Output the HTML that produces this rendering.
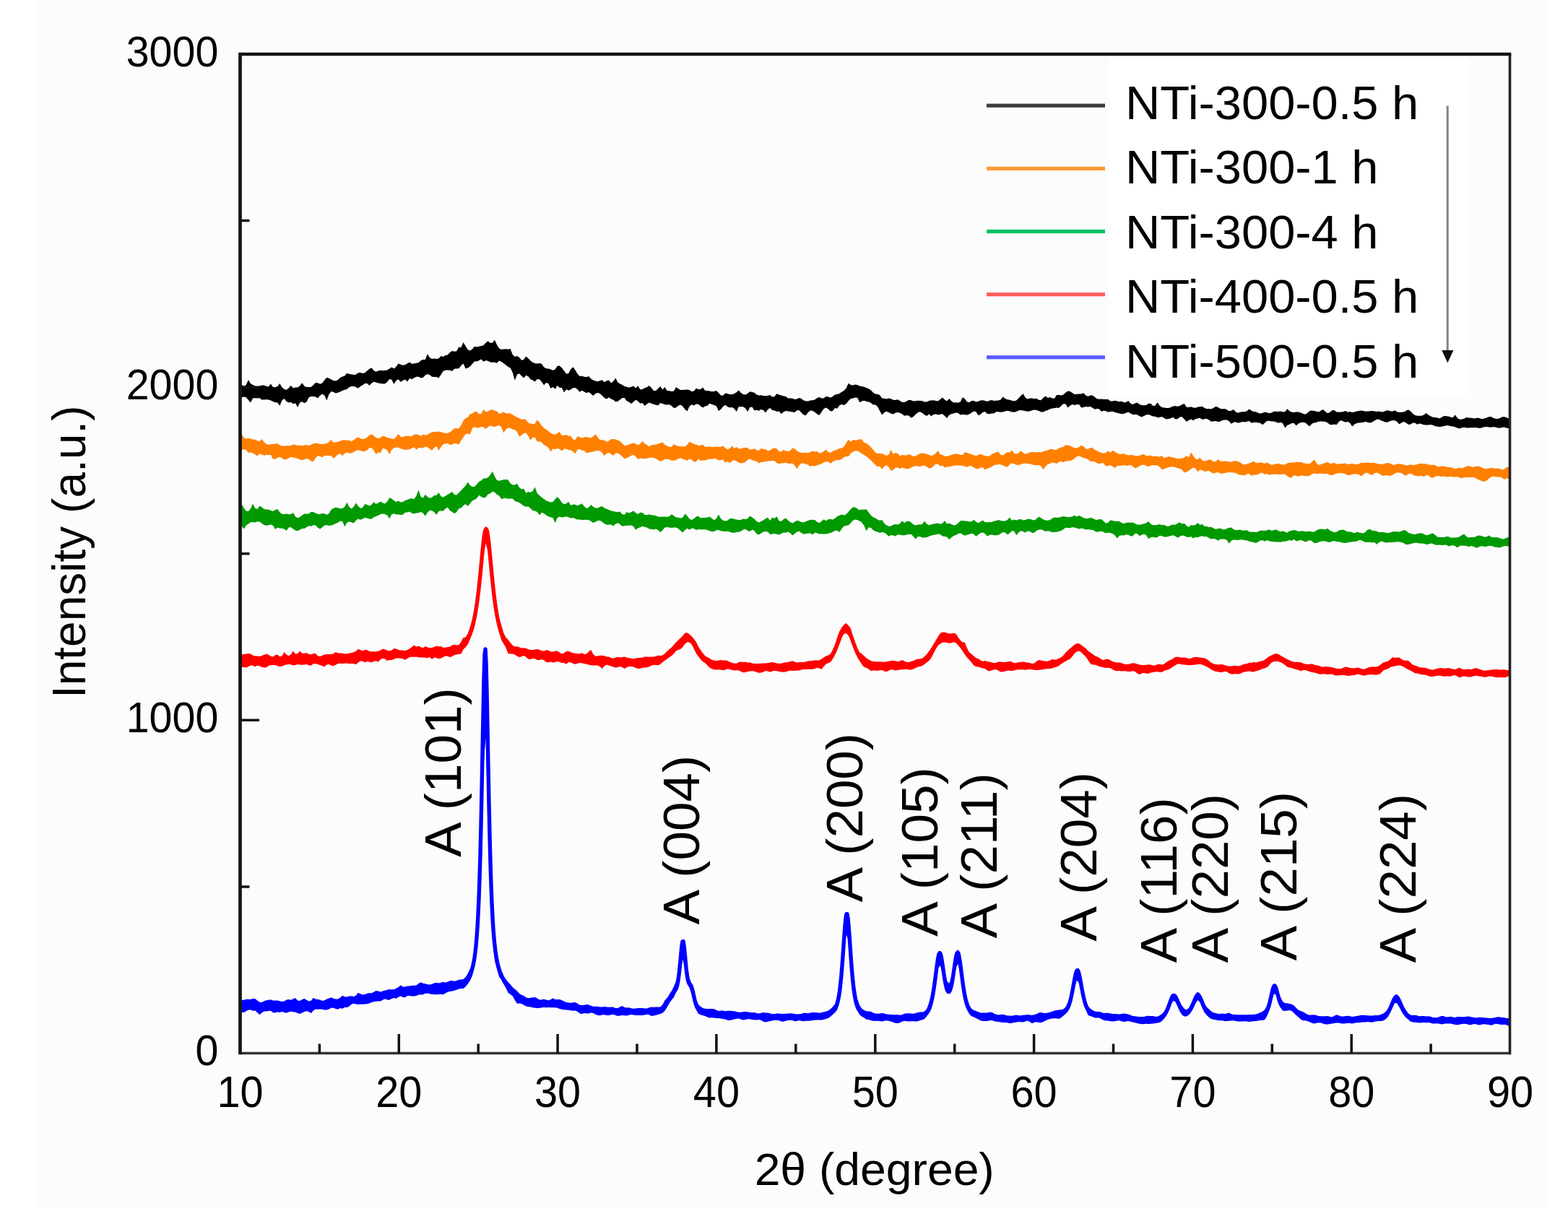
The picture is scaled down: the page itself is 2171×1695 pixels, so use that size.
<!DOCTYPE html>
<html><head><meta charset="utf-8"><style>
html,body{margin:0;padding:0;background:#fff;}
svg{display:block;}
</style></head><body>
<svg width="2171" height="1695" viewBox="0 0 2171 1695">
<rect width="2171" height="1695" fill="#fff"/>
<rect x="48" y="0" width="2094" height="1671" fill="#fcfcfc"/>
<rect x="1536" y="80" width="497" height="468" fill="#fff"/>
<polygon fill="#000000" points="333.0,532.1 337.7,535.0 340.8,533.1 343.9,526.0 347.0,531.3 350.1,533.0 353.2,534.8 356.3,535.5 359.4,534.5 362.5,533.5 365.6,533.5 368.7,534.8 371.8,535.4 374.9,531.5 378.0,535.9 381.1,536.2 384.2,534.9 387.3,531.0 390.4,536.3 393.5,539.1 396.6,539.8 399.7,537.4 402.8,533.8 405.9,537.4 409.0,536.6 412.1,536.5 415.2,534.3 418.3,530.2 421.4,534.7 424.5,536.1 427.6,536.0 430.7,535.9 433.8,533.3 436.9,530.1 440.0,530.2 443.1,531.7 446.2,530.5 449.3,526.3 452.4,522.8 455.5,523.7 458.6,525.6 461.7,527.0 464.8,527.5 467.9,526.1 471.0,523.0 474.1,521.6 477.2,520.5 480.3,516.7 483.4,517.9 486.5,518.2 489.6,519.0 492.7,518.8 495.8,516.3 498.9,516.1 502.0,517.1 505.1,516.2 508.2,513.4 511.3,510.9 514.4,509.2 517.5,513.3 520.6,514.8 523.7,513.6 526.8,512.8 529.9,513.2 533.0,513.1 536.1,512.4 539.2,510.4 542.3,508.4 545.4,510.4 548.5,507.7 551.6,503.4 554.7,504.7 557.8,505.7 560.9,505.3 564.0,503.2 567.1,501.8 570.2,503.7 573.3,503.6 576.4,502.7 579.5,502.3 582.6,499.2 585.7,498.1 588.8,498.0 591.9,490.2 595.0,495.3 598.1,497.0 601.2,496.6 604.3,497.1 607.4,496.4 610.5,493.0 613.6,494.1 616.7,492.0 619.8,491.4 622.9,488.0 626.0,486.1 629.1,486.7 632.2,486.3 635.3,480.6 638.4,481.3 641.5,473.9 644.6,479.2 647.7,484.2 650.8,485.6 653.9,483.5 657.0,479.7 660.1,480.4 663.2,479.7 666.3,478.9 669.4,478.3 672.5,474.8 675.6,472.3 678.7,474.7 681.8,474.8 684.9,470.7 688.0,477.6 691.1,482.4 694.2,483.9 697.3,483.4 700.4,483.3 703.5,483.7 706.6,482.9 709.7,491.1 712.8,493.9 715.9,492.9 719.0,494.9 722.1,498.8 725.2,497.9 728.3,493.5 731.4,496.2 734.5,499.6 737.6,501.7 740.7,503.2 743.8,503.6 746.9,502.9 750.0,503.7 753.1,508.4 756.2,510.3 759.3,510.6 762.4,511.5 765.5,512.8 768.6,511.5 771.7,506.8 774.8,506.4 777.9,509.4 781.0,513.5 784.1,517.7 787.2,517.0 790.3,511.2 793.4,508.3 796.5,512.5 799.6,517.8 802.7,521.1 805.8,520.8 808.9,521.7 812.0,522.3 815.1,521.1 818.2,524.4 821.3,526.5 824.4,527.6 827.5,528.3 830.6,527.3 833.7,526.3 836.8,529.3 839.9,527.2 843.0,526.4 846.1,530.4 849.2,528.1 852.3,523.6 855.4,529.4 858.5,531.4 861.6,532.9 864.7,535.0 867.8,535.7 870.9,536.8 874.0,535.7 877.1,534.5 880.2,537.5 883.3,534.2 886.4,539.4 889.5,538.9 892.6,537.2 895.7,536.3 898.8,534.1 901.9,537.0 905.0,541.2 908.1,541.1 911.2,538.1 914.3,535.0 917.4,539.5 920.5,536.1 923.6,541.2 926.7,541.3 929.8,542.1 932.9,541.8 936.0,535.9 939.1,538.3 942.2,540.1 945.3,539.9 948.4,539.7 951.5,539.4 954.6,540.1 957.7,542.2 960.8,541.4 963.9,537.8 967.0,539.1 970.1,539.0 973.2,536.6 976.3,541.0 979.4,541.1 982.5,541.4 985.6,542.3 988.7,542.1 991.8,541.0 994.9,544.1 998.0,547.6 1001.1,547.7 1004.2,544.4 1007.3,544.9 1010.4,546.3 1013.5,546.1 1016.6,545.2 1019.7,543.3 1022.8,540.4 1025.9,544.0 1029.0,546.0 1032.1,546.6 1035.2,545.0 1038.3,542.2 1041.4,543.0 1044.5,543.8 1047.6,546.6 1050.7,547.5 1053.8,547.3 1056.9,547.9 1060.0,548.2 1063.1,548.1 1066.2,547.0 1069.3,549.7 1072.4,549.1 1075.5,545.2 1078.6,546.5 1081.7,547.5 1084.8,548.5 1087.9,548.9 1091.0,551.4 1094.1,551.6 1097.2,551.8 1100.3,553.0 1103.4,552.4 1106.5,550.9 1109.6,552.1 1112.7,554.4 1115.8,555.5 1118.9,555.5 1122.0,554.5 1125.1,554.3 1128.2,553.5 1131.3,550.9 1134.4,550.1 1137.5,551.4 1140.6,551.6 1143.7,549.0 1146.8,549.6 1149.9,550.7 1153.0,549.1 1156.1,546.6 1159.2,546.0 1162.3,545.1 1165.4,542.8 1168.5,541.0 1171.6,537.5 1174.7,530.7 1177.8,533.0 1180.9,533.4 1184.0,532.5 1187.1,533.0 1190.2,534.6 1193.3,535.0 1196.4,535.7 1199.5,537.1 1202.6,538.2 1205.7,540.3 1208.8,543.4 1211.9,545.4 1215.0,546.1 1218.1,547.1 1221.2,551.4 1224.3,551.7 1227.4,552.6 1230.5,551.4 1233.6,552.2 1236.7,553.7 1239.8,554.1 1242.9,553.3 1246.0,555.0 1249.1,557.1 1252.2,557.0 1255.3,555.4 1258.4,553.8 1261.5,554.3 1264.6,555.5 1267.7,555.2 1270.8,554.8 1273.9,555.0 1277.0,555.3 1280.1,556.5 1283.2,556.6 1286.3,554.9 1289.4,554.4 1292.5,554.3 1295.6,555.1 1298.7,555.5 1301.8,553.0 1304.9,550.5 1308.0,553.6 1311.1,555.4 1314.2,551.9 1317.3,555.5 1320.4,557.5 1323.5,557.3 1326.6,557.8 1329.7,556.5 1332.8,550.3 1335.9,552.3 1339.0,556.5 1342.1,557.3 1345.2,555.0 1348.3,555.1 1351.4,556.5 1354.5,555.8 1357.6,554.6 1360.7,554.3 1363.8,555.1 1366.9,556.0 1370.0,554.7 1373.1,554.1 1376.2,554.9 1379.3,554.8 1382.4,554.6 1385.5,553.6 1388.6,549.6 1391.7,552.0 1394.8,553.3 1397.9,553.7 1401.0,554.7 1404.1,555.6 1407.2,554.4 1410.3,551.5 1413.4,548.0 1416.5,545.2 1419.6,550.5 1422.7,552.7 1425.8,551.4 1428.9,551.5 1432.0,552.3 1435.1,551.7 1438.2,553.8 1441.3,554.2 1444.4,551.0 1447.5,548.4 1450.6,551.0 1453.7,550.1 1456.8,551.6 1459.9,551.8 1463.0,547.1 1466.1,547.1 1469.2,547.4 1472.3,546.4 1475.4,543.7 1478.5,541.6 1481.6,542.0 1484.7,543.9 1487.8,545.9 1490.9,545.7 1494.0,545.5 1497.1,545.5 1500.2,544.2 1503.3,547.6 1506.4,548.9 1509.5,547.6 1512.6,547.4 1515.7,549.8 1518.8,552.3 1521.9,552.8 1525.0,552.4 1528.1,552.9 1531.2,553.0 1534.3,552.9 1537.4,555.4 1540.5,555.4 1543.6,554.7 1546.7,555.4 1549.8,556.3 1552.9,555.7 1556.0,557.2 1559.1,557.0 1562.2,555.0 1565.3,558.7 1568.4,559.9 1571.5,558.4 1574.6,557.4 1577.7,560.1 1580.8,560.9 1583.9,561.2 1587.0,560.9 1590.1,558.8 1593.2,558.8 1596.3,562.0 1599.4,561.8 1602.5,557.2 1605.6,561.7 1608.7,564.1 1611.8,564.6 1614.9,564.9 1618.0,564.9 1621.1,564.1 1624.2,562.5 1627.3,562.2 1630.4,562.7 1633.5,562.1 1636.6,560.2 1639.7,559.1 1642.8,563.8 1645.9,564.1 1649.0,563.3 1652.1,564.6 1655.2,564.8 1658.3,563.8 1661.4,563.1 1664.5,563.0 1667.6,564.7 1670.7,566.3 1673.8,566.1 1676.9,566.4 1680.0,564.9 1683.1,563.1 1686.2,563.7 1689.3,565.8 1692.4,566.6 1695.5,566.1 1698.6,567.3 1701.7,569.2 1704.8,568.8 1707.9,567.1 1711.0,570.5 1714.1,571.8 1717.2,570.8 1720.3,570.3 1723.4,570.2 1726.5,569.3 1729.6,566.5 1732.7,568.8 1735.8,570.0 1738.9,570.2 1742.0,571.7 1745.1,572.8 1748.2,571.7 1751.3,570.7 1754.4,571.2 1757.5,572.2 1760.6,571.4 1763.7,569.8 1766.8,569.7 1769.9,570.1 1773.0,569.4 1776.1,570.6 1779.2,570.2 1782.3,566.2 1785.4,569.2 1788.5,570.7 1791.6,571.0 1794.7,570.5 1797.8,570.4 1800.9,571.5 1804.0,572.8 1807.1,573.7 1810.2,572.0 1813.3,569.0 1816.4,568.5 1819.5,569.1 1822.6,569.8 1825.7,570.4 1828.8,568.7 1831.9,567.0 1835.0,569.9 1838.1,572.2 1841.2,571.1 1844.3,568.3 1847.4,568.1 1850.5,570.4 1853.6,570.8 1856.7,570.5 1859.8,570.2 1862.9,568.9 1866.0,570.7 1869.1,569.9 1872.2,571.0 1875.3,570.6 1878.4,569.5 1881.5,569.0 1884.6,568.5 1887.7,569.0 1890.8,569.8 1893.9,569.6 1897.0,569.3 1900.1,569.1 1903.2,569.6 1906.3,570.0 1909.4,569.4 1912.5,570.6 1915.6,570.3 1918.7,568.8 1921.8,568.3 1924.9,569.3 1928.0,569.8 1931.1,568.3 1934.2,570.3 1937.3,571.0 1940.4,570.8 1943.5,570.4 1946.6,568.9 1949.7,567.2 1952.8,569.3 1955.9,572.6 1959.0,575.1 1962.1,575.8 1965.2,575.7 1968.3,575.7 1971.4,574.4 1974.5,571.9 1977.6,574.6 1980.7,576.3 1983.8,577.8 1986.9,578.1 1990.0,578.4 1993.1,579.5 1996.2,577.7 1999.3,576.1 2002.4,576.3 2005.5,576.5 2008.6,577.8 2011.7,578.3 2014.8,574.5 2017.9,579.1 2021.0,580.7 2024.1,580.5 2027.2,579.7 2030.3,577.9 2033.4,578.5 2036.5,578.7 2039.6,579.2 2042.7,579.4 2045.8,578.6 2048.9,579.2 2052.0,580.2 2055.1,579.6 2058.2,578.4 2061.3,577.2 2064.4,577.0 2067.5,578.7 2070.6,579.7 2073.7,580.0 2076.8,578.9 2079.9,577.2 2083.0,577.3 2086.1,578.2 2090.5,580.5 2090.5,593.2 2086.1,592.8 2083.0,591.7 2079.9,591.7 2076.8,592.7 2073.7,592.4 2070.6,591.5 2067.5,591.2 2064.4,591.7 2061.3,591.6 2058.2,591.0 2055.1,591.2 2052.0,592.2 2048.9,592.9 2045.8,592.4 2042.7,592.0 2039.6,592.2 2036.5,592.2 2033.4,592.5 2030.3,592.5 2027.2,591.7 2024.1,592.2 2021.0,593.4 2017.9,592.8 2014.8,591.3 2011.7,590.5 2008.6,590.2 2005.5,589.2 2002.4,589.3 1999.3,590.0 1996.2,590.8 1993.1,591.1 1990.0,590.7 1986.9,590.0 1983.8,588.7 1980.7,588.0 1977.6,588.5 1974.5,588.6 1971.4,588.3 1968.3,587.2 1965.2,586.5 1962.1,587.8 1959.0,585.6 1955.9,585.8 1952.8,587.7 1949.7,587.7 1946.6,585.4 1943.5,584.0 1940.4,585.6 1937.3,587.6 1934.2,584.0 1931.1,582.2 1928.0,582.2 1924.9,582.9 1921.8,584.5 1918.7,584.7 1915.6,583.4 1912.5,582.5 1909.4,580.7 1906.3,580.7 1903.2,582.4 1900.1,584.4 1897.0,585.5 1893.9,584.9 1890.8,584.1 1887.7,584.7 1884.6,585.3 1881.5,585.4 1878.4,586.0 1875.3,587.8 1872.2,590.5 1869.1,585.7 1866.0,584.1 1862.9,584.7 1859.8,583.4 1856.7,582.0 1853.6,584.3 1850.5,588.2 1847.4,587.4 1844.3,588.3 1841.2,588.0 1838.1,585.4 1835.0,584.1 1831.9,583.8 1828.8,583.5 1825.7,583.7 1822.6,585.1 1819.5,585.6 1816.4,586.7 1813.3,590.6 1810.2,588.1 1807.1,585.2 1804.0,584.8 1800.9,585.3 1797.8,586.6 1794.7,589.5 1791.6,586.0 1788.5,585.9 1785.4,587.7 1782.3,588.8 1779.2,592.4 1776.1,586.2 1773.0,584.8 1769.9,585.8 1766.8,584.5 1763.7,583.6 1760.6,583.5 1757.5,582.9 1754.4,582.7 1751.3,585.4 1748.2,588.3 1745.1,586.0 1742.0,585.3 1738.9,585.1 1735.8,585.1 1732.7,585.8 1729.6,583.0 1726.5,583.8 1723.4,584.5 1720.3,583.9 1717.2,585.0 1714.1,585.7 1711.0,584.5 1707.9,584.8 1704.8,587.0 1701.7,583.3 1698.6,581.5 1695.5,581.5 1692.4,581.9 1689.3,583.8 1686.2,584.1 1683.1,582.9 1680.0,583.5 1676.9,583.7 1673.8,581.5 1670.7,579.7 1667.6,580.2 1664.5,581.0 1661.4,578.8 1658.3,579.5 1655.2,580.2 1652.1,582.3 1649.0,580.6 1645.9,582.0 1642.8,584.1 1639.7,580.4 1636.6,577.2 1633.5,577.5 1630.4,580.3 1627.3,580.6 1624.2,577.7 1621.1,579.3 1618.0,580.0 1614.9,580.6 1611.8,578.9 1608.7,577.1 1605.6,578.1 1602.5,578.2 1599.4,576.8 1596.3,576.4 1593.2,575.3 1590.1,574.0 1587.0,574.5 1583.9,576.1 1580.8,577.4 1577.7,576.3 1574.6,574.3 1571.5,574.0 1568.4,574.2 1565.3,572.5 1562.2,570.8 1559.1,571.7 1556.0,573.1 1552.9,573.3 1549.8,572.6 1546.7,571.7 1543.6,571.1 1540.5,569.8 1537.4,570.1 1534.3,570.7 1531.2,569.3 1528.1,568.7 1525.0,569.9 1521.9,566.4 1518.8,565.9 1515.7,566.8 1512.6,564.8 1509.5,562.9 1506.4,563.6 1503.3,563.1 1500.2,563.9 1497.1,564.6 1494.0,560.1 1490.9,560.2 1487.8,560.9 1484.7,560.1 1481.6,561.7 1478.5,564.4 1475.4,559.6 1472.3,559.2 1469.2,562.0 1466.1,564.9 1463.0,564.6 1459.9,565.3 1456.8,565.4 1453.7,566.6 1450.6,568.1 1447.5,569.0 1444.4,570.6 1441.3,570.5 1438.2,569.1 1435.1,568.0 1432.0,567.6 1428.9,568.2 1425.8,569.5 1422.7,569.8 1419.6,569.2 1416.5,568.6 1413.4,568.1 1410.3,568.4 1407.2,570.0 1404.1,570.8 1401.0,570.4 1397.9,569.4 1394.8,568.7 1391.7,569.5 1388.6,570.5 1385.5,570.7 1382.4,570.2 1379.3,570.2 1376.2,572.4 1373.1,572.4 1370.0,573.2 1366.9,572.9 1363.8,569.9 1360.7,570.9 1357.6,573.7 1354.5,575.2 1351.4,570.2 1348.3,569.6 1345.2,571.6 1342.1,573.5 1339.0,574.7 1335.9,574.2 1332.8,574.0 1329.7,574.6 1326.6,572.1 1323.5,571.5 1320.4,572.6 1317.3,573.2 1314.2,574.7 1311.1,579.1 1308.0,575.9 1304.9,573.2 1301.8,573.8 1298.7,574.6 1295.6,573.4 1292.5,574.0 1289.4,576.6 1286.3,573.5 1283.2,576.1 1280.1,574.5 1277.0,572.0 1273.9,570.3 1270.8,571.2 1267.7,573.9 1264.6,577.0 1261.5,578.8 1258.4,575.5 1255.3,575.3 1252.2,575.7 1249.1,573.5 1246.0,571.7 1242.9,570.9 1239.8,571.8 1236.7,573.4 1233.6,572.7 1230.5,570.9 1227.4,569.8 1224.3,571.3 1221.2,574.6 1218.1,568.9 1215.0,562.9 1211.9,560.5 1208.8,560.4 1205.7,557.7 1202.6,556.5 1199.5,556.0 1196.4,554.8 1193.3,555.6 1190.2,557.3 1187.1,550.7 1184.0,550.4 1180.9,551.6 1177.8,552.2 1174.7,555.3 1171.6,559.2 1168.5,561.1 1165.4,560.1 1162.3,561.3 1159.2,565.8 1156.1,565.1 1153.0,569.1 1149.9,569.5 1146.8,566.6 1143.7,564.5 1140.6,566.1 1137.5,570.6 1134.4,575.0 1131.3,573.4 1128.2,570.7 1125.1,569.1 1122.0,568.4 1118.9,571.1 1115.8,575.3 1112.7,574.4 1109.6,571.4 1106.5,568.2 1103.4,568.2 1100.3,571.0 1097.2,570.5 1094.1,570.0 1091.0,569.6 1087.9,569.0 1084.8,570.5 1081.7,573.3 1078.6,569.5 1075.5,570.0 1072.4,568.6 1069.3,567.9 1066.2,565.1 1063.1,566.9 1060.0,571.5 1056.9,568.1 1053.8,567.0 1050.7,568.7 1047.6,567.8 1044.5,568.5 1041.4,563.4 1038.3,563.9 1035.2,570.0 1032.1,565.6 1029.0,563.3 1025.9,563.3 1022.8,563.3 1019.7,570.2 1016.6,565.8 1013.5,563.9 1010.4,564.4 1007.3,563.3 1004.2,560.7 1001.1,563.0 998.0,566.9 994.9,568.9 991.8,562.3 988.7,561.1 985.6,560.0 982.5,558.7 979.4,561.8 976.3,562.4 973.2,564.5 970.1,562.4 967.0,559.8 963.9,559.6 960.8,561.6 957.7,560.3 954.6,562.8 951.5,569.4 948.4,567.0 945.3,562.7 942.2,560.6 939.1,561.7 936.0,564.5 932.9,564.9 929.8,562.0 926.7,560.2 923.6,560.5 920.5,560.3 917.4,558.9 914.3,558.1 911.2,561.6 908.1,560.8 905.0,559.7 901.9,558.7 898.8,557.6 895.7,559.5 892.6,561.9 889.5,557.9 886.4,558.7 883.3,555.6 880.2,553.8 877.1,556.4 874.0,559.0 870.9,556.8 867.8,555.3 864.7,551.1 861.6,551.0 858.5,553.4 855.4,555.7 852.3,556.6 849.2,553.8 846.1,552.6 843.0,550.3 839.9,552.6 836.8,551.0 833.7,547.8 830.6,545.1 827.5,543.9 824.4,545.1 821.3,548.0 818.2,545.2 815.1,542.9 812.0,544.2 808.9,542.6 805.8,540.7 802.7,542.8 799.6,539.2 796.5,537.0 793.4,537.3 790.3,539.2 787.2,540.8 784.1,539.2 781.0,543.4 777.9,536.9 774.8,536.9 771.7,533.8 768.6,538.7 765.5,536.1 762.4,538.1 759.3,531.1 756.2,530.0 753.1,533.2 750.0,528.7 746.9,525.2 743.8,525.0 740.7,528.4 737.6,526.4 734.5,525.3 731.4,521.2 728.3,519.7 725.2,523.5 722.1,520.6 719.0,517.2 715.9,518.8 712.8,526.8 709.7,515.7 706.6,509.5 703.5,508.0 700.4,505.6 697.3,502.9 694.2,500.9 691.1,499.4 688.0,502.8 684.9,501.7 681.8,501.7 678.7,501.4 675.6,499.8 672.5,499.3 669.4,500.7 666.3,497.5 663.2,499.2 660.1,500.5 657.0,500.6 653.9,503.9 650.8,507.5 647.7,509.5 644.6,510.5 641.5,503.4 638.4,506.3 635.3,510.3 632.2,510.6 629.1,510.8 626.0,514.0 622.9,512.7 619.8,512.5 616.7,512.8 613.6,514.0 610.5,518.9 607.4,523.6 604.3,521.9 601.2,522.1 598.1,521.7 595.0,519.3 591.9,518.0 588.8,519.6 585.7,523.0 582.6,523.3 579.5,521.7 576.4,521.7 573.3,523.3 570.2,525.2 567.1,524.0 564.0,528.4 560.9,525.5 557.8,526.8 554.7,529.1 551.6,525.2 548.5,527.0 545.4,532.0 542.3,525.8 539.2,524.9 536.1,529.0 533.0,531.4 529.9,531.6 526.8,530.9 523.7,530.5 520.6,529.4 517.5,528.8 514.4,530.7 511.3,533.8 508.2,531.0 505.1,531.1 502.0,533.4 498.9,534.9 495.8,537.7 492.7,535.9 489.6,534.9 486.5,535.0 483.4,536.3 480.3,538.9 477.2,539.8 474.1,541.1 471.0,542.4 467.9,543.7 464.8,544.4 461.7,542.9 458.6,541.9 455.5,545.9 452.4,554.4 449.3,547.5 446.2,545.4 443.1,547.7 440.0,551.6 436.9,549.6 433.8,548.9 430.7,548.9 427.6,550.2 424.5,556.6 421.4,558.2 418.3,556.3 415.2,557.4 412.1,564.0 409.0,558.6 405.9,559.2 402.8,557.1 399.7,557.4 396.6,556.1 393.5,552.1 390.4,554.4 387.3,562.1 384.2,557.4 381.1,557.3 378.0,556.1 374.9,554.4 371.8,553.6 368.7,553.2 365.6,553.5 362.5,553.4 359.4,551.3 356.3,551.6 353.2,551.2 350.1,551.6 347.0,557.6 343.9,554.0 340.8,550.3 337.7,549.4 333.0,550.7"/>
<polyline fill="none" stroke="#000000" stroke-width="5.4" stroke-linejoin="round" points="333,542.5 334,542.6 335,542.7 336,542.8 337,542.9 338,543.0 339,543.1 340,543.2 341,543.3 342,543.4 343,543.4 344,543.5 345,543.6 346,543.7 347,543.8 348,543.9 349,544.0 350,544.0 351,544.1 352,544.2 353,544.3 354,544.4 355,544.4 356,544.5 357,544.6 358,544.7 359,544.7 360,544.8 361,544.9 362,545.0 363,545.0 364,545.1 365,545.2 366,545.2 367,545.3 368,545.4 369,545.4 370,545.5 371,545.5 372,545.6 373,545.6 374,545.7 375,545.8 376,545.8 377,545.9 378,545.9 379,546.0 380,546.0 381,546.0 382,546.1 383,546.1 384,546.2 385,546.2 386,546.3 387,546.3 388,546.4 389,546.4 390,546.5 391,546.5 392,546.6 393,546.6 394,546.6 395,546.7 396,546.7 397,546.8 398,546.8 399,546.8 400,546.9 401,546.9 402,546.9 403,546.9 404,547.0 405,547.0 406,547.0 407,547.0 408,547.0 409,547.0 410,547.0 411,547.0 412,546.9 413,546.9 414,546.8 415,546.7 416,546.6 417,546.5 418,546.3 419,546.2 420,546.0 421,545.8 422,545.6 423,545.4 424,545.2 425,545.0 426,544.8 427,544.5 428,544.3 429,544.0 430,543.8 431,543.5 432,543.2 433,543.0 434,542.7 435,542.4 436,542.1 437,541.8 438,541.5 439,541.2 440,540.8 441,540.5 442,540.2 443,539.9 444,539.6 445,539.3 446,539.0 447,538.7 448,538.4 449,538.0 450,537.7 451,537.4 452,537.1 453,536.9 454,536.6 455,536.3 456,536.0 457,535.8 458,535.5 459,535.2 460,535.0 461,534.8 462,534.5 463,534.3 464,534.0 465,533.8 466,533.5 467,533.3 468,533.0 469,532.8 470,532.5 471,532.3 472,532.0 473,531.8 474,531.5 475,531.2 476,531.0 477,530.7 478,530.5 479,530.2 480,529.9 481,529.7 482,529.4 483,529.1 484,528.9 485,528.6 486,528.4 487,528.1 488,527.9 489,527.6 490,527.3 491,527.1 492,526.8 493,526.6 494,526.3 495,526.1 496,525.8 497,525.6 498,525.4 499,525.1 500,524.9 501,524.6 502,524.4 503,524.2 504,524.0 505,523.7 506,523.5 507,523.3 508,523.1 509,522.9 510,522.7 511,522.5 512,522.3 513,522.1 514,521.9 515,521.7 516,521.5 517,521.3 518,521.1 519,521.0 520,520.8 521,520.6 522,520.5 523,520.3 524,520.2 525,520.0 526,519.8 527,519.7 528,519.5 529,519.4 530,519.3 531,519.1 532,519.0 533,518.8 534,518.7 535,518.5 536,518.4 537,518.3 538,518.1 539,518.0 540,517.9 541,517.7 542,517.6 543,517.5 544,517.3 545,517.2 546,517.0 547,516.9 548,516.8 549,516.6 550,516.5 551,516.4 552,516.2 553,516.1 554,515.9 555,515.8 556,515.6 557,515.5 558,515.3 559,515.2 560,515.0 561,514.8 562,514.7 563,514.5 564,514.4 565,514.2 566,514.0 567,513.9 568,513.7 569,513.6 570,513.4 571,513.2 572,513.1 573,512.9 574,512.7 575,512.6 576,512.4 577,512.2 578,512.1 579,511.9 580,511.7 581,511.6 582,511.4 583,511.2 584,511.0 585,510.9 586,510.7 587,510.5 588,510.3 589,510.1 590,510.0 591,509.8 592,509.6 593,509.4 594,509.2 595,509.0 596,508.8 597,508.6 598,508.4 599,508.2 600,508.0 601,507.8 602,507.6 603,507.4 604,507.1 605,506.9 606,506.7 607,506.5 608,506.2 609,506.0 610,505.8 611,505.5 612,505.3 613,505.0 614,504.8 615,504.5 616,504.3 617,504.0 618,503.8 619,503.5 620,503.3 621,503.0 622,502.7 623,502.5 624,502.2 625,501.9 626,501.7 627,501.4 628,501.1 629,500.9 630,500.6 631,500.4 632,500.1 633,499.8 634,499.6 635,499.3 636,499.0 637,498.8 638,498.5 639,498.3 640,498.0 641,497.7 642,497.5 643,497.2 644,496.9 645,496.6 646,496.2 647,495.9 648,495.6 649,495.2 650,494.9 651,494.5 652,494.2 653,493.8 654,493.5 655,493.1 656,492.8 657,492.5 658,492.1 659,491.8 660,491.5 661,491.1 662,490.8 663,490.5 664,490.2 665,490.0 666,489.7 667,489.4 668,489.2 669,489.0 670,488.8 671,488.6 672,488.5 673,488.3 674,488.2 675,488.1 676,488.1 677,488.0 678,488.0 679,488.0 680,488.1 681,488.2 682,488.3 683,488.5 684,488.7 685,489.0 686,489.2 687,489.5 688,489.9 689,490.2 690,490.6 691,491.0 692,491.4 693,491.9 694,492.3 695,492.8 696,493.2 697,493.7 698,494.2 699,494.7 700,495.2 701,495.7 702,496.2 703,496.7 704,497.2 705,497.7 706,498.2 707,498.7 708,499.1 709,499.6 710,500.0 711,500.4 712,500.9 713,501.3 714,501.8 715,502.3 716,502.8 717,503.3 718,503.8 719,504.3 720,504.9 721,505.4 722,505.9 723,506.5 724,507.0 725,507.6 726,508.1 727,508.7 728,509.2 729,509.8 730,510.3 731,510.8 732,511.3 733,511.9 734,512.4 735,512.9 736,513.3 737,513.8 738,514.3 739,514.7 740,515.1 741,515.6 742,515.9 743,516.3 744,516.7 745,517.0 746,517.3 747,517.6 748,517.9 749,518.2 750,518.5 751,518.8 752,519.1 753,519.4 754,519.6 755,519.9 756,520.2 757,520.4 758,520.7 759,520.9 760,521.2 761,521.4 762,521.7 763,521.9 764,522.1 765,522.4 766,522.6 767,522.8 768,523.0 769,523.3 770,523.5 771,523.7 772,523.9 773,524.1 774,524.3 775,524.5 776,524.7 777,524.9 778,525.1 779,525.3 780,525.5 781,525.7 782,525.9 783,526.1 784,526.3 785,526.5 786,526.7 787,526.9 788,527.1 789,527.3 790,527.5 791,527.7 792,527.9 793,528.1 794,528.3 795,528.5 796,528.7 797,528.9 798,529.1 799,529.4 800,529.6 801,529.8 802,530.0 803,530.2 804,530.4 805,530.7 806,530.9 807,531.1 808,531.3 809,531.6 810,531.8 811,532.0 812,532.2 813,532.5 814,532.7 815,532.9 816,533.1 817,533.4 818,533.6 819,533.8 820,534.1 821,534.3 822,534.5 823,534.7 824,535.0 825,535.2 826,535.4 827,535.7 828,535.9 829,536.1 830,536.3 831,536.6 832,536.8 833,537.0 834,537.2 835,537.4 836,537.7 837,537.9 838,538.1 839,538.3 840,538.5 841,538.7 842,538.9 843,539.2 844,539.4 845,539.6 846,539.8 847,540.0 848,540.2 849,540.4 850,540.6 851,540.7 852,540.9 853,541.1 854,541.3 855,541.5 856,541.7 857,541.8 858,542.0 859,542.2 860,542.4 861,542.5 862,542.7 863,542.8 864,543.0 865,543.2 866,543.3 867,543.5 868,543.6 869,543.8 870,543.9 871,544.1 872,544.2 873,544.4 874,544.5 875,544.7 876,544.8 877,545.0 878,545.1 879,545.3 880,545.4 881,545.6 882,545.7 883,545.9 884,546.0 885,546.2 886,546.3 887,546.4 888,546.6 889,546.7 890,546.9 891,547.0 892,547.1 893,547.3 894,547.4 895,547.5 896,547.7 897,547.8 898,547.9 899,548.0 900,548.2 901,548.3 902,548.4 903,548.5 904,548.6 905,548.7 906,548.8 907,549.0 908,549.1 909,549.2 910,549.3 911,549.4 912,549.5 913,549.6 914,549.6 915,549.7 916,549.8 917,549.9 918,550.0 919,550.1 920,550.1 921,550.2 922,550.3 923,550.3 924,550.4 925,550.4 926,550.5 927,550.6 928,550.6 929,550.7 930,550.7 931,550.7 932,550.8 933,550.8 934,550.9 935,550.9 936,551.0 937,551.0 938,551.0 939,551.1 940,551.1 941,551.1 942,551.2 943,551.2 944,551.2 945,551.3 946,551.3 947,551.3 948,551.4 949,551.4 950,551.4 951,551.4 952,551.5 953,551.5 954,551.5 955,551.5 956,551.6 957,551.6 958,551.6 959,551.7 960,551.7 961,551.7 962,551.7 963,551.8 964,551.8 965,551.8 966,551.8 967,551.9 968,551.9 969,551.9 970,551.9 971,552.0 972,552.0 973,552.0 974,552.1 975,552.1 976,552.1 977,552.1 978,552.2 979,552.2 980,552.2 981,552.3 982,552.3 983,552.4 984,552.4 985,552.4 986,552.5 987,552.5 988,552.6 989,552.6 990,552.6 991,552.7 992,552.7 993,552.8 994,552.8 995,552.9 996,552.9 997,553.0 998,553.1 999,553.1 1000,553.2 1001,553.2 1002,553.3 1003,553.4 1004,553.4 1005,553.5 1006,553.5 1007,553.6 1008,553.7 1009,553.7 1010,553.8 1011,553.9 1012,553.9 1013,554.0 1014,554.1 1015,554.1 1016,554.2 1017,554.3 1018,554.4 1019,554.4 1020,554.5 1021,554.6 1022,554.7 1023,554.7 1024,554.8 1025,554.9 1026,555.0 1027,555.0 1028,555.1 1029,555.2 1030,555.3 1031,555.3 1032,555.4 1033,555.5 1034,555.6 1035,555.6 1036,555.7 1037,555.8 1038,555.9 1039,555.9 1040,556.0 1041,556.1 1042,556.2 1043,556.2 1044,556.3 1045,556.4 1046,556.4 1047,556.5 1048,556.6 1049,556.7 1050,556.7 1051,556.8 1052,556.9 1053,556.9 1054,557.0 1055,557.1 1056,557.2 1057,557.2 1058,557.3 1059,557.4 1060,557.5 1061,557.5 1062,557.6 1063,557.7 1064,557.8 1065,557.9 1066,558.0 1067,558.0 1068,558.1 1069,558.2 1070,558.3 1071,558.4 1072,558.4 1073,558.5 1074,558.6 1075,558.7 1076,558.8 1077,558.9 1078,558.9 1079,559.0 1080,559.1 1081,559.2 1082,559.3 1083,559.3 1084,559.4 1085,559.5 1086,559.6 1087,559.6 1088,559.7 1089,559.8 1090,559.9 1091,559.9 1092,560.0 1093,560.1 1094,560.1 1095,560.2 1096,560.3 1097,560.3 1098,560.4 1099,560.4 1100,560.5 1101,560.5 1102,560.6 1103,560.7 1104,560.7 1105,560.7 1106,560.8 1107,560.8 1108,560.9 1109,560.9 1110,560.9 1111,561.0 1112,561.0 1113,561.0 1114,561.0 1115,561.0 1116,561.0 1117,561.1 1118,561.1 1119,561.1 1120,561.1 1121,561.1 1122,561.1 1123,561.1 1124,561.0 1125,561.0 1126,561.0 1127,561.0 1128,561.0 1129,560.9 1130,560.9 1131,560.8 1132,560.8 1133,560.7 1134,560.6 1135,560.6 1136,560.5 1137,560.4 1138,560.3 1139,560.2 1140,560.1 1141,559.9 1142,559.8 1143,559.6 1144,559.4 1145,559.2 1146,559.0 1147,558.8 1148,558.5 1149,558.3 1150,558.0 1151,557.7 1152,557.4 1153,557.0 1154,556.7 1155,556.3 1156,555.9 1157,555.5 1158,555.1 1159,554.6 1160,554.1 1161,553.6 1162,553.1 1163,552.6 1164,552.0 1165,551.5 1166,550.9 1167,550.3 1168,549.7 1169,549.1 1170,548.5 1171,547.9 1172,547.3 1173,546.7 1174,546.1 1175,545.5 1176,545.0 1177,544.4 1178,543.9 1179,543.4 1180,543.0 1181,542.6 1182,542.2 1183,541.9 1184,541.6 1185,541.4 1186,541.2 1187,541.1 1188,541.1 1189,541.1 1190,541.2 1191,541.4 1192,541.6 1193,541.9 1194,542.2 1195,542.6 1196,543.0 1197,543.5 1198,544.0 1199,544.6 1200,545.2 1201,545.8 1202,546.5 1203,547.1 1204,547.8 1205,548.5 1206,549.2 1207,549.9 1208,550.6 1209,551.3 1210,551.9 1211,552.6 1212,553.3 1213,553.9 1214,554.5 1215,555.1 1216,555.7 1217,556.3 1218,556.9 1219,557.4 1220,557.9 1221,558.4 1222,558.9 1223,559.3 1224,559.7 1225,560.1 1226,560.5 1227,560.9 1228,561.2 1229,561.5 1230,561.8 1231,562.1 1232,562.3 1233,562.6 1234,562.8 1235,563.0 1236,563.2 1237,563.3 1238,563.5 1239,563.6 1240,563.8 1241,563.9 1242,564.0 1243,564.1 1244,564.2 1245,564.3 1246,564.4 1247,564.4 1248,564.5 1249,564.5 1250,564.6 1251,564.6 1252,564.7 1253,564.7 1254,564.8 1255,564.8 1256,564.8 1257,564.9 1258,564.9 1259,564.9 1260,564.9 1261,564.9 1262,565.0 1263,565.0 1264,565.0 1265,565.0 1266,565.0 1267,565.0 1268,565.0 1269,565.0 1270,565.0 1271,565.0 1272,565.1 1273,565.1 1274,565.1 1275,565.1 1276,565.1 1277,565.1 1278,565.1 1279,565.1 1280,565.1 1281,565.1 1282,565.1 1283,565.1 1284,565.1 1285,565.1 1286,565.1 1287,565.1 1288,565.1 1289,565.1 1290,565.1 1291,565.1 1292,565.1 1293,565.1 1294,565.1 1295,565.0 1296,565.0 1297,565.0 1298,565.0 1299,565.0 1300,565.0 1301,565.0 1302,565.0 1303,565.0 1304,565.0 1305,565.0 1306,565.0 1307,565.0 1308,565.0 1309,565.0 1310,565.0 1311,565.0 1312,564.9 1313,564.9 1314,564.9 1315,564.9 1316,564.9 1317,564.9 1318,564.9 1319,564.9 1320,564.9 1321,564.9 1322,564.8 1323,564.8 1324,564.8 1325,564.8 1326,564.8 1327,564.8 1328,564.8 1329,564.8 1330,564.7 1331,564.7 1332,564.7 1333,564.7 1334,564.7 1335,564.7 1336,564.7 1337,564.6 1338,564.6 1339,564.6 1340,564.6 1341,564.6 1342,564.6 1343,564.5 1344,564.5 1345,564.5 1346,564.5 1347,564.5 1348,564.4 1349,564.4 1350,564.4 1351,564.4 1352,564.4 1353,564.3 1354,564.3 1355,564.3 1356,564.3 1357,564.3 1358,564.2 1359,564.2 1360,564.2 1361,564.2 1362,564.1 1363,564.1 1364,564.1 1365,564.1 1366,564.0 1367,564.0 1368,564.0 1369,563.9 1370,563.9 1371,563.9 1372,563.8 1373,563.8 1374,563.7 1375,563.7 1376,563.6 1377,563.6 1378,563.5 1379,563.5 1380,563.4 1381,563.3 1382,563.3 1383,563.2 1384,563.1 1385,563.1 1386,563.0 1387,562.9 1388,562.9 1389,562.8 1390,562.7 1391,562.6 1392,562.6 1393,562.5 1394,562.4 1395,562.3 1396,562.2 1397,562.2 1398,562.1 1399,562.0 1400,561.9 1401,561.8 1402,561.8 1403,561.7 1404,561.6 1405,561.5 1406,561.5 1407,561.4 1408,561.3 1409,561.2 1410,561.2 1411,561.1 1412,561.0 1413,560.9 1414,560.9 1415,560.8 1416,560.7 1417,560.7 1418,560.6 1419,560.5 1420,560.5 1421,560.4 1422,560.4 1423,560.3 1424,560.2 1425,560.2 1426,560.1 1427,560.1 1428,560.0 1429,560.0 1430,560.0 1431,559.9 1432,559.9 1433,559.8 1434,559.7 1435,559.7 1436,559.6 1437,559.6 1438,559.5 1439,559.4 1440,559.4 1441,559.3 1442,559.2 1443,559.1 1444,559.0 1445,559.0 1446,558.9 1447,558.8 1448,558.7 1449,558.5 1450,558.4 1451,558.3 1452,558.2 1453,558.1 1454,557.9 1455,557.8 1456,557.6 1457,557.5 1458,557.3 1459,557.2 1460,557.0 1461,556.8 1462,556.7 1463,556.5 1464,556.3 1465,556.1 1466,555.9 1467,555.7 1468,555.5 1469,555.3 1470,555.1 1471,554.9 1472,554.7 1473,554.5 1474,554.4 1475,554.2 1476,554.0 1477,553.8 1478,553.6 1479,553.5 1480,553.3 1481,553.2 1482,553.1 1483,552.9 1484,552.8 1485,552.8 1486,552.7 1487,552.6 1488,552.6 1489,552.6 1490,552.6 1491,552.7 1492,552.7 1493,552.8 1494,552.9 1495,553.0 1496,553.1 1497,553.3 1498,553.5 1499,553.7 1500,553.9 1501,554.1 1502,554.3 1503,554.5 1504,554.8 1505,555.0 1506,555.3 1507,555.6 1508,555.8 1509,556.1 1510,556.4 1511,556.6 1512,556.9 1513,557.2 1514,557.5 1515,557.7 1516,558.0 1517,558.3 1518,558.5 1519,558.8 1520,559.0 1521,559.2 1522,559.5 1523,559.7 1524,559.9 1525,560.2 1526,560.4 1527,560.6 1528,560.9 1529,561.1 1530,561.3 1531,561.5 1532,561.7 1533,561.9 1534,562.1 1535,562.3 1536,562.5 1537,562.7 1538,562.8 1539,563.0 1540,563.2 1541,563.4 1542,563.5 1543,563.7 1544,563.8 1545,564.0 1546,564.1 1547,564.3 1548,564.4 1549,564.5 1550,564.7 1551,564.8 1552,564.9 1553,565.0 1554,565.1 1555,565.2 1556,565.3 1557,565.4 1558,565.5 1559,565.6 1560,565.8 1561,565.9 1562,566.0 1563,566.1 1564,566.2 1565,566.3 1566,566.4 1567,566.5 1568,566.6 1569,566.7 1570,566.8 1571,566.9 1572,567.0 1573,567.1 1574,567.2 1575,567.3 1576,567.4 1577,567.5 1578,567.6 1579,567.7 1580,567.8 1581,567.9 1582,568.0 1583,568.1 1584,568.2 1585,568.3 1586,568.4 1587,568.5 1588,568.6 1589,568.7 1590,568.8 1591,568.9 1592,569.0 1593,569.0 1594,569.1 1595,569.2 1596,569.3 1597,569.3 1598,569.4 1599,569.5 1600,569.5 1601,569.6 1602,569.7 1603,569.7 1604,569.8 1605,569.8 1606,569.9 1607,569.9 1608,570.0 1609,570.0 1610,570.1 1611,570.1 1612,570.1 1613,570.2 1614,570.2 1615,570.2 1616,570.2 1617,570.2 1618,570.2 1619,570.3 1620,570.3 1621,570.3 1622,570.3 1623,570.3 1624,570.3 1625,570.3 1626,570.3 1627,570.3 1628,570.4 1629,570.4 1630,570.4 1631,570.4 1632,570.4 1633,570.4 1634,570.4 1635,570.4 1636,570.4 1637,570.5 1638,570.5 1639,570.5 1640,570.5 1641,570.5 1642,570.5 1643,570.6 1644,570.6 1645,570.7 1646,570.7 1647,570.7 1648,570.8 1649,570.9 1650,570.9 1651,571.0 1652,571.1 1653,571.1 1654,571.2 1655,571.3 1656,571.4 1657,571.5 1658,571.5 1659,571.6 1660,571.7 1661,571.8 1662,571.9 1663,572.0 1664,572.1 1665,572.2 1666,572.3 1667,572.4 1668,572.5 1669,572.6 1670,572.8 1671,572.9 1672,573.0 1673,573.1 1674,573.2 1675,573.3 1676,573.4 1677,573.5 1678,573.6 1679,573.7 1680,573.8 1681,574.0 1682,574.1 1683,574.2 1684,574.3 1685,574.4 1686,574.5 1687,574.6 1688,574.7 1689,574.8 1690,574.9 1691,575.0 1692,575.0 1693,575.1 1694,575.2 1695,575.3 1696,575.4 1697,575.4 1698,575.5 1699,575.6 1700,575.6 1701,575.7 1702,575.8 1703,575.8 1704,575.8 1705,575.9 1706,575.9 1707,576.0 1708,576.0 1709,576.1 1710,576.1 1711,576.2 1712,576.2 1713,576.3 1714,576.3 1715,576.4 1716,576.4 1717,576.5 1718,576.5 1719,576.6 1720,576.6 1721,576.7 1722,576.7 1723,576.7 1724,576.8 1725,576.8 1726,576.9 1727,576.9 1728,577.0 1729,577.0 1730,577.0 1731,577.1 1732,577.1 1733,577.2 1734,577.2 1735,577.2 1736,577.3 1737,577.3 1738,577.4 1739,577.4 1740,577.4 1741,577.5 1742,577.5 1743,577.5 1744,577.5 1745,577.6 1746,577.6 1747,577.6 1748,577.7 1749,577.7 1750,577.7 1751,577.7 1752,577.7 1753,577.8 1754,577.8 1755,577.8 1756,577.8 1757,577.8 1758,577.8 1759,577.9 1760,577.9 1761,577.9 1762,577.9 1763,577.9 1764,577.9 1765,577.9 1766,577.9 1767,577.9 1768,577.9 1769,577.9 1770,577.9 1771,577.9 1772,577.9 1773,577.9 1774,577.9 1775,577.9 1776,577.9 1777,577.9 1778,577.9 1779,577.9 1780,577.9 1781,577.9 1782,577.9 1783,577.9 1784,577.9 1785,577.9 1786,577.9 1787,577.9 1788,577.9 1789,577.9 1790,577.9 1791,577.9 1792,577.9 1793,577.9 1794,577.9 1795,577.9 1796,577.9 1797,577.9 1798,577.9 1799,577.9 1800,577.9 1801,577.9 1802,577.9 1803,577.9 1804,577.9 1805,577.9 1806,577.9 1807,577.9 1808,577.9 1809,577.9 1810,577.9 1811,577.9 1812,577.9 1813,577.9 1814,577.9 1815,577.9 1816,577.9 1817,577.9 1818,577.9 1819,577.9 1820,577.9 1821,577.9 1822,577.9 1823,577.9 1824,577.9 1825,577.9 1826,577.9 1827,577.9 1828,577.9 1829,577.9 1830,577.9 1831,577.9 1832,577.9 1833,577.9 1834,577.9 1835,577.9 1836,577.9 1837,577.9 1838,577.9 1839,577.9 1840,577.9 1841,577.9 1842,577.9 1843,577.9 1844,577.9 1845,577.9 1846,577.9 1847,577.9 1848,577.9 1849,577.9 1850,577.9 1851,577.9 1852,577.9 1853,577.9 1854,577.9 1855,577.9 1856,577.9 1857,577.9 1858,577.9 1859,577.9 1860,578.0 1861,578.0 1862,578.0 1863,578.0 1864,578.0 1865,578.0 1866,578.0 1867,578.0 1868,578.0 1869,578.0 1870,578.0 1871,578.0 1872,578.0 1873,578.0 1874,578.0 1875,578.0 1876,578.0 1877,578.0 1878,578.0 1879,578.0 1880,578.0 1881,578.0 1882,578.0 1883,578.0 1884,578.0 1885,578.0 1886,578.0 1887,578.0 1888,577.9 1889,577.9 1890,577.9 1891,577.9 1892,577.9 1893,577.9 1894,577.8 1895,577.8 1896,577.8 1897,577.8 1898,577.7 1899,577.7 1900,577.6 1901,577.6 1902,577.6 1903,577.5 1904,577.4 1905,577.4 1906,577.3 1907,577.3 1908,577.2 1909,577.1 1910,577.0 1911,577.0 1912,576.9 1913,576.8 1914,576.7 1915,576.6 1916,576.5 1917,576.4 1918,576.3 1919,576.2 1920,576.1 1921,576.0 1922,576.0 1923,575.9 1924,575.8 1925,575.7 1926,575.7 1927,575.6 1928,575.6 1929,575.6 1930,575.6 1931,575.6 1932,575.6 1933,575.7 1934,575.7 1935,575.8 1936,575.9 1937,576.0 1938,576.1 1939,576.3 1940,576.4 1941,576.6 1942,576.7 1943,576.9 1944,577.1 1945,577.3 1946,577.5 1947,577.7 1948,577.9 1949,578.0 1950,578.2 1951,578.4 1952,578.6 1953,578.8 1954,579.0 1955,579.2 1956,579.3 1957,579.5 1958,579.7 1959,579.8 1960,580.0 1961,580.2 1962,580.3 1963,580.5 1964,580.6 1965,580.8 1966,580.9 1967,581.1 1968,581.2 1969,581.3 1970,581.5 1971,581.6 1972,581.8 1973,581.9 1974,582.0 1975,582.2 1976,582.3 1977,582.4 1978,582.6 1979,582.7 1980,582.8 1981,582.9 1982,583.0 1983,583.1 1984,583.2 1985,583.3 1986,583.4 1987,583.5 1988,583.6 1989,583.7 1990,583.8 1991,583.8 1992,583.9 1993,584.0 1994,584.0 1995,584.1 1996,584.1 1997,584.1 1998,584.2 1999,584.2 2000,584.2 2001,584.3 2002,584.3 2003,584.3 2004,584.3 2005,584.4 2006,584.4 2007,584.4 2008,584.5 2009,584.5 2010,584.5 2011,584.5 2012,584.5 2013,584.6 2014,584.6 2015,584.6 2016,584.6 2017,584.6 2018,584.7 2019,584.7 2020,584.7 2021,584.7 2022,584.7 2023,584.8 2024,584.8 2025,584.8 2026,584.8 2027,584.8 2028,584.8 2029,584.8 2030,584.9 2031,584.9 2032,584.9 2033,584.9 2034,584.9 2035,584.9 2036,584.9 2037,585.0 2038,585.0 2039,585.0 2040,585.0 2041,585.0 2042,585.0 2043,585.0 2044,585.1 2045,585.1 2046,585.1 2047,585.1 2048,585.1 2049,585.1 2050,585.1 2051,585.1 2052,585.2 2053,585.2 2054,585.2 2055,585.2 2056,585.2 2057,585.2 2058,585.2 2059,585.2 2060,585.2 2061,585.3 2062,585.3 2063,585.3 2064,585.3 2065,585.3 2066,585.3 2067,585.3 2068,585.3 2069,585.3 2070,585.4 2071,585.4 2072,585.4 2073,585.4 2074,585.4 2075,585.4 2076,585.4 2077,585.4 2078,585.4 2079,585.4 2080,585.4 2081,585.4 2082,585.4 2083,585.5 2084,585.5 2085,585.5 2086,585.5 2087,585.5 2088,585.5 2089,585.5 2090,585.5"/>
<polygon fill="#ff8000" points="333.0,599.1 337.7,606.1 340.8,607.8 343.9,606.8 347.0,607.5 350.1,608.6 353.2,608.7 356.3,610.3 359.4,611.0 362.5,608.1 365.6,612.0 368.7,614.9 371.8,615.7 374.9,615.3 378.0,614.8 381.1,614.7 384.2,614.0 387.3,616.6 390.4,617.6 393.5,617.6 396.6,617.2 399.7,617.2 402.8,616.9 405.9,615.6 409.0,616.0 412.1,617.0 415.2,616.6 418.3,617.3 421.4,616.4 424.5,616.2 427.6,617.0 430.7,615.9 433.8,614.2 436.9,613.7 440.0,614.2 443.1,614.7 446.2,615.0 449.3,614.6 452.4,613.9 455.5,612.2 458.6,609.1 461.7,613.3 464.8,611.9 467.9,611.9 471.0,610.7 474.1,609.4 477.2,609.4 480.3,609.8 483.4,609.7 486.5,611.0 489.6,609.8 492.7,607.1 495.8,605.3 498.9,607.2 502.0,608.1 505.1,607.5 508.2,605.7 511.3,602.9 514.4,601.3 517.5,603.6 520.6,605.9 523.7,607.3 526.8,606.1 529.9,603.7 533.0,604.2 536.1,605.9 539.2,606.5 542.3,607.5 545.4,607.9 548.5,604.9 551.6,601.0 554.7,604.7 557.8,605.3 560.9,604.0 564.0,603.5 567.1,604.1 570.2,604.4 573.3,601.7 576.4,601.6 579.5,601.9 582.6,603.9 585.7,601.8 588.8,602.6 591.9,601.9 595.0,599.9 598.1,598.4 601.2,598.1 604.3,598.2 607.4,597.6 610.5,597.9 613.6,599.2 616.7,600.1 619.8,599.8 622.9,598.5 626.0,595.9 629.1,593.1 632.2,593.3 635.3,593.3 638.4,589.0 641.5,582.4 644.6,578.9 647.7,578.1 650.8,573.6 653.9,572.8 657.0,570.2 660.1,570.1 663.2,573.6 666.3,572.9 669.4,567.1 672.5,570.2 675.6,570.0 678.7,567.6 681.8,567.4 684.9,568.5 688.0,569.5 691.1,572.9 694.2,572.2 697.3,570.4 700.4,572.6 703.5,572.3 706.6,572.4 709.7,574.3 712.8,576.2 715.9,578.0 719.0,579.1 722.1,580.9 725.2,580.6 728.3,580.9 731.4,585.6 734.5,586.4 737.6,587.5 740.7,586.7 743.8,581.3 746.9,585.1 750.0,589.5 753.1,592.4 756.2,594.6 759.3,597.1 762.4,599.5 765.5,601.0 768.6,601.7 771.7,600.1 774.8,597.9 777.9,603.1 781.0,603.1 784.1,602.0 787.2,603.9 790.3,603.4 793.4,608.5 796.5,609.0 799.6,604.3 802.7,605.6 805.8,606.6 808.9,605.6 812.0,605.0 815.1,605.8 818.2,606.2 821.3,604.4 824.4,601.2 827.5,605.5 830.6,609.2 833.7,609.0 836.8,609.8 839.9,611.8 843.0,610.6 846.1,608.3 849.2,607.9 852.3,608.4 855.4,609.4 858.5,610.9 861.6,614.1 864.7,617.2 867.8,616.8 870.9,615.3 874.0,614.6 877.1,613.6 880.2,614.4 883.3,616.2 886.4,614.5 889.5,610.9 892.6,614.2 895.7,616.1 898.8,618.5 901.9,616.3 905.0,615.9 908.1,615.5 911.2,614.6 914.3,613.6 917.4,612.5 920.5,615.8 923.6,617.6 926.7,618.8 929.8,618.9 932.9,615.0 936.0,616.9 939.1,617.8 942.2,617.9 945.3,618.3 948.4,618.6 951.5,615.9 954.6,611.7 957.7,613.2 960.8,614.7 963.9,615.5 967.0,616.9 970.1,616.8 973.2,615.7 976.3,618.9 979.4,618.6 982.5,618.6 985.6,619.0 988.7,619.1 991.8,618.6 994.9,618.7 998.0,618.7 1001.1,617.4 1004.2,620.4 1007.3,622.3 1010.4,621.1 1013.5,617.5 1016.6,621.0 1019.7,619.0 1022.8,621.2 1025.9,621.4 1029.0,620.2 1032.1,619.7 1035.2,620.2 1038.3,622.4 1041.4,622.2 1044.5,621.2 1047.6,623.2 1050.7,623.7 1053.8,621.0 1056.9,622.0 1060.0,622.3 1063.1,624.3 1066.2,623.6 1069.3,621.5 1072.4,620.4 1075.5,621.2 1078.6,625.0 1081.7,625.6 1084.8,623.0 1087.9,624.5 1091.0,624.9 1094.1,624.0 1097.2,620.5 1100.3,621.5 1103.4,624.2 1106.5,626.0 1109.6,627.0 1112.7,627.1 1115.8,626.8 1118.9,627.6 1122.0,625.7 1125.1,624.8 1128.2,625.5 1131.3,625.1 1134.4,627.4 1137.5,627.1 1140.6,624.8 1143.7,622.8 1146.8,626.1 1149.9,626.9 1153.0,624.7 1156.1,623.7 1159.2,622.6 1162.3,620.9 1165.4,620.5 1168.5,618.6 1171.6,613.4 1174.7,608.8 1177.8,612.0 1180.9,609.2 1184.0,609.4 1187.1,609.2 1190.2,608.2 1193.3,608.4 1196.4,613.1 1199.5,613.7 1202.6,616.3 1205.7,618.9 1208.8,622.4 1211.9,626.5 1215.0,628.0 1218.1,627.7 1221.2,628.3 1224.3,629.6 1227.4,631.0 1230.5,629.4 1233.6,622.7 1236.7,628.7 1239.8,627.1 1242.9,628.1 1246.0,631.4 1249.1,630.0 1252.2,630.6 1255.3,630.4 1258.4,629.1 1261.5,630.3 1264.6,632.1 1267.7,631.4 1270.8,629.7 1273.9,628.0 1277.0,627.5 1280.1,628.1 1283.2,628.7 1286.3,630.1 1289.4,630.9 1292.5,630.1 1295.6,627.7 1298.7,624.0 1301.8,629.3 1304.9,629.7 1308.0,631.7 1311.1,632.1 1314.2,631.0 1317.3,629.9 1320.4,629.1 1323.5,628.6 1326.6,628.8 1329.7,630.1 1332.8,630.1 1335.9,626.2 1339.0,627.1 1342.1,628.3 1345.2,629.1 1348.3,630.2 1351.4,631.2 1354.5,630.0 1357.6,628.7 1360.7,630.3 1363.8,630.9 1366.9,631.7 1370.0,631.6 1373.1,628.9 1376.2,627.4 1379.3,626.2 1382.4,625.4 1385.5,629.7 1388.6,630.5 1391.7,628.1 1394.8,626.3 1397.9,626.6 1401.0,623.5 1404.1,627.7 1407.2,628.8 1410.3,627.3 1413.4,624.3 1416.5,627.0 1419.6,628.7 1422.7,627.7 1425.8,626.6 1428.9,625.9 1432.0,626.1 1435.1,626.4 1438.2,625.9 1441.3,626.5 1444.4,625.2 1447.5,624.1 1450.6,623.6 1453.7,622.0 1456.8,622.0 1459.9,623.1 1463.0,622.7 1466.1,620.7 1469.2,619.5 1472.3,618.8 1475.4,616.3 1478.5,616.5 1481.6,617.3 1484.7,618.9 1487.8,620.2 1490.9,620.6 1494.0,619.0 1497.1,616.7 1500.2,618.2 1503.3,621.5 1506.4,622.1 1509.5,620.2 1512.6,619.9 1515.7,623.1 1518.8,624.0 1521.9,625.9 1525.0,627.0 1528.1,627.6 1531.2,627.0 1534.3,624.2 1537.4,627.1 1540.5,624.1 1543.6,625.3 1546.7,627.6 1549.8,629.1 1552.9,628.7 1556.0,628.3 1559.1,629.6 1562.2,630.4 1565.3,629.9 1568.4,630.2 1571.5,631.2 1574.6,631.6 1577.7,630.9 1580.8,629.6 1583.9,629.0 1587.0,631.6 1590.1,631.0 1593.2,630.7 1596.3,632.0 1599.4,631.8 1602.5,631.9 1605.6,632.6 1608.7,631.1 1611.8,634.3 1614.9,633.3 1618.0,632.1 1621.1,633.0 1624.2,633.4 1627.3,634.3 1630.4,635.3 1633.5,635.0 1636.6,634.7 1639.7,633.4 1642.8,631.3 1645.9,633.6 1649.0,626.6 1652.1,631.3 1655.2,635.5 1658.3,636.3 1661.4,633.7 1664.5,637.6 1667.6,638.6 1670.7,637.7 1673.8,636.4 1676.9,636.8 1680.0,639.6 1683.1,639.2 1686.2,636.3 1689.3,638.3 1692.4,638.9 1695.5,638.6 1698.6,638.8 1701.7,639.4 1704.8,639.4 1707.9,638.6 1711.0,638.2 1714.1,638.9 1717.2,640.6 1720.3,642.7 1723.4,643.4 1726.5,642.4 1729.6,641.4 1732.7,640.2 1735.8,638.8 1738.9,641.1 1742.0,641.3 1745.1,640.2 1748.2,641.0 1751.3,642.0 1754.4,640.6 1757.5,642.2 1760.6,643.8 1763.7,643.3 1766.8,642.2 1769.9,642.1 1773.0,642.8 1776.1,643.5 1779.2,643.2 1782.3,641.4 1785.4,640.4 1788.5,640.7 1791.6,640.2 1794.7,639.9 1797.8,640.0 1800.9,639.7 1804.0,640.9 1807.1,641.7 1810.2,642.3 1813.3,642.2 1816.4,639.6 1819.5,636.4 1822.6,641.0 1825.7,644.0 1828.8,643.0 1831.9,641.8 1835.0,641.2 1838.1,639.7 1841.2,642.0 1844.3,641.9 1847.4,640.5 1850.5,643.0 1853.6,642.2 1856.7,642.2 1859.8,641.9 1862.9,641.5 1866.0,642.9 1869.1,642.5 1872.2,642.0 1875.3,642.7 1878.4,643.2 1881.5,642.2 1884.6,640.8 1887.7,640.9 1890.8,640.7 1893.9,640.2 1897.0,641.1 1900.1,641.0 1903.2,641.0 1906.3,641.9 1909.4,642.5 1912.5,642.9 1915.6,642.4 1918.7,641.5 1921.8,641.1 1924.9,641.9 1928.0,643.5 1931.1,643.7 1934.2,642.7 1937.3,642.2 1940.4,642.5 1943.5,643.4 1946.6,644.4 1949.7,644.3 1952.8,643.3 1955.9,644.1 1959.0,644.1 1962.1,643.1 1965.2,642.1 1968.3,642.0 1971.4,642.3 1974.5,642.3 1977.6,643.3 1980.7,644.1 1983.8,643.7 1986.9,644.1 1990.0,646.0 1993.1,646.4 1996.2,645.5 1999.3,645.7 2002.4,646.6 2005.5,647.0 2008.6,647.0 2011.7,647.9 2014.8,649.3 2017.9,648.6 2021.0,647.4 2024.1,648.4 2027.2,647.3 2030.3,645.8 2033.4,645.2 2036.5,646.3 2039.6,647.0 2042.7,645.9 2045.8,645.6 2048.9,646.1 2052.0,647.6 2055.1,648.9 2058.2,648.9 2061.3,648.5 2064.4,647.9 2067.5,648.3 2070.6,649.1 2073.7,648.6 2076.8,649.0 2079.9,650.7 2083.0,649.6 2086.1,647.1 2090.5,646.3 2090.5,663.8 2086.1,662.3 2083.0,664.1 2079.9,661.7 2076.8,660.4 2073.7,660.5 2070.6,660.2 2067.5,659.6 2064.4,660.5 2061.3,663.0 2058.2,665.4 2055.1,666.8 2052.0,666.4 2048.9,664.8 2045.8,663.9 2042.7,661.8 2039.6,661.1 2036.5,661.1 2033.4,661.3 2030.3,660.9 2027.2,661.1 2024.1,662.3 2021.0,661.6 2017.9,660.3 2014.8,660.6 2011.7,660.4 2008.6,659.8 2005.5,660.4 2002.4,660.2 1999.3,659.6 1996.2,660.1 1993.1,659.4 1990.0,658.9 1986.9,660.0 1983.8,661.8 1980.7,661.1 1977.6,658.1 1974.5,658.3 1971.4,660.0 1968.3,659.1 1965.2,659.2 1962.1,659.2 1959.0,658.7 1955.9,657.3 1952.8,655.8 1949.7,656.5 1946.6,658.9 1943.5,657.3 1940.4,655.0 1937.3,654.5 1934.2,654.6 1931.1,655.8 1928.0,657.9 1924.9,658.9 1921.8,658.3 1918.7,657.9 1915.6,658.9 1912.5,658.1 1909.4,655.7 1906.3,654.5 1903.2,655.3 1900.1,657.7 1897.0,657.3 1893.9,654.9 1890.8,654.7 1887.7,657.2 1884.6,659.4 1881.5,657.0 1878.4,656.5 1875.3,656.4 1872.2,656.8 1869.1,658.1 1866.0,658.0 1862.9,656.3 1859.8,655.5 1856.7,655.3 1853.6,655.1 1850.5,655.7 1847.4,657.1 1844.3,658.0 1841.2,657.8 1838.1,656.2 1835.0,656.0 1831.9,656.3 1828.8,655.4 1825.7,655.8 1822.6,656.2 1819.5,655.5 1816.4,656.4 1813.3,658.8 1810.2,659.5 1807.1,659.1 1804.0,658.7 1800.9,658.6 1797.8,659.7 1794.7,658.9 1791.6,658.3 1788.5,661.3 1785.4,661.6 1782.3,659.2 1779.2,656.7 1776.1,656.4 1773.0,657.2 1769.9,657.0 1766.8,656.7 1763.7,656.7 1760.6,656.9 1757.5,657.8 1754.4,656.3 1751.3,657.0 1748.2,655.0 1745.1,654.7 1742.0,657.0 1738.9,657.7 1735.8,657.6 1732.7,658.9 1729.6,656.0 1726.5,656.6 1723.4,658.6 1720.3,658.1 1717.2,657.7 1714.1,656.7 1711.0,654.9 1707.9,654.4 1704.8,654.2 1701.7,654.1 1698.6,654.6 1695.5,655.0 1692.4,655.9 1689.3,655.4 1686.2,653.9 1683.1,654.5 1680.0,655.7 1676.9,654.0 1673.8,651.9 1670.7,652.4 1667.6,653.0 1664.5,651.2 1661.4,650.4 1658.3,653.3 1655.2,648.5 1652.1,647.5 1649.0,649.4 1645.9,651.9 1642.8,653.5 1639.7,654.5 1636.6,650.6 1633.5,649.0 1630.4,648.2 1627.3,646.9 1624.2,646.5 1621.1,646.6 1618.0,646.9 1614.9,647.9 1611.8,649.5 1608.7,650.1 1605.6,646.6 1602.5,644.4 1599.4,644.5 1596.3,643.9 1593.2,644.7 1590.1,646.2 1587.0,645.0 1583.9,643.4 1580.8,644.1 1577.7,645.5 1574.6,647.2 1571.5,648.4 1568.4,645.8 1565.3,643.9 1562.2,644.5 1559.1,645.1 1556.0,644.0 1552.9,645.1 1549.8,644.9 1546.7,645.2 1543.6,648.3 1540.5,645.9 1537.4,644.3 1534.3,645.0 1531.2,645.7 1528.1,641.4 1525.0,641.3 1521.9,642.4 1518.8,641.3 1515.7,639.6 1512.6,638.9 1509.5,638.7 1506.4,636.3 1503.3,634.7 1500.2,634.3 1497.1,632.8 1494.0,631.6 1490.9,632.3 1487.8,634.7 1484.7,637.0 1481.6,638.2 1478.5,638.3 1475.4,638.7 1472.3,640.3 1469.2,638.7 1466.1,639.8 1463.0,641.9 1459.9,641.0 1456.8,640.5 1453.7,642.0 1450.6,643.0 1447.5,646.3 1444.4,650.2 1441.3,645.6 1438.2,643.9 1435.1,644.2 1432.0,644.1 1428.9,643.3 1425.8,642.4 1422.7,641.9 1419.6,641.8 1416.5,642.1 1413.4,643.1 1410.3,643.9 1407.2,643.7 1404.1,642.3 1401.0,641.2 1397.9,643.5 1394.8,646.4 1391.7,646.0 1388.6,644.4 1385.5,643.2 1382.4,643.2 1379.3,643.5 1376.2,644.3 1373.1,646.4 1370.0,647.8 1366.9,649.0 1363.8,650.5 1360.7,647.2 1357.6,647.4 1354.5,649.4 1351.4,648.9 1348.3,647.3 1345.2,645.6 1342.1,644.9 1339.0,646.7 1335.9,646.0 1332.8,644.7 1329.7,644.8 1326.6,644.6 1323.5,644.6 1320.4,644.9 1317.3,645.6 1314.2,646.5 1311.1,646.5 1308.0,647.4 1304.9,644.8 1301.8,645.7 1298.7,642.5 1295.6,642.6 1292.5,645.4 1289.4,648.2 1286.3,648.6 1283.2,646.4 1280.1,644.5 1277.0,644.9 1273.9,645.9 1270.8,645.7 1267.7,645.2 1264.6,645.9 1261.5,647.5 1258.4,648.9 1255.3,649.5 1252.2,648.4 1249.1,647.6 1246.0,649.0 1242.9,647.4 1239.8,647.6 1236.7,650.7 1233.6,651.9 1230.5,646.8 1227.4,644.2 1224.3,646.0 1221.2,650.1 1218.1,645.5 1215.0,646.4 1211.9,643.7 1208.8,640.5 1205.7,637.3 1202.6,634.4 1199.5,632.0 1196.4,629.9 1193.3,628.2 1190.2,626.3 1187.1,624.3 1184.0,624.6 1180.9,625.8 1177.8,627.8 1174.7,632.2 1171.6,632.0 1168.5,633.3 1165.4,635.9 1162.3,636.9 1159.2,637.0 1156.1,637.7 1153.0,639.5 1149.9,641.9 1146.8,639.6 1143.7,639.2 1140.6,640.6 1137.5,642.3 1134.4,643.3 1131.3,644.2 1128.2,645.6 1125.1,645.0 1122.0,646.0 1118.9,643.7 1115.8,642.6 1112.7,641.8 1109.6,641.6 1106.5,644.2 1103.4,649.4 1100.3,644.5 1097.2,641.7 1094.1,641.9 1091.0,642.1 1087.9,640.6 1084.8,641.5 1081.7,641.6 1078.6,642.6 1075.5,641.0 1072.4,638.3 1069.3,637.9 1066.2,638.4 1063.1,638.4 1060.0,639.3 1056.9,639.7 1053.8,640.1 1050.7,641.6 1047.6,639.1 1044.5,638.1 1041.4,637.2 1038.3,635.5 1035.2,636.7 1032.1,640.0 1029.0,640.9 1025.9,641.6 1022.8,640.8 1019.7,638.4 1016.6,637.2 1013.5,638.6 1010.4,641.3 1007.3,638.8 1004.2,640.8 1001.1,636.8 998.0,637.1 994.9,637.5 991.8,635.4 988.7,634.9 985.6,636.0 982.5,635.5 979.4,636.5 976.3,637.5 973.2,637.6 970.1,638.1 967.0,635.6 963.9,639.3 960.8,639.7 957.7,636.7 954.6,635.5 951.5,637.9 948.4,636.4 945.3,635.9 942.2,634.0 939.1,635.3 936.0,637.3 932.9,637.7 929.8,637.7 926.7,636.2 923.6,635.9 920.5,635.8 917.4,637.8 914.3,639.0 911.2,637.0 908.1,635.2 905.0,634.0 901.9,633.6 898.8,634.1 895.7,634.8 892.6,635.4 889.5,634.7 886.4,634.7 883.3,636.1 880.2,632.3 877.1,629.8 874.0,631.0 870.9,632.7 867.8,634.2 864.7,635.5 861.6,632.3 858.5,629.5 855.4,627.6 852.3,627.6 849.2,631.1 846.1,628.8 843.0,627.0 839.9,628.0 836.8,631.3 833.7,626.9 830.6,624.6 827.5,624.2 824.4,624.4 821.3,625.5 818.2,626.1 815.1,626.8 812.0,627.6 808.9,624.3 805.8,623.7 802.7,622.1 799.6,622.5 796.5,628.2 793.4,625.6 790.3,623.3 787.2,623.3 784.1,621.6 781.0,621.5 777.9,624.7 774.8,621.7 771.7,621.1 768.6,621.9 765.5,621.5 762.4,625.6 759.3,620.2 756.2,617.6 753.1,616.2 750.0,612.6 746.9,611.3 743.8,611.6 740.7,605.4 737.6,605.7 734.5,609.7 731.4,603.7 728.3,599.3 725.2,600.1 722.1,602.8 719.0,604.8 715.9,598.0 712.8,595.3 709.7,594.6 706.6,593.1 703.5,592.5 700.4,594.7 697.3,599.5 694.2,591.8 691.1,588.9 688.0,589.9 684.9,591.0 681.8,590.6 678.7,589.6 675.6,591.2 672.5,594.0 669.4,591.6 666.3,590.9 663.2,592.4 660.1,592.6 657.0,591.2 653.9,593.1 650.8,601.8 647.7,600.4 644.6,601.3 641.5,605.6 638.4,609.9 635.3,615.5 632.2,614.3 629.1,613.8 626.0,615.8 622.9,615.7 619.8,614.2 616.7,614.5 613.6,615.2 610.5,619.1 607.4,624.1 604.3,618.2 601.2,619.8 598.1,624.1 595.0,621.8 591.9,619.3 588.8,618.4 585.7,620.3 582.6,620.6 579.5,620.0 576.4,622.9 573.3,619.3 570.2,620.5 567.1,622.2 564.0,622.6 560.9,623.2 557.8,621.9 554.7,621.2 551.6,619.7 548.5,619.6 545.4,620.5 542.3,623.1 539.2,629.2 536.1,623.3 533.0,621.7 529.9,620.8 526.8,627.6 523.7,626.2 520.6,629.0 517.5,623.8 514.4,620.0 511.3,620.3 508.2,623.4 505.1,625.1 502.0,624.9 498.9,623.9 495.8,623.3 492.7,624.3 489.6,625.9 486.5,627.6 483.4,627.8 480.3,626.5 477.2,628.0 474.1,631.0 471.0,628.2 467.9,629.2 464.8,632.2 461.7,634.8 458.6,631.3 455.5,631.1 452.4,631.1 449.3,630.8 446.2,633.4 443.1,631.7 440.0,631.2 436.9,634.1 433.8,639.4 430.7,638.5 427.6,635.9 424.5,635.1 421.4,636.3 418.3,637.3 415.2,636.5 412.1,635.0 409.0,634.2 405.9,633.5 402.8,633.1 399.7,634.2 396.6,636.2 393.5,636.5 390.4,634.2 387.3,632.7 384.2,633.8 381.1,635.5 378.0,635.9 374.9,630.1 371.8,630.0 368.7,630.0 365.6,630.7 362.5,629.5 359.4,628.6 356.3,631.6 353.2,629.2 350.1,627.4 347.0,626.6 343.9,626.9 340.8,623.3 337.7,622.1 333.0,624.2"/>
<polyline fill="none" stroke="#ff8000" stroke-width="5.4" stroke-linejoin="round" points="333,612.7 334,613.0 335,613.3 336,613.6 337,614.0 338,614.3 339,614.6 340,614.9 341,615.2 342,615.5 343,615.8 344,616.1 345,616.4 346,616.7 347,616.9 348,617.2 349,617.5 350,617.7 351,618.0 352,618.3 353,618.5 354,618.7 355,619.0 356,619.2 357,619.4 358,619.6 359,619.8 360,620.0 361,620.2 362,620.4 363,620.6 364,620.7 365,620.9 366,621.1 367,621.3 368,621.5 369,621.7 370,621.9 371,622.1 372,622.2 373,622.4 374,622.6 375,622.8 376,623.0 377,623.1 378,623.3 379,623.5 380,623.7 381,623.8 382,624.0 383,624.2 384,624.3 385,624.5 386,624.6 387,624.8 388,624.9 389,625.1 390,625.2 391,625.4 392,625.5 393,625.6 394,625.8 395,625.9 396,626.0 397,626.1 398,626.2 399,626.3 400,626.4 401,626.5 402,626.6 403,626.6 404,626.7 405,626.8 406,626.8 407,626.9 408,626.9 409,626.9 410,627.0 411,627.0 412,627.0 413,627.0 414,627.0 415,627.0 416,627.0 417,626.9 418,626.9 419,626.9 420,626.8 421,626.8 422,626.7 423,626.6 424,626.5 425,626.5 426,626.4 427,626.3 428,626.2 429,626.1 430,626.0 431,625.9 432,625.8 433,625.6 434,625.5 435,625.4 436,625.3 437,625.1 438,625.0 439,624.9 440,624.7 441,624.6 442,624.5 443,624.3 444,624.2 445,624.0 446,623.9 447,623.8 448,623.6 449,623.5 450,623.3 451,623.2 452,623.1 453,622.9 454,622.8 455,622.6 456,622.5 457,622.4 458,622.2 459,622.1 460,622.0 461,621.9 462,621.7 463,621.6 464,621.5 465,621.3 466,621.2 467,621.0 468,620.9 469,620.7 470,620.5 471,620.4 472,620.2 473,620.0 474,619.8 475,619.7 476,619.5 477,619.3 478,619.1 479,618.9 480,618.7 481,618.5 482,618.4 483,618.2 484,618.0 485,617.8 486,617.6 487,617.4 488,617.2 489,617.1 490,616.9 491,616.7 492,616.5 493,616.4 494,616.2 495,616.0 496,615.9 497,615.7 498,615.6 499,615.4 500,615.3 501,615.2 502,615.0 503,614.9 504,614.8 505,614.7 506,614.6 507,614.5 508,614.4 509,614.3 510,614.3 511,614.2 512,614.1 513,614.1 514,614.0 515,614.0 516,614.0 517,614.0 518,614.0 519,614.0 520,614.0 521,613.9 522,613.9 523,613.9 524,613.9 525,613.9 526,613.9 527,613.9 528,613.9 529,613.9 530,613.9 531,613.9 532,613.9 533,613.9 534,613.9 535,613.8 536,613.8 537,613.8 538,613.8 539,613.8 540,613.8 541,613.8 542,613.8 543,613.8 544,613.7 545,613.7 546,613.7 547,613.7 548,613.7 549,613.7 550,613.6 551,613.6 552,613.6 553,613.6 554,613.6 555,613.5 556,613.5 557,613.5 558,613.5 559,613.4 560,613.4 561,613.4 562,613.3 563,613.3 564,613.3 565,613.2 566,613.2 567,613.2 568,613.1 569,613.1 570,613.0 571,612.9 572,612.8 573,612.8 574,612.7 575,612.6 576,612.5 577,612.4 578,612.3 579,612.2 580,612.1 581,611.9 582,611.8 583,611.7 584,611.6 585,611.5 586,611.3 587,611.2 588,611.1 589,611.0 590,610.8 591,610.7 592,610.6 593,610.5 594,610.4 595,610.2 596,610.1 597,610.0 598,609.8 599,609.7 600,609.6 601,609.4 602,609.3 603,609.1 604,609.0 605,608.8 606,608.7 607,608.5 608,608.4 609,608.2 610,608.0 611,607.8 612,607.7 613,607.5 614,607.3 615,607.1 616,606.9 617,606.7 618,606.5 619,606.3 620,606.1 621,605.9 622,605.7 623,605.5 624,605.2 625,605.0 626,604.8 627,604.5 628,604.2 629,604.0 630,603.7 631,603.4 632,603.0 633,602.7 634,602.3 635,601.9 636,601.5 637,601.0 638,600.4 639,599.6 640,598.5 641,597.4 642,596.1 643,594.7 644,593.4 645,592.0 646,590.7 647,589.5 648,588.5 649,587.6 650,587.0 651,586.5 652,586.0 653,585.5 654,585.1 655,584.6 656,584.2 657,583.7 658,583.3 659,583.0 660,582.6 661,582.3 662,582.0 663,581.8 664,581.5 665,581.3 666,581.2 667,581.1 668,581.0 669,581.0 670,581.0 671,581.0 672,581.0 673,581.0 674,581.0 675,581.0 676,581.0 677,581.0 678,581.0 679,581.0 680,581.0 681,581.0 682,581.0 683,581.0 684,581.0 685,581.0 686,581.1 687,581.1 688,581.1 689,581.2 690,581.2 691,581.3 692,581.4 693,581.4 694,581.5 695,581.6 696,581.7 697,581.8 698,581.9 699,582.0 700,582.1 701,582.2 702,582.3 703,582.6 704,582.8 705,583.1 706,583.5 707,583.9 708,584.3 709,584.8 710,585.3 711,585.8 712,586.3 713,586.8 714,587.3 715,587.8 716,588.3 717,588.8 718,589.2 719,589.6 720,590.0 721,590.3 722,590.7 723,591.0 724,591.3 725,591.5 726,591.8 727,592.1 728,592.4 729,592.6 730,592.9 731,593.2 732,593.4 733,593.7 734,594.0 735,594.3 736,594.6 737,594.9 738,595.3 739,595.6 740,596.0 741,596.4 742,596.9 743,597.4 744,597.9 745,598.5 746,599.1 747,599.7 748,600.4 749,601.0 750,601.7 751,602.3 752,602.9 753,603.6 754,604.2 755,604.7 756,605.3 757,605.8 758,606.3 759,606.7 760,607.1 761,607.5 762,607.9 763,608.3 764,608.7 765,609.1 766,609.4 767,609.8 768,610.2 769,610.5 770,610.9 771,611.2 772,611.6 773,611.9 774,612.2 775,612.5 776,612.8 777,613.0 778,613.3 779,613.5 780,613.7 781,613.9 782,614.1 783,614.3 784,614.4 785,614.5 786,614.6 787,614.7 788,614.8 789,614.9 790,614.9 791,615.0 792,615.1 793,615.1 794,615.2 795,615.2 796,615.3 797,615.3 798,615.4 799,615.4 800,615.5 801,615.5 802,615.6 803,615.6 804,615.6 805,615.7 806,615.7 807,615.8 808,615.8 809,615.9 810,615.9 811,616.0 812,616.0 813,616.1 814,616.2 815,616.2 816,616.3 817,616.4 818,616.5 819,616.6 820,616.7 821,616.8 822,616.9 823,617.1 824,617.2 825,617.4 826,617.5 827,617.7 828,617.8 829,618.0 830,618.2 831,618.4 832,618.6 833,618.8 834,618.9 835,619.1 836,619.3 837,619.5 838,619.7 839,619.9 840,620.1 841,620.3 842,620.5 843,620.8 844,621.0 845,621.1 846,621.3 847,621.5 848,621.7 849,621.9 850,622.1 851,622.3 852,622.5 853,622.6 854,622.8 855,622.9 856,623.1 857,623.2 858,623.4 859,623.5 860,623.6 861,623.7 862,623.8 863,623.9 864,624.0 865,624.1 866,624.2 867,624.2 868,624.3 869,624.4 870,624.4 871,624.5 872,624.6 873,624.6 874,624.7 875,624.8 876,624.8 877,624.9 878,625.0 879,625.0 880,625.1 881,625.1 882,625.2 883,625.3 884,625.3 885,625.4 886,625.4 887,625.5 888,625.5 889,625.6 890,625.6 891,625.7 892,625.7 893,625.8 894,625.8 895,625.9 896,625.9 897,626.0 898,626.0 899,626.0 900,626.1 901,626.1 902,626.2 903,626.2 904,626.3 905,626.3 906,626.3 907,626.4 908,626.4 909,626.4 910,626.5 911,626.5 912,626.6 913,626.6 914,626.6 915,626.7 916,626.7 917,626.7 918,626.8 919,626.8 920,626.8 921,626.8 922,626.9 923,626.9 924,626.9 925,627.0 926,627.0 927,627.0 928,627.1 929,627.1 930,627.1 931,627.1 932,627.2 933,627.2 934,627.2 935,627.2 936,627.3 937,627.3 938,627.3 939,627.3 940,627.3 941,627.4 942,627.4 943,627.4 944,627.4 945,627.4 946,627.5 947,627.5 948,627.5 949,627.5 950,627.5 951,627.5 952,627.6 953,627.6 954,627.6 955,627.6 956,627.6 957,627.6 958,627.7 959,627.7 960,627.7 961,627.7 962,627.7 963,627.7 964,627.8 965,627.8 966,627.8 967,627.8 968,627.8 969,627.8 970,627.9 971,627.9 972,627.9 973,627.9 974,627.9 975,628.0 976,628.0 977,628.0 978,628.0 979,628.0 980,628.1 981,628.1 982,628.1 983,628.1 984,628.2 985,628.2 986,628.2 987,628.2 988,628.3 989,628.3 990,628.3 991,628.4 992,628.4 993,628.4 994,628.5 995,628.5 996,628.5 997,628.6 998,628.6 999,628.7 1000,628.7 1001,628.7 1002,628.8 1003,628.8 1004,628.9 1005,628.9 1006,629.0 1007,629.0 1008,629.1 1009,629.1 1010,629.2 1011,629.2 1012,629.3 1013,629.3 1014,629.4 1015,629.4 1016,629.5 1017,629.5 1018,629.6 1019,629.6 1020,629.7 1021,629.7 1022,629.8 1023,629.8 1024,629.9 1025,630.0 1026,630.0 1027,630.1 1028,630.1 1029,630.2 1030,630.2 1031,630.3 1032,630.4 1033,630.4 1034,630.5 1035,630.5 1036,630.6 1037,630.6 1038,630.7 1039,630.8 1040,630.8 1041,630.9 1042,630.9 1043,631.0 1044,631.0 1045,631.1 1046,631.1 1047,631.2 1048,631.2 1049,631.3 1050,631.3 1051,631.4 1052,631.5 1053,631.5 1054,631.6 1055,631.6 1056,631.7 1057,631.7 1058,631.8 1059,631.8 1060,631.9 1061,631.9 1062,632.0 1063,632.1 1064,632.1 1065,632.2 1066,632.2 1067,632.3 1068,632.3 1069,632.4 1070,632.5 1071,632.5 1072,632.6 1073,632.6 1074,632.7 1075,632.8 1076,632.8 1077,632.9 1078,632.9 1079,633.0 1080,633.0 1081,633.1 1082,633.2 1083,633.2 1084,633.3 1085,633.3 1086,633.4 1087,633.4 1088,633.5 1089,633.5 1090,633.6 1091,633.6 1092,633.7 1093,633.7 1094,633.8 1095,633.8 1096,633.9 1097,633.9 1098,634.0 1099,634.0 1100,634.1 1101,634.1 1102,634.1 1103,634.2 1104,634.2 1105,634.3 1106,634.3 1107,634.3 1108,634.4 1109,634.4 1110,634.4 1111,634.4 1112,634.5 1113,634.5 1114,634.5 1115,634.5 1116,634.6 1117,634.6 1118,634.6 1119,634.6 1120,634.6 1121,634.6 1122,634.6 1123,634.6 1124,634.7 1125,634.7 1126,634.7 1127,634.7 1128,634.6 1129,634.6 1130,634.6 1131,634.6 1132,634.6 1133,634.6 1134,634.6 1135,634.5 1136,634.5 1137,634.5 1138,634.4 1139,634.4 1140,634.3 1141,634.2 1142,634.1 1143,634.0 1144,633.9 1145,633.8 1146,633.7 1147,633.5 1148,633.4 1149,633.2 1150,633.0 1151,632.8 1152,632.5 1153,632.3 1154,632.0 1155,631.7 1156,631.4 1157,631.0 1158,630.7 1159,630.3 1160,629.8 1161,629.4 1162,628.9 1163,628.4 1164,627.9 1165,627.4 1166,626.8 1167,626.2 1168,625.7 1169,625.1 1170,624.5 1171,623.9 1172,623.3 1173,622.7 1174,622.1 1175,621.6 1176,621.0 1177,620.5 1178,620.1 1179,619.6 1180,619.3 1181,618.9 1182,618.7 1183,618.5 1184,618.4 1185,618.3 1186,618.4 1187,618.5 1188,618.7 1189,618.9 1190,619.3 1191,619.7 1192,620.1 1193,620.7 1194,621.2 1195,621.8 1196,622.5 1197,623.1 1198,623.8 1199,624.5 1200,625.2 1201,626.0 1202,626.7 1203,627.4 1204,628.1 1205,628.8 1206,629.4 1207,630.1 1208,630.7 1209,631.3 1210,631.9 1211,632.4 1212,632.9 1213,633.4 1214,633.9 1215,634.3 1216,634.7 1217,635.1 1218,635.4 1219,635.7 1220,636.0 1221,636.3 1222,636.6 1223,636.8 1224,637.0 1225,637.2 1226,637.4 1227,637.5 1228,637.7 1229,637.8 1230,637.9 1231,638.0 1232,638.1 1233,638.2 1234,638.2 1235,638.3 1236,638.4 1237,638.4 1238,638.5 1239,638.5 1240,638.5 1241,638.6 1242,638.6 1243,638.6 1244,638.6 1245,638.7 1246,638.7 1247,638.7 1248,638.7 1249,638.7 1250,638.7 1251,638.7 1252,638.7 1253,638.7 1254,638.7 1255,638.6 1256,638.6 1257,638.6 1258,638.6 1259,638.6 1260,638.6 1261,638.5 1262,638.5 1263,638.5 1264,638.5 1265,638.4 1266,638.4 1267,638.4 1268,638.4 1269,638.3 1270,638.3 1271,638.3 1272,638.2 1273,638.2 1274,638.2 1275,638.2 1276,638.1 1277,638.1 1278,638.1 1279,638.0 1280,638.0 1281,638.0 1282,638.0 1283,637.9 1284,637.9 1285,637.9 1286,637.8 1287,637.8 1288,637.8 1289,637.8 1290,637.8 1291,637.7 1292,637.7 1293,637.7 1294,637.7 1295,637.7 1296,637.7 1297,637.6 1298,637.6 1299,637.6 1300,637.6 1301,637.6 1302,637.6 1303,637.6 1304,637.6 1305,637.6 1306,637.6 1307,637.6 1308,637.6 1309,637.6 1310,637.6 1311,637.6 1312,637.6 1313,637.6 1314,637.6 1315,637.6 1316,637.6 1317,637.6 1318,637.6 1319,637.6 1320,637.6 1321,637.6 1322,637.6 1323,637.6 1324,637.6 1325,637.6 1326,637.6 1327,637.6 1328,637.6 1329,637.6 1330,637.6 1331,637.6 1332,637.6 1333,637.6 1334,637.6 1335,637.6 1336,637.6 1337,637.6 1338,637.6 1339,637.6 1340,637.6 1341,637.6 1342,637.6 1343,637.6 1344,637.6 1345,637.6 1346,637.6 1347,637.6 1348,637.6 1349,637.6 1350,637.6 1351,637.6 1352,637.6 1353,637.6 1354,637.6 1355,637.6 1356,637.6 1357,637.6 1358,637.6 1359,637.6 1360,637.6 1361,637.6 1362,637.6 1363,637.6 1364,637.6 1365,637.6 1366,637.6 1367,637.6 1368,637.6 1369,637.6 1370,637.6 1371,637.6 1372,637.5 1373,637.5 1374,637.5 1375,637.5 1376,637.4 1377,637.4 1378,637.3 1379,637.3 1380,637.3 1381,637.2 1382,637.2 1383,637.1 1384,637.1 1385,637.0 1386,636.9 1387,636.9 1388,636.8 1389,636.8 1390,636.7 1391,636.6 1392,636.6 1393,636.5 1394,636.4 1395,636.4 1396,636.3 1397,636.2 1398,636.1 1399,636.1 1400,636.0 1401,635.9 1402,635.9 1403,635.8 1404,635.7 1405,635.7 1406,635.6 1407,635.5 1408,635.5 1409,635.4 1410,635.3 1411,635.3 1412,635.2 1413,635.2 1414,635.1 1415,635.0 1416,635.0 1417,634.9 1418,634.9 1419,634.8 1420,634.8 1421,634.8 1422,634.7 1423,634.7 1424,634.6 1425,634.6 1426,634.6 1427,634.5 1428,634.5 1429,634.5 1430,634.5 1431,634.5 1432,634.4 1433,634.4 1434,634.4 1435,634.3 1436,634.3 1437,634.3 1438,634.2 1439,634.2 1440,634.2 1441,634.1 1442,634.0 1443,634.0 1444,633.9 1445,633.9 1446,633.8 1447,633.7 1448,633.6 1449,633.5 1450,633.4 1451,633.3 1452,633.2 1453,633.1 1454,633.0 1455,632.8 1456,632.7 1457,632.5 1458,632.4 1459,632.2 1460,632.0 1461,631.8 1462,631.6 1463,631.4 1464,631.2 1465,631.0 1466,630.8 1467,630.6 1468,630.3 1469,630.1 1470,629.9 1471,629.6 1472,629.4 1473,629.1 1474,628.9 1475,628.7 1476,628.4 1477,628.2 1478,628.0 1479,627.8 1480,627.6 1481,627.4 1482,627.2 1483,627.0 1484,626.9 1485,626.8 1486,626.7 1487,626.6 1488,626.5 1489,626.4 1490,626.4 1491,626.4 1492,626.4 1493,626.5 1494,626.5 1495,626.6 1496,626.7 1497,626.8 1498,627.0 1499,627.1 1500,627.3 1501,627.5 1502,627.7 1503,627.9 1504,628.1 1505,628.4 1506,628.6 1507,628.8 1508,629.1 1509,629.3 1510,629.6 1511,629.8 1512,630.1 1513,630.3 1514,630.6 1515,630.8 1516,631.1 1517,631.3 1518,631.6 1519,631.8 1520,632.0 1521,632.2 1522,632.4 1523,632.6 1524,632.8 1525,633.0 1526,633.2 1527,633.4 1528,633.6 1529,633.8 1530,633.9 1531,634.1 1532,634.3 1533,634.4 1534,634.6 1535,634.7 1536,634.9 1537,635.0 1538,635.1 1539,635.3 1540,635.4 1541,635.5 1542,635.6 1543,635.7 1544,635.8 1545,635.9 1546,636.0 1547,636.1 1548,636.2 1549,636.3 1550,636.4 1551,636.4 1552,636.5 1553,636.6 1554,636.7 1555,636.7 1556,636.8 1557,636.9 1558,637.0 1559,637.0 1560,637.1 1561,637.2 1562,637.2 1563,637.3 1564,637.4 1565,637.4 1566,637.5 1567,637.6 1568,637.6 1569,637.7 1570,637.8 1571,637.9 1572,637.9 1573,638.0 1574,638.1 1575,638.1 1576,638.2 1577,638.3 1578,638.3 1579,638.4 1580,638.5 1581,638.6 1582,638.6 1583,638.7 1584,638.8 1585,638.8 1586,638.9 1587,639.0 1588,639.0 1589,639.1 1590,639.2 1591,639.2 1592,639.3 1593,639.4 1594,639.4 1595,639.5 1596,639.6 1597,639.6 1598,639.7 1599,639.8 1600,639.8 1601,639.9 1602,640.0 1603,640.0 1604,640.1 1605,640.1 1606,640.2 1607,640.3 1608,640.3 1609,640.4 1610,640.4 1611,640.5 1612,640.5 1613,640.6 1614,640.6 1615,640.7 1616,640.7 1617,640.8 1618,640.8 1619,640.9 1620,640.9 1621,641.0 1622,641.0 1623,641.1 1624,641.1 1625,641.1 1626,641.2 1627,641.2 1628,641.2 1629,641.3 1630,641.3 1631,641.4 1632,641.4 1633,641.5 1634,641.5 1635,641.5 1636,641.6 1637,641.6 1638,641.7 1639,641.7 1640,641.8 1641,641.9 1642,641.9 1643,642.0 1644,642.1 1645,642.1 1646,642.2 1647,642.3 1648,642.4 1649,642.5 1650,642.6 1651,642.7 1652,642.8 1653,642.9 1654,643.0 1655,643.1 1656,643.2 1657,643.3 1658,643.5 1659,643.6 1660,643.7 1661,643.8 1662,643.9 1663,644.1 1664,644.2 1665,644.3 1666,644.4 1667,644.6 1668,644.7 1669,644.8 1670,644.9 1671,645.1 1672,645.2 1673,645.3 1674,645.5 1675,645.6 1676,645.7 1677,645.8 1678,645.9 1679,646.1 1680,646.2 1681,646.3 1682,646.4 1683,646.5 1684,646.6 1685,646.7 1686,646.8 1687,646.9 1688,647.0 1689,647.1 1690,647.2 1691,647.3 1692,647.4 1693,647.5 1694,647.5 1695,647.6 1696,647.7 1697,647.7 1698,647.8 1699,647.8 1700,647.9 1701,647.9 1702,648.0 1703,648.0 1704,648.0 1705,648.1 1706,648.1 1707,648.1 1708,648.1 1709,648.2 1710,648.2 1711,648.2 1712,648.2 1713,648.3 1714,648.3 1715,648.3 1716,648.3 1717,648.4 1718,648.4 1719,648.4 1720,648.4 1721,648.4 1722,648.5 1723,648.5 1724,648.5 1725,648.5 1726,648.6 1727,648.6 1728,648.6 1729,648.6 1730,648.6 1731,648.7 1732,648.7 1733,648.7 1734,648.7 1735,648.7 1736,648.7 1737,648.8 1738,648.8 1739,648.8 1740,648.8 1741,648.8 1742,648.8 1743,648.8 1744,648.9 1745,648.9 1746,648.9 1747,648.9 1748,648.9 1749,648.9 1750,648.9 1751,648.9 1752,648.9 1753,648.9 1754,649.0 1755,649.0 1756,649.0 1757,649.0 1758,649.0 1759,649.0 1760,649.0 1761,649.0 1762,649.0 1763,649.0 1764,649.0 1765,649.0 1766,649.0 1767,649.0 1768,649.0 1769,649.0 1770,649.0 1771,649.0 1772,649.0 1773,649.0 1774,649.0 1775,649.0 1776,649.0 1777,649.0 1778,649.0 1779,649.0 1780,649.0 1781,649.0 1782,649.0 1783,649.0 1784,649.0 1785,649.0 1786,649.0 1787,649.0 1788,649.0 1789,649.0 1790,649.0 1791,649.0 1792,649.0 1793,649.0 1794,649.0 1795,649.0 1796,649.0 1797,649.0 1798,649.0 1799,649.0 1800,649.0 1801,649.0 1802,649.0 1803,649.0 1804,649.0 1805,649.0 1806,649.0 1807,649.0 1808,649.0 1809,649.0 1810,649.0 1811,649.0 1812,649.0 1813,649.0 1814,649.0 1815,649.0 1816,649.0 1817,649.0 1818,649.0 1819,649.0 1820,649.0 1821,649.0 1822,649.0 1823,649.0 1824,649.0 1825,649.0 1826,649.0 1827,649.0 1828,649.0 1829,649.0 1830,649.0 1831,649.0 1832,649.0 1833,649.0 1834,649.0 1835,649.0 1836,649.0 1837,649.0 1838,649.0 1839,649.0 1840,649.0 1841,649.0 1842,649.0 1843,649.0 1844,649.0 1845,649.0 1846,649.0 1847,649.0 1848,649.0 1849,649.0 1850,649.0 1851,649.0 1852,649.0 1853,649.0 1854,649.0 1855,649.0 1856,649.0 1857,649.0 1858,649.0 1859,649.0 1860,649.0 1861,649.0 1862,649.0 1863,649.0 1864,649.0 1865,649.0 1866,649.0 1867,649.0 1868,649.0 1869,649.0 1870,649.0 1871,649.0 1872,649.0 1873,649.0 1874,649.0 1875,649.0 1876,649.0 1877,649.0 1878,649.0 1879,649.0 1880,649.0 1881,649.0 1882,649.0 1883,649.0 1884,649.0 1885,649.0 1886,649.0 1887,649.0 1888,649.0 1889,649.0 1890,649.0 1891,649.0 1892,649.0 1893,649.0 1894,649.0 1895,649.0 1896,649.0 1897,649.0 1898,649.0 1899,649.0 1900,649.0 1901,649.0 1902,649.0 1903,649.0 1904,649.0 1905,649.0 1906,649.1 1907,649.1 1908,649.1 1909,649.1 1910,649.1 1911,649.1 1912,649.1 1913,649.1 1914,649.1 1915,649.1 1916,649.1 1917,649.2 1918,649.2 1919,649.2 1920,649.2 1921,649.2 1922,649.2 1923,649.2 1924,649.2 1925,649.3 1926,649.3 1927,649.3 1928,649.3 1929,649.3 1930,649.3 1931,649.4 1932,649.4 1933,649.4 1934,649.4 1935,649.4 1936,649.4 1937,649.5 1938,649.5 1939,649.5 1940,649.5 1941,649.5 1942,649.6 1943,649.6 1944,649.6 1945,649.6 1946,649.7 1947,649.7 1948,649.7 1949,649.7 1950,649.7 1951,649.8 1952,649.8 1953,649.8 1954,649.8 1955,649.9 1956,649.9 1957,649.9 1958,649.9 1959,650.0 1960,650.0 1961,650.0 1962,650.1 1963,650.1 1964,650.2 1965,650.2 1966,650.3 1967,650.4 1968,650.5 1969,650.6 1970,650.7 1971,650.8 1972,650.9 1973,651.0 1974,651.1 1975,651.2 1976,651.3 1977,651.5 1978,651.6 1979,651.7 1980,651.8 1981,652.0 1982,652.1 1983,652.2 1984,652.3 1985,652.4 1986,652.5 1987,652.6 1988,652.7 1989,652.8 1990,652.9 1991,653.0 1992,653.1 1993,653.1 1994,653.2 1995,653.3 1996,653.3 1997,653.3 1998,653.4 1999,653.4 2000,653.5 2001,653.5 2002,653.5 2003,653.6 2004,653.6 2005,653.7 2006,653.7 2007,653.7 2008,653.8 2009,653.8 2010,653.8 2011,653.9 2012,653.9 2013,654.0 2014,654.0 2015,654.0 2016,654.1 2017,654.1 2018,654.1 2019,654.2 2020,654.2 2021,654.2 2022,654.3 2023,654.3 2024,654.3 2025,654.4 2026,654.4 2027,654.4 2028,654.5 2029,654.5 2030,654.5 2031,654.5 2032,654.6 2033,654.6 2034,654.6 2035,654.7 2036,654.7 2037,654.7 2038,654.7 2039,654.8 2040,654.8 2041,654.8 2042,654.8 2043,654.9 2044,654.9 2045,654.9 2046,654.9 2047,655.0 2048,655.0 2049,655.0 2050,655.0 2051,655.1 2052,655.1 2053,655.1 2054,655.1 2055,655.1 2056,655.2 2057,655.2 2058,655.2 2059,655.2 2060,655.2 2061,655.2 2062,655.3 2063,655.3 2064,655.3 2065,655.3 2066,655.3 2067,655.3 2068,655.3 2069,655.4 2070,655.4 2071,655.4 2072,655.4 2073,655.4 2074,655.4 2075,655.4 2076,655.4 2077,655.4 2078,655.4 2079,655.5 2080,655.5 2081,655.5 2082,655.5 2083,655.5 2084,655.5 2085,655.5 2086,655.5 2087,655.5 2088,655.5 2089,655.5 2090,655.5"/>
<polygon fill="#009900" points="333.0,695.7 337.7,703.4 340.8,707.5 343.9,707.9 347.0,704.3 350.1,697.5 353.2,703.9 356.3,705.0 359.4,700.5 362.5,702.2 365.6,705.0 368.7,705.6 371.8,705.7 374.9,706.8 378.0,708.0 381.1,706.0 384.2,705.1 387.3,709.3 390.4,711.7 393.5,712.1 396.6,711.5 399.7,711.9 402.8,712.2 405.9,709.9 409.0,715.6 412.1,717.3 415.2,715.9 418.3,713.6 421.4,711.4 424.5,711.4 427.6,711.6 430.7,708.8 433.8,708.9 436.9,710.6 440.0,712.0 443.1,712.0 446.2,710.9 449.3,711.3 452.4,712.9 455.5,710.9 458.6,705.8 461.7,704.0 464.8,702.6 467.9,703.3 471.0,704.2 474.1,704.1 477.2,702.0 480.3,695.8 483.4,701.7 486.5,704.5 489.6,702.1 492.7,696.6 495.8,700.6 498.9,703.8 502.0,702.9 505.1,698.1 508.2,698.9 511.3,700.6 514.4,699.2 517.5,695.2 520.6,698.0 523.7,696.6 526.8,694.5 529.9,696.5 533.0,697.5 536.1,694.8 539.2,689.2 542.3,690.6 545.4,693.2 548.5,694.9 551.6,693.6 554.7,695.5 557.8,695.1 560.9,692.9 564.0,692.0 567.1,690.7 570.2,690.2 573.3,691.2 576.4,686.4 579.5,678.6 582.6,687.7 585.7,689.8 588.8,684.7 591.9,687.9 595.0,689.8 598.1,688.7 601.2,686.0 604.3,686.0 607.4,681.9 610.5,687.3 613.6,688.7 616.7,686.8 619.8,685.1 622.9,683.0 626.0,681.0 629.1,685.1 632.2,685.4 635.3,682.2 638.4,679.2 641.5,675.8 644.6,672.7 647.7,667.4 650.8,671.9 653.9,674.0 657.0,674.0 660.1,670.8 663.2,666.9 666.3,665.4 669.4,662.5 672.5,662.4 675.6,661.2 678.7,658.0 681.8,652.8 684.9,659.8 688.0,664.9 691.1,665.8 694.2,665.0 697.3,664.3 700.4,663.9 703.5,664.6 706.6,669.3 709.7,671.5 712.8,671.4 715.9,669.7 719.0,674.9 722.1,677.6 725.2,676.8 728.3,682.7 731.4,681.1 734.5,681.9 737.6,680.1 740.7,674.6 743.8,683.3 746.9,686.0 750.0,688.8 753.1,691.1 756.2,693.2 759.3,694.6 762.4,695.6 765.5,695.1 768.6,691.3 771.7,688.0 774.8,691.2 777.9,696.0 781.0,698.2 784.1,697.3 787.2,694.7 790.3,700.0 793.4,698.6 796.5,698.8 799.6,700.2 802.7,698.8 805.8,697.2 808.9,701.3 812.0,703.9 815.1,702.7 818.2,698.9 821.3,701.7 824.4,703.5 827.5,703.5 830.6,702.1 833.7,701.1 836.8,703.5 839.9,704.7 843.0,705.9 846.1,707.5 849.2,708.0 852.3,708.7 855.4,709.1 858.5,708.5 861.6,712.3 864.7,712.7 867.8,709.1 870.9,710.4 874.0,709.1 877.1,707.6 880.2,710.3 883.3,712.0 886.4,709.7 889.5,710.1 892.6,712.9 895.7,713.3 898.8,712.2 901.9,713.2 905.0,713.4 908.1,714.3 911.2,715.4 914.3,715.7 917.4,715.6 920.5,715.4 923.6,715.7 926.7,715.1 929.8,712.2 932.9,714.3 936.0,716.6 939.1,716.8 942.2,717.4 945.3,716.7 948.4,711.5 951.5,714.5 954.6,718.5 957.7,720.0 960.8,718.2 963.9,715.4 967.0,714.8 970.1,717.5 973.2,716.7 976.3,716.9 979.4,716.6 982.5,715.4 985.6,718.1 988.7,720.3 991.8,718.2 994.9,712.6 998.0,717.9 1001.1,720.7 1004.2,721.6 1007.3,720.8 1010.4,718.2 1013.5,717.7 1016.6,718.7 1019.7,719.4 1022.8,720.2 1025.9,719.7 1029.0,718.6 1032.1,719.1 1035.2,717.9 1038.3,714.6 1041.4,716.5 1044.5,718.7 1047.6,721.9 1050.7,723.5 1053.8,721.9 1056.9,720.5 1060.0,718.1 1063.1,716.7 1066.2,721.0 1069.3,716.4 1072.4,717.9 1075.5,715.2 1078.6,721.3 1081.7,722.0 1084.8,719.0 1087.9,717.4 1091.0,720.4 1094.1,723.1 1097.2,724.4 1100.3,722.6 1103.4,720.7 1106.5,721.5 1109.6,723.0 1112.7,723.3 1115.8,722.3 1118.9,720.7 1122.0,720.0 1125.1,719.7 1128.2,720.0 1131.3,722.7 1134.4,724.2 1137.5,721.8 1140.6,719.3 1143.7,721.2 1146.8,718.9 1149.9,719.0 1153.0,719.5 1156.1,717.8 1159.2,715.1 1162.3,713.7 1165.4,712.4 1168.5,713.6 1171.6,712.2 1174.7,708.8 1177.8,705.3 1180.9,702.3 1184.0,702.5 1187.1,704.4 1190.2,706.6 1193.3,705.5 1196.4,705.8 1199.5,705.2 1202.6,709.3 1205.7,713.4 1208.8,716.1 1211.9,717.4 1215.0,719.4 1218.1,720.8 1221.2,720.0 1224.3,724.8 1227.4,727.3 1230.5,728.7 1233.6,728.6 1236.7,726.8 1239.8,725.9 1242.9,726.5 1246.0,724.9 1249.1,721.2 1252.2,724.1 1255.3,722.0 1258.4,721.4 1261.5,723.4 1264.6,726.2 1267.7,727.5 1270.8,726.6 1273.9,726.4 1277.0,725.8 1280.1,721.5 1283.2,725.8 1286.3,727.3 1289.4,726.3 1292.5,725.6 1295.6,725.0 1298.7,724.6 1301.8,725.7 1304.9,724.7 1308.0,720.9 1311.1,725.6 1314.2,724.6 1317.3,726.0 1320.4,727.6 1323.5,727.1 1326.6,724.5 1329.7,721.3 1332.8,720.9 1335.9,721.4 1339.0,721.6 1342.1,722.5 1345.2,722.3 1348.3,719.8 1351.4,722.6 1354.5,724.3 1357.6,722.5 1360.7,720.6 1363.8,723.2 1366.9,723.3 1370.0,723.0 1373.1,723.1 1376.2,721.8 1379.3,721.0 1382.4,720.0 1385.5,721.0 1388.6,721.6 1391.7,721.5 1394.8,720.0 1397.9,716.5 1401.0,720.7 1404.1,719.4 1407.2,720.5 1410.3,719.2 1413.4,719.0 1416.5,720.6 1419.6,720.1 1422.7,718.8 1425.8,718.8 1428.9,719.8 1432.0,720.6 1435.1,718.5 1438.2,715.6 1441.3,717.3 1444.4,719.2 1447.5,720.6 1450.6,720.8 1453.7,720.0 1456.8,718.1 1459.9,716.5 1463.0,716.7 1466.1,716.8 1469.2,715.8 1472.3,715.1 1475.4,715.6 1478.5,715.9 1481.6,716.0 1484.7,715.3 1487.8,713.7 1490.9,715.6 1494.0,713.7 1497.1,715.4 1500.2,716.9 1503.3,718.1 1506.4,717.9 1509.5,717.0 1512.6,717.6 1515.7,719.2 1518.8,720.0 1521.9,719.0 1525.0,718.9 1528.1,721.7 1531.2,724.8 1534.3,723.7 1537.4,720.2 1540.5,721.1 1543.6,721.8 1546.7,721.8 1549.8,722.1 1552.9,723.9 1556.0,725.1 1559.1,723.9 1562.2,723.5 1565.3,723.8 1568.4,723.4 1571.5,724.9 1574.6,726.4 1577.7,726.7 1580.8,726.0 1583.9,725.3 1587.0,724.2 1590.1,722.1 1593.2,725.6 1596.3,727.2 1599.4,727.3 1602.5,726.7 1605.6,726.1 1608.7,727.2 1611.8,726.7 1614.9,728.4 1618.0,729.1 1621.1,727.2 1624.2,726.6 1627.3,726.8 1630.4,724.8 1633.5,723.2 1636.6,725.4 1639.7,724.7 1642.8,728.1 1645.9,730.0 1649.0,727.1 1652.1,727.5 1655.2,727.1 1658.3,723.9 1661.4,727.1 1664.5,725.8 1667.6,728.8 1670.7,728.9 1673.8,729.9 1676.9,729.8 1680.0,731.3 1683.1,733.1 1686.2,732.0 1689.3,731.4 1692.4,733.1 1695.5,733.5 1698.6,732.0 1701.7,730.7 1704.8,730.4 1707.9,732.9 1711.0,734.3 1714.1,734.0 1717.2,733.6 1720.3,734.8 1723.4,734.5 1726.5,734.2 1729.6,736.3 1732.7,736.8 1735.8,736.4 1738.9,737.0 1742.0,736.2 1745.1,734.5 1748.2,734.8 1751.3,735.1 1754.4,734.2 1757.5,733.2 1760.6,735.1 1763.7,734.1 1766.8,733.2 1769.9,735.1 1773.0,736.2 1776.1,735.3 1779.2,736.4 1782.3,737.8 1785.4,735.4 1788.5,734.7 1791.6,734.0 1794.7,734.6 1797.8,736.0 1800.9,735.5 1804.0,735.3 1807.1,736.3 1810.2,736.1 1813.3,735.5 1816.4,736.5 1819.5,736.4 1822.6,734.5 1825.7,733.0 1828.8,732.5 1831.9,732.7 1835.0,733.2 1838.1,731.8 1841.2,734.5 1844.3,736.1 1847.4,737.0 1850.5,736.7 1853.6,734.6 1856.7,733.7 1859.8,733.4 1862.9,734.7 1866.0,736.4 1869.1,736.3 1872.2,737.3 1875.3,738.2 1878.4,736.8 1881.5,737.5 1884.6,738.1 1887.7,738.5 1890.8,736.4 1893.9,733.3 1897.0,733.0 1900.1,734.7 1903.2,735.1 1906.3,735.7 1909.4,737.0 1912.5,737.1 1915.6,737.1 1918.7,737.7 1921.8,738.1 1924.9,737.4 1928.0,736.3 1931.1,736.1 1934.2,736.3 1937.3,736.4 1940.4,735.6 1943.5,734.1 1946.6,734.8 1949.7,737.5 1952.8,738.7 1955.9,739.6 1959.0,740.2 1962.1,739.1 1965.2,738.4 1968.3,738.3 1971.4,739.4 1974.5,741.2 1977.6,740.8 1980.7,739.2 1983.8,738.5 1986.9,740.4 1990.0,743.5 1993.1,744.1 1996.2,744.0 1999.3,744.2 2002.4,742.9 2005.5,743.1 2008.6,744.7 2011.7,744.6 2014.8,744.5 2017.9,744.3 2021.0,742.9 2024.1,741.0 2027.2,739.6 2030.3,743.1 2033.4,744.5 2036.5,743.9 2039.6,744.1 2042.7,743.6 2045.8,741.8 2048.9,741.4 2052.0,742.5 2055.1,743.6 2058.2,743.5 2061.3,741.4 2064.4,743.6 2067.5,744.3 2070.6,744.0 2073.7,744.3 2076.8,745.3 2079.9,746.5 2083.0,746.2 2086.1,744.5 2090.5,743.4 2090.5,757.0 2086.1,756.3 2083.0,756.0 2079.9,757.1 2076.8,758.5 2073.7,758.1 2070.6,757.8 2067.5,756.8 2064.4,755.8 2061.3,755.9 2058.2,756.8 2055.1,757.0 2052.0,756.3 2048.9,756.7 2045.8,758.4 2042.7,758.3 2039.6,756.4 2036.5,756.1 2033.4,757.3 2030.3,756.1 2027.2,755.8 2024.1,755.4 2021.0,755.9 2017.9,758.5 2014.8,756.3 2011.7,755.1 2008.6,755.7 2005.5,756.6 2002.4,754.4 1999.3,754.7 1996.2,754.9 1993.1,754.5 1990.0,754.7 1986.9,754.5 1983.8,752.9 1980.7,752.4 1977.6,753.8 1974.5,753.9 1971.4,752.7 1968.3,752.4 1965.2,752.5 1962.1,751.8 1959.0,751.8 1955.9,752.6 1952.8,753.2 1949.7,754.1 1946.6,754.3 1943.5,751.9 1940.4,751.1 1937.3,750.6 1934.2,750.2 1931.1,750.8 1928.0,750.9 1924.9,750.9 1921.8,751.3 1918.7,751.4 1915.6,750.4 1912.5,749.4 1909.4,750.9 1906.3,754.1 1903.2,751.0 1900.1,751.5 1897.0,751.0 1893.9,750.7 1890.8,751.0 1887.7,749.7 1884.6,747.9 1881.5,748.0 1878.4,749.8 1875.3,750.0 1872.2,750.3 1869.1,750.8 1866.0,751.3 1862.9,752.1 1859.8,751.8 1856.7,750.9 1853.6,750.3 1850.5,750.0 1847.4,749.3 1844.3,749.5 1841.2,751.0 1838.1,750.4 1835.0,749.5 1831.9,749.2 1828.8,749.7 1825.7,750.8 1822.6,752.1 1819.5,752.1 1816.4,749.3 1813.3,748.1 1810.2,749.6 1807.1,750.6 1804.0,749.1 1800.9,747.7 1797.8,748.7 1794.7,749.4 1791.6,746.8 1788.5,749.1 1785.4,748.0 1782.3,749.0 1779.2,749.8 1776.1,750.1 1773.0,750.7 1769.9,750.5 1766.8,750.6 1763.7,750.2 1760.6,749.7 1757.5,749.5 1754.4,748.1 1751.3,749.7 1748.2,748.2 1745.1,748.5 1742.0,750.5 1738.9,751.9 1735.8,750.9 1732.7,750.4 1729.6,749.7 1726.5,748.4 1723.4,747.9 1720.3,747.5 1717.2,747.3 1714.1,747.9 1711.0,747.7 1707.9,747.2 1704.8,748.9 1701.7,752.7 1698.6,747.7 1695.5,746.8 1692.4,746.5 1689.3,746.7 1686.2,748.8 1683.1,746.4 1680.0,746.0 1676.9,746.6 1673.8,744.9 1670.7,743.1 1667.6,743.3 1664.5,742.2 1661.4,742.9 1658.3,744.3 1655.2,743.8 1652.1,745.5 1649.0,742.9 1645.9,744.1 1642.8,743.6 1639.7,742.0 1636.6,741.6 1633.5,743.0 1630.4,744.8 1627.3,742.5 1624.2,741.3 1621.1,742.0 1618.0,742.8 1614.9,743.5 1611.8,743.5 1608.7,742.2 1605.6,741.8 1602.5,744.1 1599.4,744.5 1596.3,743.6 1593.2,744.3 1590.1,746.0 1587.0,741.2 1583.9,739.5 1580.8,740.8 1577.7,742.2 1574.6,739.0 1571.5,738.8 1568.4,742.2 1565.3,742.6 1562.2,740.6 1559.1,740.3 1556.0,741.5 1552.9,741.2 1549.8,741.9 1546.7,745.6 1543.6,741.3 1540.5,739.0 1537.4,738.0 1534.3,737.6 1531.2,738.3 1528.1,736.9 1525.0,735.6 1521.9,736.2 1518.8,736.8 1515.7,735.5 1512.6,733.8 1509.5,733.7 1506.4,733.0 1503.3,733.5 1500.2,732.2 1497.1,731.4 1494.0,732.5 1490.9,731.4 1487.8,730.5 1484.7,730.3 1481.6,731.1 1478.5,731.0 1475.4,730.7 1472.3,732.9 1469.2,735.1 1466.1,735.9 1463.0,736.4 1459.9,737.1 1456.8,737.1 1453.7,735.8 1450.6,735.3 1447.5,736.1 1444.4,734.3 1441.3,733.2 1438.2,733.6 1435.1,734.9 1432.0,737.7 1428.9,738.1 1425.8,735.7 1422.7,735.5 1419.6,737.6 1416.5,735.9 1413.4,735.2 1410.3,737.6 1407.2,741.2 1404.1,735.6 1401.0,735.3 1397.9,738.2 1394.8,740.6 1391.7,737.4 1388.6,737.0 1385.5,739.0 1382.4,740.7 1379.3,741.2 1376.2,741.2 1373.1,740.5 1370.0,740.9 1366.9,742.4 1363.8,739.1 1360.7,737.4 1357.6,738.3 1354.5,740.2 1351.4,743.1 1348.3,739.8 1345.2,738.7 1342.1,739.7 1339.0,740.7 1335.9,741.7 1332.8,740.3 1329.7,738.2 1326.6,739.0 1323.5,740.9 1320.4,742.1 1317.3,744.2 1314.2,747.2 1311.1,743.5 1308.0,743.1 1304.9,742.5 1301.8,740.1 1298.7,739.4 1295.6,740.2 1292.5,741.0 1289.4,741.6 1286.3,742.8 1283.2,744.1 1280.1,744.5 1277.0,744.4 1273.9,743.0 1270.8,742.9 1267.7,746.8 1264.6,742.7 1261.5,740.0 1258.4,739.7 1255.3,740.5 1252.2,741.3 1249.1,741.3 1246.0,740.4 1242.9,740.3 1239.8,742.5 1236.7,741.6 1233.6,740.9 1230.5,742.7 1227.4,739.8 1224.3,737.6 1221.2,736.9 1218.1,738.1 1215.0,736.5 1211.9,735.7 1208.8,734.1 1205.7,730.8 1202.6,730.4 1199.5,735.2 1196.4,727.9 1193.3,723.4 1190.2,721.4 1187.1,720.0 1184.0,719.6 1180.9,720.8 1177.8,724.4 1174.7,727.6 1171.6,727.8 1168.5,728.7 1165.4,732.3 1162.3,737.1 1159.2,734.8 1156.1,734.8 1153.0,736.8 1149.9,738.1 1146.8,738.7 1143.7,739.5 1140.6,739.6 1137.5,739.2 1134.4,739.6 1131.3,738.2 1128.2,737.5 1125.1,740.5 1122.0,738.6 1118.9,738.6 1115.8,739.3 1112.7,739.6 1109.6,738.0 1106.5,735.8 1103.4,736.5 1100.3,739.1 1097.2,741.4 1094.1,738.3 1091.0,736.5 1087.9,737.7 1084.8,737.4 1081.7,738.9 1078.6,740.5 1075.5,739.8 1072.4,739.1 1069.3,739.5 1066.2,740.1 1063.1,736.5 1060.0,735.9 1056.9,736.6 1053.8,738.6 1050.7,740.6 1047.6,739.2 1044.5,735.0 1041.4,733.4 1038.3,736.1 1035.2,734.9 1032.1,732.7 1029.0,733.5 1025.9,735.8 1022.8,736.7 1019.7,736.9 1016.6,737.7 1013.5,737.8 1010.4,736.5 1007.3,735.7 1004.2,735.9 1001.1,735.8 998.0,735.3 994.9,734.1 991.8,734.2 988.7,736.1 985.6,736.2 982.5,735.2 979.4,734.1 976.3,733.2 973.2,733.3 970.1,733.3 967.0,733.1 963.9,734.0 960.8,732.1 957.7,731.4 954.6,733.7 951.5,731.8 948.4,733.9 945.3,737.5 942.2,734.8 939.1,732.1 936.0,730.5 932.9,730.4 929.8,730.9 926.7,730.6 923.6,729.9 920.5,730.6 917.4,733.9 914.3,737.3 911.2,734.0 908.1,732.6 905.0,733.5 901.9,732.8 898.8,732.5 895.7,730.5 892.6,729.8 889.5,728.7 886.4,730.3 883.3,731.2 880.2,733.8 877.1,729.1 874.0,727.6 870.9,727.8 867.8,727.8 864.7,728.2 861.6,728.8 858.5,726.3 855.4,724.3 852.3,725.4 849.2,728.4 846.1,726.6 843.0,726.4 839.9,726.7 836.8,725.3 833.7,722.7 830.6,720.7 827.5,721.1 824.4,722.8 821.3,723.9 818.2,721.8 815.1,720.1 812.0,719.8 808.9,720.0 805.8,720.0 802.7,719.5 799.6,719.4 796.5,718.2 793.4,716.9 790.3,717.4 787.2,716.2 784.1,715.2 781.0,716.1 777.9,716.6 774.8,715.4 771.7,716.9 768.6,724.2 765.5,716.9 762.4,716.2 759.3,715.2 756.2,713.6 753.1,711.0 750.0,709.7 746.9,713.4 743.8,709.0 740.7,707.5 737.6,707.0 734.5,704.0 731.4,701.5 728.3,701.6 725.2,700.7 722.1,698.2 719.0,695.9 715.9,695.1 712.8,693.8 709.7,690.6 706.6,690.4 703.5,690.7 700.4,689.7 697.3,689.9 694.2,691.3 691.1,686.6 688.0,685.1 684.9,681.7 681.8,680.4 678.7,683.6 675.6,684.5 672.5,688.8 669.4,689.2 666.3,688.0 663.2,685.7 660.1,690.0 657.0,691.9 653.9,693.5 650.8,697.3 647.7,701.1 644.6,698.0 641.5,700.3 638.4,703.5 635.3,704.3 632.2,709.3 629.1,711.1 626.0,709.0 622.9,707.0 619.8,702.5 616.7,704.4 613.6,707.7 610.5,707.3 607.4,707.9 604.3,713.1 601.2,709.3 598.1,707.1 595.0,706.8 591.9,709.7 588.8,714.8 585.7,710.5 582.6,709.0 579.5,710.3 576.4,710.6 573.3,711.2 570.2,710.7 567.1,708.4 564.0,709.6 560.9,709.8 557.8,712.7 554.7,713.0 551.6,712.5 548.5,712.6 545.4,711.2 542.3,712.3 539.2,718.2 536.1,713.5 533.0,711.9 529.9,711.6 526.8,712.1 523.7,713.8 520.6,714.9 517.5,716.2 514.4,718.8 511.3,718.6 508.2,717.4 505.1,716.9 502.0,718.5 498.9,719.8 495.8,718.6 492.7,721.1 489.6,724.6 486.5,723.3 483.4,722.2 480.3,724.0 477.2,729.5 474.1,722.1 471.0,721.4 467.9,723.7 464.8,724.9 461.7,726.4 458.6,727.6 455.5,727.9 452.4,727.2 449.3,727.4 446.2,730.2 443.1,732.4 440.0,730.8 436.9,727.6 433.8,727.2 430.7,728.8 427.6,728.2 424.5,730.1 421.4,732.0 418.3,732.1 415.2,733.7 412.1,735.3 409.0,734.5 405.9,732.6 402.8,730.0 399.7,730.5 396.6,735.0 393.5,732.4 390.4,731.7 387.3,731.4 384.2,730.6 381.1,733.1 378.0,727.7 374.9,726.2 371.8,727.2 368.7,727.7 365.6,726.9 362.5,724.8 359.4,722.5 356.3,722.2 353.2,723.5 350.1,723.0 347.0,723.3 343.9,725.5 340.8,727.6 337.7,732.5 333.0,726.4"/>
<polyline fill="none" stroke="#009900" stroke-width="5.4" stroke-linejoin="round" points="333,712.5 334,712.6 335,712.7 336,712.8 337,712.9 338,713.0 339,713.1 340,713.2 341,713.4 342,713.5 343,713.6 344,713.7 345,713.8 346,713.9 347,714.0 348,714.1 349,714.2 350,714.4 351,714.5 352,714.6 353,714.7 354,714.8 355,714.9 356,715.1 357,715.2 358,715.3 359,715.4 360,715.5 361,715.6 362,715.8 363,715.9 364,716.0 365,716.1 366,716.2 367,716.4 368,716.5 369,716.6 370,716.7 371,716.9 372,717.0 373,717.1 374,717.2 375,717.4 376,717.5 377,717.6 378,717.7 379,717.9 380,718.0 381,718.1 382,718.3 383,718.4 384,718.6 385,718.7 386,718.9 387,719.1 388,719.3 389,719.4 390,719.6 391,719.8 392,720.0 393,720.2 394,720.4 395,720.6 396,720.7 397,720.9 398,721.1 399,721.3 400,721.4 401,721.6 402,721.7 403,721.9 404,722.0 405,722.1 406,722.2 407,722.3 408,722.4 409,722.5 410,722.5 411,722.6 412,722.6 413,722.6 414,722.6 415,722.6 416,722.5 417,722.5 418,722.5 419,722.4 420,722.3 421,722.3 422,722.2 423,722.1 424,722.0 425,721.9 426,721.8 427,721.6 428,721.5 429,721.4 430,721.2 431,721.1 432,720.9 433,720.8 434,720.6 435,720.4 436,720.3 437,720.1 438,719.9 439,719.7 440,719.6 441,719.4 442,719.2 443,719.0 444,718.8 445,718.6 446,718.4 447,718.3 448,718.1 449,717.9 450,717.7 451,717.5 452,717.3 453,717.2 454,717.0 455,716.8 456,716.6 457,716.5 458,716.3 459,716.2 460,716.0 461,715.9 462,715.7 463,715.5 464,715.4 465,715.2 466,715.1 467,714.9 468,714.8 469,714.6 470,714.5 471,714.3 472,714.2 473,714.0 474,713.9 475,713.7 476,713.5 477,713.4 478,713.2 479,713.1 480,712.9 481,712.8 482,712.6 483,712.4 484,712.3 485,712.1 486,712.0 487,711.8 488,711.6 489,711.5 490,711.3 491,711.1 492,711.0 493,710.8 494,710.7 495,710.5 496,710.3 497,710.2 498,710.0 499,709.8 500,709.7 501,709.5 502,709.3 503,709.2 504,709.0 505,708.8 506,708.7 507,708.5 508,708.3 509,708.2 510,708.0 511,707.8 512,707.7 513,707.5 514,707.3 515,707.2 516,707.0 517,706.8 518,706.7 519,706.5 520,706.3 521,706.1 522,705.9 523,705.7 524,705.5 525,705.3 526,705.2 527,705.0 528,704.8 529,704.6 530,704.4 531,704.2 532,704.0 533,703.9 534,703.7 535,703.5 536,703.4 537,703.2 538,703.1 539,702.9 540,702.8 541,702.7 542,702.6 543,702.4 544,702.3 545,702.2 546,702.1 547,702.0 548,701.9 549,701.8 550,701.7 551,701.6 552,701.5 553,701.4 554,701.3 555,701.2 556,701.1 557,701.0 558,700.9 559,700.8 560,700.7 561,700.6 562,700.5 563,700.5 564,700.4 565,700.3 566,700.2 567,700.1 568,700.0 569,700.0 570,699.9 571,699.8 572,699.7 573,699.6 574,699.6 575,699.5 576,699.4 577,699.4 578,699.3 579,699.2 580,699.1 581,699.1 582,699.0 583,698.9 584,698.9 585,698.8 586,698.7 587,698.7 588,698.6 589,698.5 590,698.4 591,698.4 592,698.3 593,698.2 594,698.2 595,698.1 596,698.0 597,698.0 598,697.9 599,697.8 600,697.8 601,697.7 602,697.6 603,697.6 604,697.5 605,697.4 606,697.4 607,697.3 608,697.2 609,697.2 610,697.1 611,697.0 612,696.9 613,696.8 614,696.7 615,696.6 616,696.5 617,696.4 618,696.3 619,696.1 620,696.0 621,695.8 622,695.7 623,695.5 624,695.3 625,695.1 626,694.9 627,694.6 628,694.4 629,694.1 630,693.9 631,693.6 632,693.4 633,693.1 634,692.8 635,692.5 636,692.2 637,691.9 638,691.6 639,691.2 640,690.9 641,690.4 642,690.0 643,689.6 644,689.1 645,688.6 646,688.1 647,687.6 648,687.1 649,686.6 650,686.0 651,685.5 652,685.0 653,684.4 654,683.9 655,683.3 656,682.8 657,682.2 658,681.6 659,680.9 660,680.2 661,679.5 662,678.7 663,678.0 664,677.3 665,676.7 666,676.2 667,675.7 668,675.3 669,675.1 670,674.9 671,674.8 672,674.6 673,674.5 674,674.3 675,674.2 676,674.1 677,674.0 678,673.9 679,673.9 680,673.8 681,673.8 682,673.8 683,673.8 684,673.9 685,673.9 686,674.1 687,674.2 688,674.3 689,674.5 690,674.7 691,674.9 692,675.2 693,675.4 694,675.7 695,676.0 696,676.2 697,676.5 698,676.8 699,677.1 700,677.4 701,677.7 702,678.0 703,678.4 704,678.8 705,679.3 706,679.8 707,680.3 708,680.8 709,681.4 710,682.0 711,682.6 712,683.2 713,683.8 714,684.4 715,684.9 716,685.5 717,686.0 718,686.5 719,687.0 720,687.4 721,687.8 722,688.2 723,688.5 724,688.9 725,689.2 726,689.6 727,689.9 728,690.2 729,690.5 730,690.8 731,691.1 732,691.4 733,691.7 734,692.0 735,692.3 736,692.6 737,693.0 738,693.3 739,693.6 740,694.0 741,694.4 742,694.7 743,695.1 744,695.5 745,696.0 746,696.4 747,696.8 748,697.2 749,697.7 750,698.1 751,698.5 752,698.9 753,699.3 754,699.7 755,700.1 756,700.5 757,700.8 758,701.2 759,701.5 760,701.8 761,702.1 762,702.4 763,702.7 764,703.0 765,703.3 766,703.6 767,703.9 768,704.2 769,704.5 770,704.8 771,705.0 772,705.3 773,705.5 774,705.8 775,706.0 776,706.3 777,706.5 778,706.7 779,706.9 780,707.1 781,707.3 782,707.5 783,707.7 784,707.8 785,708.0 786,708.1 787,708.3 788,708.4 789,708.5 790,708.6 791,708.8 792,708.9 793,709.0 794,709.1 795,709.2 796,709.3 797,709.4 798,709.4 799,709.5 800,709.6 801,709.7 802,709.8 803,709.9 804,709.9 805,710.0 806,710.1 807,710.2 808,710.3 809,710.4 810,710.5 811,710.6 812,710.7 813,710.8 814,710.9 815,711.0 816,711.1 817,711.2 818,711.3 819,711.4 820,711.6 821,711.7 822,711.9 823,712.0 824,712.1 825,712.3 826,712.5 827,712.6 828,712.8 829,712.9 830,713.1 831,713.3 832,713.4 833,713.6 834,713.8 835,714.0 836,714.1 837,714.3 838,714.5 839,714.7 840,714.8 841,715.0 842,715.2 843,715.4 844,715.5 845,715.7 846,715.9 847,716.0 848,716.2 849,716.4 850,716.5 851,716.7 852,716.9 853,717.0 854,717.2 855,717.3 856,717.5 857,717.6 858,717.8 859,717.9 860,718.0 861,718.1 862,718.3 863,718.4 864,718.5 865,718.6 866,718.7 867,718.8 868,718.9 869,719.0 870,719.1 871,719.2 872,719.4 873,719.5 874,719.6 875,719.7 876,719.8 877,719.9 878,720.0 879,720.1 880,720.2 881,720.3 882,720.4 883,720.4 884,720.5 885,720.6 886,720.7 887,720.8 888,720.9 889,721.0 890,721.1 891,721.2 892,721.3 893,721.4 894,721.4 895,721.5 896,721.6 897,721.7 898,721.8 899,721.9 900,721.9 901,722.0 902,722.1 903,722.2 904,722.2 905,722.3 906,722.4 907,722.5 908,722.5 909,722.6 910,722.7 911,722.7 912,722.8 913,722.9 914,722.9 915,723.0 916,723.1 917,723.1 918,723.2 919,723.2 920,723.3 921,723.3 922,723.4 923,723.5 924,723.5 925,723.6 926,723.6 927,723.6 928,723.7 929,723.7 930,723.8 931,723.8 932,723.9 933,723.9 934,724.0 935,724.0 936,724.0 937,724.1 938,724.1 939,724.1 940,724.2 941,724.2 942,724.3 943,724.3 944,724.3 945,724.4 946,724.4 947,724.4 948,724.5 949,724.5 950,724.5 951,724.6 952,724.6 953,724.6 954,724.7 955,724.7 956,724.7 957,724.7 958,724.8 959,724.8 960,724.8 961,724.9 962,724.9 963,724.9 964,724.9 965,725.0 966,725.0 967,725.0 968,725.1 969,725.1 970,725.1 971,725.1 972,725.2 973,725.2 974,725.2 975,725.3 976,725.3 977,725.3 978,725.4 979,725.4 980,725.4 981,725.4 982,725.5 983,725.5 984,725.5 985,725.6 986,725.6 987,725.6 988,725.7 989,725.7 990,725.7 991,725.8 992,725.8 993,725.8 994,725.9 995,725.9 996,725.9 997,726.0 998,726.0 999,726.0 1000,726.1 1001,726.1 1002,726.1 1003,726.2 1004,726.2 1005,726.2 1006,726.3 1007,726.3 1008,726.3 1009,726.4 1010,726.4 1011,726.4 1012,726.5 1013,726.5 1014,726.5 1015,726.6 1016,726.6 1017,726.6 1018,726.7 1019,726.7 1020,726.7 1021,726.8 1022,726.8 1023,726.8 1024,726.9 1025,726.9 1026,726.9 1027,727.0 1028,727.0 1029,727.0 1030,727.1 1031,727.1 1032,727.1 1033,727.2 1034,727.2 1035,727.2 1036,727.3 1037,727.3 1038,727.4 1039,727.4 1040,727.4 1041,727.5 1042,727.5 1043,727.5 1044,727.6 1045,727.6 1046,727.6 1047,727.7 1048,727.7 1049,727.7 1050,727.8 1051,727.8 1052,727.8 1053,727.9 1054,727.9 1055,727.9 1056,728.0 1057,728.0 1058,728.1 1059,728.1 1060,728.2 1061,728.2 1062,728.2 1063,728.3 1064,728.3 1065,728.4 1066,728.4 1067,728.5 1068,728.5 1069,728.6 1070,728.6 1071,728.6 1072,728.7 1073,728.7 1074,728.8 1075,728.8 1076,728.9 1077,728.9 1078,729.0 1079,729.0 1080,729.0 1081,729.1 1082,729.1 1083,729.2 1084,729.2 1085,729.3 1086,729.3 1087,729.3 1088,729.4 1089,729.4 1090,729.5 1091,729.5 1092,729.5 1093,729.6 1094,729.6 1095,729.6 1096,729.7 1097,729.7 1098,729.7 1099,729.7 1100,729.8 1101,729.8 1102,729.8 1103,729.8 1104,729.8 1105,729.9 1106,729.9 1107,729.9 1108,729.9 1109,729.9 1110,729.9 1111,729.9 1112,729.9 1113,729.9 1114,729.9 1115,729.9 1116,729.9 1117,729.9 1118,729.9 1119,729.9 1120,729.9 1121,729.8 1122,729.8 1123,729.8 1124,729.8 1125,729.8 1126,729.8 1127,729.8 1128,729.7 1129,729.7 1130,729.7 1131,729.7 1132,729.6 1133,729.6 1134,729.6 1135,729.5 1136,729.5 1137,729.4 1138,729.4 1139,729.3 1140,729.3 1141,729.2 1142,729.1 1143,729.0 1144,728.9 1145,728.8 1146,728.7 1147,728.5 1148,728.4 1149,728.2 1150,728.0 1151,727.8 1152,727.6 1153,727.3 1154,727.1 1155,726.8 1156,726.5 1157,726.2 1158,725.9 1159,725.5 1160,725.1 1161,724.7 1162,724.3 1163,723.8 1164,723.3 1165,722.8 1166,722.3 1167,721.8 1168,721.2 1169,720.7 1170,720.1 1171,719.5 1172,718.9 1173,718.3 1174,717.7 1175,717.1 1176,716.5 1177,716.0 1178,715.4 1179,714.9 1180,714.5 1181,714.1 1182,713.7 1183,713.4 1184,713.1 1185,712.9 1186,712.8 1187,712.8 1188,712.8 1189,712.9 1190,713.1 1191,713.4 1192,713.7 1193,714.1 1194,714.6 1195,715.1 1196,715.7 1197,716.3 1198,716.9 1199,717.6 1200,718.3 1201,719.0 1202,719.7 1203,720.4 1204,721.1 1205,721.8 1206,722.5 1207,723.2 1208,723.9 1209,724.5 1210,725.1 1211,725.7 1212,726.3 1213,726.8 1214,727.3 1215,727.8 1216,728.3 1217,728.7 1218,729.1 1219,729.5 1220,729.8 1221,730.1 1222,730.4 1223,730.7 1224,731.0 1225,731.2 1226,731.4 1227,731.6 1228,731.8 1229,731.9 1230,732.1 1231,732.2 1232,732.3 1233,732.4 1234,732.5 1235,732.6 1236,732.7 1237,732.8 1238,732.8 1239,732.9 1240,732.9 1241,733.0 1242,733.0 1243,733.0 1244,733.1 1245,733.1 1246,733.1 1247,733.1 1248,733.2 1249,733.2 1250,733.2 1251,733.2 1252,733.2 1253,733.2 1254,733.2 1255,733.3 1256,733.3 1257,733.3 1258,733.3 1259,733.3 1260,733.3 1261,733.3 1262,733.3 1263,733.3 1264,733.3 1265,733.3 1266,733.3 1267,733.3 1268,733.3 1269,733.3 1270,733.3 1271,733.3 1272,733.3 1273,733.3 1274,733.3 1275,733.3 1276,733.3 1277,733.3 1278,733.3 1279,733.2 1280,733.2 1281,733.2 1282,733.2 1283,733.2 1284,733.2 1285,733.2 1286,733.2 1287,733.2 1288,733.2 1289,733.2 1290,733.2 1291,733.1 1292,733.1 1293,733.1 1294,733.1 1295,733.1 1296,733.1 1297,733.1 1298,733.1 1299,733.1 1300,733.0 1301,733.0 1302,733.0 1303,733.0 1304,733.0 1305,733.0 1306,733.0 1307,733.0 1308,732.9 1309,732.9 1310,732.9 1311,732.9 1312,732.9 1313,732.8 1314,732.8 1315,732.8 1316,732.8 1317,732.8 1318,732.7 1319,732.7 1320,732.7 1321,732.7 1322,732.6 1323,732.6 1324,732.6 1325,732.5 1326,732.5 1327,732.5 1328,732.4 1329,732.4 1330,732.4 1331,732.3 1332,732.3 1333,732.3 1334,732.2 1335,732.2 1336,732.2 1337,732.1 1338,732.1 1339,732.1 1340,732.0 1341,732.0 1342,732.0 1343,731.9 1344,731.9 1345,731.8 1346,731.8 1347,731.8 1348,731.7 1349,731.7 1350,731.7 1351,731.6 1352,731.6 1353,731.5 1354,731.5 1355,731.5 1356,731.4 1357,731.4 1358,731.3 1359,731.3 1360,731.3 1361,731.2 1362,731.2 1363,731.2 1364,731.1 1365,731.1 1366,731.0 1367,731.0 1368,731.0 1369,730.9 1370,730.9 1371,730.8 1372,730.8 1373,730.7 1374,730.7 1375,730.6 1376,730.6 1377,730.5 1378,730.5 1379,730.4 1380,730.4 1381,730.3 1382,730.3 1383,730.2 1384,730.1 1385,730.1 1386,730.0 1387,730.0 1388,729.9 1389,729.8 1390,729.8 1391,729.7 1392,729.7 1393,729.6 1394,729.5 1395,729.5 1396,729.4 1397,729.4 1398,729.3 1399,729.2 1400,729.2 1401,729.1 1402,729.1 1403,729.0 1404,729.0 1405,728.9 1406,728.9 1407,728.8 1408,728.8 1409,728.7 1410,728.7 1411,728.6 1412,728.6 1413,728.5 1414,728.5 1415,728.4 1416,728.4 1417,728.3 1418,728.3 1419,728.3 1420,728.2 1421,728.2 1422,728.2 1423,728.1 1424,728.1 1425,728.1 1426,728.1 1427,728.0 1428,728.0 1429,728.0 1430,728.0 1431,728.0 1432,728.0 1433,728.0 1434,728.0 1435,728.0 1436,728.0 1437,728.0 1438,728.0 1439,728.0 1440,728.0 1441,728.0 1442,728.0 1443,728.0 1444,728.0 1445,728.0 1446,728.0 1447,727.9 1448,727.9 1449,727.9 1450,727.9 1451,727.8 1452,727.8 1453,727.7 1454,727.6 1455,727.6 1456,727.5 1457,727.4 1458,727.3 1459,727.1 1460,727.0 1461,726.9 1462,726.7 1463,726.6 1464,726.4 1465,726.2 1466,726.1 1467,725.9 1468,725.7 1469,725.5 1470,725.3 1471,725.1 1472,724.9 1473,724.7 1474,724.5 1475,724.4 1476,724.2 1477,724.0 1478,723.8 1479,723.6 1480,723.5 1481,723.3 1482,723.2 1483,723.0 1484,722.9 1485,722.8 1486,722.7 1487,722.7 1488,722.6 1489,722.6 1490,722.6 1491,722.6 1492,722.6 1493,722.7 1494,722.7 1495,722.8 1496,722.9 1497,723.1 1498,723.2 1499,723.4 1500,723.5 1501,723.7 1502,723.9 1503,724.1 1504,724.3 1505,724.5 1506,724.8 1507,725.0 1508,725.2 1509,725.5 1510,725.7 1511,725.9 1512,726.2 1513,726.4 1514,726.7 1515,726.9 1516,727.1 1517,727.3 1518,727.6 1519,727.8 1520,728.0 1521,728.2 1522,728.4 1523,728.6 1524,728.8 1525,729.0 1526,729.2 1527,729.3 1528,729.5 1529,729.7 1530,729.8 1531,730.0 1532,730.1 1533,730.2 1534,730.4 1535,730.5 1536,730.6 1537,730.7 1538,730.8 1539,730.9 1540,731.0 1541,731.1 1542,731.2 1543,731.3 1544,731.4 1545,731.5 1546,731.5 1547,731.6 1548,731.7 1549,731.7 1550,731.8 1551,731.9 1552,731.9 1553,732.0 1554,732.1 1555,732.1 1556,732.2 1557,732.2 1558,732.3 1559,732.4 1560,732.4 1561,732.5 1562,732.5 1563,732.6 1564,732.7 1565,732.7 1566,732.8 1567,732.8 1568,732.9 1569,733.0 1570,733.0 1571,733.1 1572,733.2 1573,733.2 1574,733.3 1575,733.3 1576,733.4 1577,733.5 1578,733.5 1579,733.6 1580,733.7 1581,733.7 1582,733.8 1583,733.8 1584,733.9 1585,734.0 1586,734.0 1587,734.1 1588,734.1 1589,734.2 1590,734.2 1591,734.3 1592,734.3 1593,734.4 1594,734.4 1595,734.5 1596,734.5 1597,734.6 1598,734.6 1599,734.6 1600,734.7 1601,734.7 1602,734.8 1603,734.8 1604,734.8 1605,734.8 1606,734.9 1607,734.9 1608,734.9 1609,734.9 1610,735.0 1611,735.0 1612,735.0 1613,735.0 1614,735.0 1615,735.0 1616,735.0 1617,735.0 1618,735.0 1619,735.0 1620,735.0 1621,735.0 1622,735.0 1623,735.0 1624,735.0 1625,735.0 1626,735.0 1627,735.0 1628,735.0 1629,735.0 1630,735.0 1631,735.0 1632,735.0 1633,735.0 1634,735.0 1635,735.0 1636,735.0 1637,735.0 1638,735.0 1639,735.0 1640,735.0 1641,735.0 1642,735.0 1643,735.0 1644,735.1 1645,735.1 1646,735.1 1647,735.2 1648,735.2 1649,735.2 1650,735.3 1651,735.4 1652,735.4 1653,735.5 1654,735.6 1655,735.6 1656,735.7 1657,735.8 1658,735.9 1659,736.0 1660,736.1 1661,736.2 1662,736.3 1663,736.4 1664,736.5 1665,736.6 1666,736.7 1667,736.8 1668,736.9 1669,737.0 1670,737.1 1671,737.2 1672,737.3 1673,737.5 1674,737.6 1675,737.7 1676,737.8 1677,737.9 1678,738.0 1679,738.1 1680,738.3 1681,738.4 1682,738.5 1683,738.6 1684,738.7 1685,738.8 1686,738.9 1687,739.0 1688,739.1 1689,739.2 1690,739.3 1691,739.4 1692,739.5 1693,739.6 1694,739.7 1695,739.8 1696,739.9 1697,739.9 1698,740.0 1699,740.1 1700,740.1 1701,740.2 1702,740.2 1703,740.3 1704,740.3 1705,740.4 1706,740.4 1707,740.5 1708,740.5 1709,740.6 1710,740.6 1711,740.7 1712,740.7 1713,740.8 1714,740.8 1715,740.9 1716,740.9 1717,741.0 1718,741.0 1719,741.1 1720,741.1 1721,741.2 1722,741.2 1723,741.2 1724,741.3 1725,741.3 1726,741.4 1727,741.4 1728,741.5 1729,741.5 1730,741.5 1731,741.6 1732,741.6 1733,741.7 1734,741.7 1735,741.7 1736,741.8 1737,741.8 1738,741.9 1739,741.9 1740,741.9 1741,742.0 1742,742.0 1743,742.0 1744,742.0 1745,742.1 1746,742.1 1747,742.1 1748,742.2 1749,742.2 1750,742.2 1751,742.2 1752,742.2 1753,742.3 1754,742.3 1755,742.3 1756,742.3 1757,742.3 1758,742.3 1759,742.4 1760,742.4 1761,742.4 1762,742.4 1763,742.4 1764,742.4 1765,742.4 1766,742.4 1767,742.4 1768,742.4 1769,742.4 1770,742.4 1771,742.4 1772,742.4 1773,742.4 1774,742.4 1775,742.4 1776,742.4 1777,742.4 1778,742.4 1779,742.4 1780,742.4 1781,742.4 1782,742.4 1783,742.4 1784,742.4 1785,742.4 1786,742.4 1787,742.4 1788,742.4 1789,742.4 1790,742.4 1791,742.4 1792,742.4 1793,742.4 1794,742.4 1795,742.4 1796,742.4 1797,742.4 1798,742.4 1799,742.4 1800,742.4 1801,742.4 1802,742.4 1803,742.4 1804,742.4 1805,742.4 1806,742.4 1807,742.4 1808,742.4 1809,742.4 1810,742.4 1811,742.4 1812,742.4 1813,742.4 1814,742.4 1815,742.4 1816,742.4 1817,742.4 1818,742.4 1819,742.4 1820,742.4 1821,742.4 1822,742.4 1823,742.4 1824,742.4 1825,742.4 1826,742.4 1827,742.4 1828,742.4 1829,742.4 1830,742.4 1831,742.4 1832,742.4 1833,742.4 1834,742.4 1835,742.4 1836,742.4 1837,742.4 1838,742.4 1839,742.4 1840,742.5 1841,742.5 1842,742.5 1843,742.5 1844,742.5 1845,742.5 1846,742.5 1847,742.5 1848,742.5 1849,742.6 1850,742.6 1851,742.6 1852,742.6 1853,742.6 1854,742.6 1855,742.7 1856,742.7 1857,742.7 1858,742.7 1859,742.7 1860,742.8 1861,742.8 1862,742.8 1863,742.8 1864,742.8 1865,742.9 1866,742.9 1867,742.9 1868,742.9 1869,742.9 1870,743.0 1871,743.0 1872,743.0 1873,743.0 1874,743.0 1875,743.1 1876,743.1 1877,743.1 1878,743.1 1879,743.2 1880,743.2 1881,743.2 1882,743.2 1883,743.2 1884,743.3 1885,743.3 1886,743.3 1887,743.3 1888,743.3 1889,743.4 1890,743.4 1891,743.4 1892,743.4 1893,743.4 1894,743.5 1895,743.5 1896,743.5 1897,743.5 1898,743.5 1899,743.5 1900,743.6 1901,743.6 1902,743.6 1903,743.6 1904,743.6 1905,743.6 1906,743.7 1907,743.7 1908,743.7 1909,743.7 1910,743.7 1911,743.7 1912,743.8 1913,743.8 1914,743.8 1915,743.8 1916,743.8 1917,743.8 1918,743.9 1919,743.9 1920,743.9 1921,743.9 1922,743.9 1923,743.9 1924,744.0 1925,744.0 1926,744.0 1927,744.0 1928,744.0 1929,744.1 1930,744.1 1931,744.1 1932,744.1 1933,744.2 1934,744.2 1935,744.2 1936,744.2 1937,744.2 1938,744.3 1939,744.3 1940,744.3 1941,744.4 1942,744.4 1943,744.4 1944,744.4 1945,744.5 1946,744.5 1947,744.5 1948,744.6 1949,744.6 1950,744.6 1951,744.7 1952,744.7 1953,744.7 1954,744.8 1955,744.8 1956,744.8 1957,744.9 1958,744.9 1959,745.0 1960,745.0 1961,745.1 1962,745.1 1963,745.2 1964,745.3 1965,745.4 1966,745.5 1967,745.7 1968,745.8 1969,745.9 1970,746.1 1971,746.3 1972,746.4 1973,746.6 1974,746.8 1975,747.0 1976,747.2 1977,747.4 1978,747.5 1979,747.7 1980,747.9 1981,748.1 1982,748.3 1983,748.4 1984,748.6 1985,748.8 1986,748.9 1987,749.0 1988,749.2 1989,749.3 1990,749.4 1991,749.5 1992,749.6 1993,749.6 1994,749.7 1995,749.7 1996,749.7 1997,749.7 1998,749.7 1999,749.7 2000,749.7 2001,749.7 2002,749.7 2003,749.7 2004,749.7 2005,749.7 2006,749.7 2007,749.7 2008,749.7 2009,749.7 2010,749.7 2011,749.7 2012,749.7 2013,749.7 2014,749.7 2015,749.7 2016,749.7 2017,749.7 2018,749.7 2019,749.7 2020,749.7 2021,749.7 2022,749.7 2023,749.7 2024,749.7 2025,749.7 2026,749.7 2027,749.7 2028,749.7 2029,749.7 2030,749.7 2031,749.7 2032,749.7 2033,749.7 2034,749.7 2035,749.7 2036,749.7 2037,749.7 2038,749.7 2039,749.7 2040,749.7 2041,749.7 2042,749.7 2043,749.7 2044,749.7 2045,749.7 2046,749.7 2047,749.7 2048,749.7 2049,749.7 2050,749.7 2051,749.7 2052,749.7 2053,749.7 2054,749.7 2055,749.7 2056,749.7 2057,749.7 2058,749.7 2059,749.7 2060,749.7 2061,749.7 2062,749.7 2063,749.7 2064,749.7 2065,749.7 2066,749.7 2067,749.7 2068,749.7 2069,749.7 2070,749.7 2071,749.7 2072,749.7 2073,749.7 2074,749.7 2075,749.7 2076,749.7 2077,749.7 2078,749.7 2079,749.7 2080,749.7 2081,749.7 2082,749.7 2083,749.7 2084,749.7 2085,749.7 2086,749.7 2087,749.7 2088,749.7 2089,749.7 2090,749.7"/>
<polygon fill="#ff0000" points="333.0,906.2 337.7,906.0 340.8,905.5 343.9,905.0 347.0,905.6 350.1,907.6 353.2,908.4 356.3,908.5 359.4,908.9 362.5,908.1 365.6,906.7 368.7,905.7 371.8,906.5 374.9,908.8 378.0,909.4 381.1,907.2 384.2,906.6 387.3,909.3 390.4,908.4 393.5,902.9 396.6,906.4 399.7,908.2 402.8,906.3 405.9,901.5 409.0,905.4 412.1,905.0 415.2,901.5 418.3,904.7 421.4,904.7 424.5,904.1 427.6,905.9 430.7,906.2 433.8,905.0 436.9,905.0 440.0,908.2 443.1,909.1 446.2,907.8 449.3,906.6 452.4,906.1 455.5,906.0 458.6,906.1 461.7,905.3 464.8,903.0 467.9,904.2 471.0,904.5 474.1,904.7 477.2,905.4 480.3,905.3 483.4,904.7 486.5,903.9 489.6,903.2 492.7,901.7 495.8,898.8 498.9,900.1 502.0,901.2 505.1,899.9 508.2,900.0 511.3,901.9 514.4,902.2 517.5,902.2 520.6,902.3 523.7,901.7 526.8,900.5 529.9,898.5 533.0,899.3 536.1,900.7 539.2,901.6 542.3,900.5 545.4,898.1 548.5,898.5 551.6,899.7 554.7,900.4 557.8,900.6 560.9,900.9 564.0,900.1 567.1,898.2 570.2,895.9 573.3,893.4 576.4,895.6 579.5,894.6 582.6,896.1 585.7,897.4 588.8,895.0 591.9,896.3 595.0,897.2 598.1,897.0 601.2,895.7 604.3,894.5 607.4,895.2 610.5,894.9 613.6,896.7 616.7,896.7 619.8,896.0 622.9,895.4 626.0,893.5 629.1,892.7 632.2,893.6 635.3,893.1 638.4,889.0 641.5,883.0 644.6,882.6 647.7,877.5 650.8,868.8 653.9,857.7 657.0,842.2 660.1,822.2 663.2,798.2 666.3,768.9 669.4,738.5 672.5,728.8 675.6,732.6 678.7,761.3 681.8,791.0 684.9,818.1 688.0,840.1 691.1,855.4 694.2,865.7 697.3,876.4 700.4,882.8 703.5,885.7 706.6,889.9 709.7,893.6 712.8,895.4 715.9,895.3 719.0,896.2 722.1,897.4 725.2,897.2 728.3,897.8 731.4,898.9 734.5,899.9 737.6,900.1 740.7,899.4 743.8,899.1 746.9,899.7 750.0,901.3 753.1,901.6 756.2,900.3 759.3,900.6 762.4,902.4 765.5,902.5 768.6,901.4 771.7,901.6 774.8,903.6 777.9,905.4 781.0,904.5 784.1,902.0 787.2,901.7 790.3,903.3 793.4,904.3 796.5,904.7 799.6,905.3 802.7,905.2 805.8,904.3 808.9,905.9 812.0,905.4 815.1,902.6 818.2,899.7 821.3,905.7 824.4,908.8 827.5,908.6 830.6,907.8 833.7,907.8 836.8,907.9 839.9,909.4 843.0,909.6 846.1,910.9 849.2,911.7 852.3,910.5 855.4,909.7 858.5,910.4 861.6,910.1 864.7,909.6 867.8,910.4 870.9,911.2 874.0,911.8 877.1,912.2 880.2,911.6 883.3,911.0 886.4,910.9 889.5,910.5 892.6,909.4 895.7,909.6 898.8,909.8 901.9,909.4 905.0,909.5 908.1,908.7 911.2,907.7 914.3,908.1 917.4,907.4 920.5,905.0 923.6,902.0 926.7,898.9 929.8,896.6 932.9,893.1 936.0,889.4 939.1,886.6 942.2,883.6 945.3,880.5 948.4,876.4 951.5,876.3 954.6,878.3 957.7,881.5 960.8,885.0 963.9,889.1 967.0,895.4 970.1,900.3 973.2,904.5 976.3,908.2 979.4,910.0 982.5,911.8 985.6,913.8 988.7,914.6 991.8,915.0 994.9,914.5 998.0,913.9 1001.1,914.5 1004.2,914.6 1007.3,915.1 1010.4,916.7 1013.5,917.7 1016.6,918.8 1019.7,918.7 1022.8,917.1 1025.9,916.5 1029.0,916.8 1032.1,916.8 1035.2,917.5 1038.3,917.3 1041.4,918.6 1044.5,918.9 1047.6,919.0 1050.7,919.1 1053.8,918.7 1056.9,918.4 1060.0,918.4 1063.1,918.1 1066.2,917.5 1069.3,917.0 1072.4,917.4 1075.5,918.4 1078.6,918.8 1081.7,918.7 1084.8,917.8 1087.9,917.3 1091.0,917.1 1094.1,916.0 1097.2,915.3 1100.3,916.4 1103.4,917.4 1106.5,917.0 1109.6,917.1 1112.7,917.1 1115.8,916.2 1118.9,915.5 1122.0,915.3 1125.1,915.0 1128.2,914.3 1131.3,914.6 1134.4,914.3 1137.5,912.4 1140.6,910.5 1143.7,908.2 1146.8,907.6 1149.9,905.4 1153.0,900.1 1156.1,892.5 1159.2,882.7 1162.3,874.2 1165.4,869.1 1168.5,865.1 1171.6,863.0 1174.7,866.3 1177.8,870.1 1180.9,880.5 1184.0,890.5 1187.1,898.5 1190.2,903.2 1193.3,905.5 1196.4,908.3 1199.5,911.3 1202.6,913.3 1205.7,915.0 1208.8,915.9 1211.9,916.2 1215.0,916.3 1218.1,916.2 1221.2,916.4 1224.3,916.7 1227.4,916.3 1230.5,915.7 1233.6,915.1 1236.7,914.8 1239.8,915.2 1242.9,916.2 1246.0,915.5 1249.1,914.1 1252.2,915.6 1255.3,916.9 1258.4,917.1 1261.5,916.0 1264.6,914.9 1267.7,913.6 1270.8,912.4 1273.9,912.4 1277.0,911.4 1280.1,908.9 1283.2,905.9 1286.3,901.8 1289.4,897.2 1292.5,892.1 1295.6,887.0 1298.7,881.7 1301.8,877.0 1304.9,875.5 1308.0,875.5 1311.1,876.4 1314.2,877.4 1317.3,877.2 1320.4,876.8 1323.5,877.6 1326.6,882.4 1329.7,886.7 1332.8,889.3 1335.9,889.8 1339.0,897.6 1342.1,903.6 1345.2,905.8 1348.3,908.6 1351.4,911.2 1354.5,912.1 1357.6,914.6 1360.7,915.8 1363.8,915.0 1366.9,915.9 1370.0,916.5 1373.1,917.2 1376.2,918.2 1379.3,917.8 1382.4,916.6 1385.5,916.4 1388.6,916.9 1391.7,916.8 1394.8,916.5 1397.9,915.8 1401.0,916.4 1404.1,918.2 1407.2,918.0 1410.3,917.0 1413.4,916.8 1416.5,916.5 1419.6,916.9 1422.7,917.6 1425.8,918.1 1428.9,918.9 1432.0,918.4 1435.1,915.7 1438.2,914.1 1441.3,914.5 1444.4,915.1 1447.5,915.7 1450.6,915.7 1453.7,914.4 1456.8,912.8 1459.9,913.7 1463.0,913.3 1466.1,911.7 1469.2,910.2 1472.3,907.7 1475.4,903.8 1478.5,900.7 1481.6,898.1 1484.7,895.2 1487.8,892.7 1490.9,890.9 1494.0,891.0 1497.1,893.3 1500.2,895.5 1503.3,897.7 1506.4,901.2 1509.5,903.6 1512.6,905.6 1515.7,907.9 1518.8,909.2 1521.9,910.8 1525.0,913.3 1528.1,914.1 1531.2,912.8 1534.3,912.7 1537.4,914.3 1540.5,915.9 1543.6,917.1 1546.7,917.4 1549.8,917.5 1552.9,918.3 1556.0,919.6 1559.1,920.1 1562.2,919.7 1565.3,919.1 1568.4,918.3 1571.5,918.5 1574.6,919.6 1577.7,920.5 1580.8,920.9 1583.9,921.1 1587.0,920.8 1590.1,920.3 1593.2,920.6 1596.3,921.6 1599.4,921.4 1602.5,919.9 1605.6,919.8 1608.7,920.4 1611.8,919.4 1614.9,917.1 1618.0,914.9 1621.1,913.7 1624.2,912.1 1627.3,909.9 1630.4,909.4 1633.5,910.2 1636.6,910.4 1639.7,910.4 1642.8,910.9 1645.9,911.9 1649.0,911.7 1652.1,910.3 1655.2,909.9 1658.3,910.1 1661.4,910.6 1664.5,911.1 1667.6,911.3 1670.7,912.8 1673.8,915.1 1676.9,917.5 1680.0,919.3 1683.1,919.9 1686.2,920.3 1689.3,920.3 1692.4,920.0 1695.5,920.9 1698.6,921.9 1701.7,922.6 1704.8,922.5 1707.9,921.9 1711.0,921.8 1714.1,922.4 1717.2,922.0 1720.3,920.4 1723.4,919.6 1726.5,918.9 1729.6,917.8 1732.7,917.8 1735.8,916.7 1738.9,917.6 1742.0,916.7 1745.1,915.6 1748.2,915.2 1751.3,913.6 1754.4,911.0 1757.5,908.8 1760.6,907.4 1763.7,906.1 1766.8,905.0 1769.9,905.8 1773.0,907.8 1776.1,909.4 1779.2,911.3 1782.3,913.0 1785.4,914.2 1788.5,915.7 1791.6,916.7 1794.7,916.7 1797.8,916.8 1800.9,917.3 1804.0,918.5 1807.1,919.5 1810.2,920.1 1813.3,919.9 1816.4,919.3 1819.5,920.4 1822.6,921.2 1825.7,921.7 1828.8,923.1 1831.9,923.4 1835.0,923.0 1838.1,923.3 1841.2,923.5 1844.3,923.9 1847.4,925.0 1850.5,925.7 1853.6,926.1 1856.7,926.0 1859.8,924.7 1862.9,923.4 1866.0,923.9 1869.1,925.0 1872.2,925.2 1875.3,925.2 1878.4,924.8 1881.5,924.8 1884.6,925.9 1887.7,926.8 1890.8,925.9 1893.9,924.5 1897.0,923.7 1900.1,923.3 1903.2,923.4 1906.3,923.2 1909.4,921.9 1912.5,919.5 1915.6,917.3 1918.7,916.4 1921.8,915.6 1924.9,913.2 1928.0,910.0 1931.1,910.9 1934.2,910.6 1937.3,910.5 1940.4,912.7 1943.5,914.6 1946.6,914.8 1949.7,914.8 1952.8,917.4 1955.9,920.4 1959.0,921.5 1962.1,922.4 1965.2,923.9 1968.3,924.6 1971.4,924.5 1974.5,925.0 1977.6,926.2 1980.7,927.1 1983.8,927.4 1986.9,926.7 1990.0,925.7 1993.1,925.2 1996.2,925.1 1999.3,925.8 2002.4,925.5 2005.5,925.1 2008.6,925.8 2011.7,926.5 2014.8,927.0 2017.9,925.8 2021.0,924.6 2024.1,926.5 2027.2,927.3 2030.3,926.8 2033.4,926.5 2036.5,926.9 2039.6,926.2 2042.7,925.0 2045.8,925.7 2048.9,926.8 2052.0,927.9 2055.1,928.8 2058.2,928.6 2061.3,928.0 2064.4,927.6 2067.5,927.3 2070.6,927.1 2073.7,927.0 2076.8,927.4 2079.9,927.2 2083.0,927.3 2086.1,928.1 2090.5,928.0 2090.5,935.3 2086.1,937.6 2083.0,938.2 2079.9,938.1 2076.8,938.0 2073.7,938.2 2070.6,938.0 2067.5,937.3 2064.4,936.6 2061.3,936.5 2058.2,937.5 2055.1,937.8 2052.0,937.0 2048.9,936.4 2045.8,936.0 2042.7,935.7 2039.6,936.4 2036.5,937.4 2033.4,937.5 2030.3,937.1 2027.2,936.3 2024.1,936.9 2021.0,938.5 2017.9,936.5 2014.8,934.9 2011.7,935.4 2008.6,936.4 2005.5,936.4 2002.4,936.6 1999.3,936.8 1996.2,936.2 1993.1,935.8 1990.0,935.8 1986.9,936.2 1983.8,937.0 1980.7,937.1 1977.6,936.0 1974.5,934.7 1971.4,934.3 1968.3,934.2 1965.2,933.2 1962.1,932.5 1959.0,932.2 1955.9,930.3 1952.8,928.5 1949.7,927.3 1946.6,925.6 1943.5,923.5 1940.4,921.9 1937.3,921.4 1934.2,921.8 1931.1,922.5 1928.0,922.9 1924.9,924.1 1921.8,926.3 1918.7,927.2 1915.6,928.3 1912.5,931.5 1909.4,934.0 1906.3,934.5 1903.2,934.4 1900.1,934.2 1897.0,934.1 1893.9,934.6 1890.8,935.3 1887.7,935.5 1884.6,934.8 1881.5,933.7 1878.4,934.1 1875.3,935.1 1872.2,935.3 1869.1,935.7 1866.0,935.9 1862.9,935.2 1859.8,934.7 1856.7,935.1 1853.6,935.2 1850.5,935.4 1847.4,934.9 1844.3,933.5 1841.2,933.5 1838.1,934.0 1835.0,933.6 1831.9,933.3 1828.8,933.7 1825.7,933.5 1822.6,932.1 1819.5,931.4 1816.4,930.9 1813.3,929.9 1810.2,929.0 1807.1,928.0 1804.0,928.0 1800.9,929.4 1797.8,927.7 1794.7,927.0 1791.6,926.3 1788.5,925.0 1785.4,924.4 1782.3,923.5 1779.2,921.1 1776.1,918.8 1773.0,917.1 1769.9,916.1 1766.8,916.1 1763.7,916.1 1760.6,917.6 1757.5,921.1 1754.4,924.0 1751.3,925.2 1748.2,925.9 1745.1,927.4 1742.0,928.5 1738.9,929.2 1735.8,930.4 1732.7,930.3 1729.6,929.4 1726.5,929.9 1723.4,930.4 1720.3,931.2 1717.2,933.0 1714.1,933.5 1711.0,933.1 1707.9,933.4 1704.8,933.5 1701.7,932.2 1698.6,930.2 1695.5,929.8 1692.4,930.9 1689.3,930.9 1686.2,930.3 1683.1,929.9 1680.0,928.8 1676.9,927.0 1673.8,925.0 1670.7,923.2 1667.6,921.7 1664.5,920.6 1661.4,919.7 1658.3,919.8 1655.2,920.5 1652.1,920.7 1649.0,921.0 1645.9,921.2 1642.8,920.8 1639.7,920.5 1636.6,920.3 1633.5,919.4 1630.4,919.4 1627.3,921.3 1624.2,923.2 1621.1,925.5 1618.0,927.3 1614.9,927.8 1611.8,929.0 1608.7,930.7 1605.6,930.8 1602.5,930.2 1599.4,930.4 1596.3,931.1 1593.2,931.6 1590.1,932.7 1587.0,932.8 1583.9,931.7 1580.8,932.4 1577.7,934.0 1574.6,932.5 1571.5,930.1 1568.4,929.3 1565.3,929.9 1562.2,930.1 1559.1,929.4 1556.0,929.3 1552.9,929.4 1549.8,929.1 1546.7,929.2 1543.6,928.8 1540.5,927.0 1537.4,925.2 1534.3,924.8 1531.2,925.1 1528.1,924.3 1525.0,923.6 1521.9,923.0 1518.8,921.5 1515.7,920.5 1512.6,920.4 1509.5,918.7 1506.4,913.9 1503.3,909.5 1500.2,906.4 1497.1,903.3 1494.0,901.5 1490.9,902.5 1487.8,905.1 1484.7,909.0 1481.6,912.5 1478.5,914.0 1475.4,915.8 1472.3,917.6 1469.2,919.6 1466.1,922.1 1463.0,923.4 1459.9,924.2 1456.8,925.4 1453.7,926.0 1450.6,926.1 1447.5,926.4 1444.4,927.0 1441.3,927.6 1438.2,927.8 1435.1,927.9 1432.0,927.8 1428.9,927.3 1425.8,926.8 1422.7,927.3 1419.6,927.8 1416.5,927.3 1413.4,927.2 1410.3,927.3 1407.2,927.6 1404.1,928.6 1401.0,929.0 1397.9,928.7 1394.8,928.7 1391.7,929.4 1388.6,930.3 1385.5,930.4 1382.4,928.8 1379.3,927.0 1376.2,927.2 1373.1,928.3 1370.0,929.4 1366.9,928.5 1363.8,926.1 1360.7,925.2 1357.6,924.4 1354.5,923.4 1351.4,923.3 1348.3,921.4 1345.2,917.5 1342.1,913.6 1339.0,910.3 1335.9,906.4 1332.8,901.6 1329.7,897.3 1326.6,893.6 1323.5,890.5 1320.4,889.3 1317.3,890.2 1314.2,890.7 1311.1,890.1 1308.0,889.6 1304.9,889.8 1301.8,891.4 1298.7,894.1 1295.6,898.7 1292.5,904.9 1289.4,910.9 1286.3,915.1 1283.2,917.5 1280.1,919.7 1277.0,922.0 1273.9,922.9 1270.8,923.5 1267.7,924.9 1264.6,926.5 1261.5,927.6 1258.4,927.4 1255.3,926.7 1252.2,926.8 1249.1,927.2 1246.0,927.4 1242.9,928.1 1239.8,928.4 1236.7,927.4 1233.6,927.2 1230.5,928.8 1227.4,930.3 1224.3,929.6 1221.2,928.0 1218.1,928.3 1215.0,929.0 1211.9,928.5 1208.8,928.5 1205.7,928.9 1202.6,926.4 1199.5,924.7 1196.4,923.7 1193.3,920.3 1190.2,915.3 1187.1,910.3 1184.0,903.3 1180.9,893.6 1177.8,885.2 1174.7,880.0 1171.6,877.0 1168.5,877.7 1165.4,882.7 1162.3,891.0 1159.2,899.9 1156.1,906.8 1153.0,912.5 1149.9,916.7 1146.8,918.2 1143.7,919.5 1140.6,923.0 1137.5,926.8 1134.4,925.4 1131.3,924.8 1128.2,926.0 1125.1,926.8 1122.0,926.7 1118.9,926.7 1115.8,927.0 1112.7,927.1 1109.6,927.6 1106.5,928.6 1103.4,928.6 1100.3,928.8 1097.2,928.9 1094.1,928.6 1091.0,929.3 1087.9,930.4 1084.8,930.7 1081.7,930.6 1078.6,930.1 1075.5,929.3 1072.4,928.8 1069.3,929.5 1066.2,930.8 1063.1,929.4 1060.0,928.9 1056.9,930.4 1053.8,931.4 1050.7,931.7 1047.6,930.9 1044.5,929.5 1041.4,929.2 1038.3,929.4 1035.2,929.9 1032.1,931.0 1029.0,931.3 1025.9,930.0 1022.8,928.2 1019.7,928.2 1016.6,928.4 1013.5,927.9 1010.4,926.8 1007.3,926.3 1004.2,927.6 1001.1,928.2 998.0,927.4 994.9,927.2 991.8,927.6 988.7,927.2 985.6,926.2 982.5,924.6 979.4,921.5 976.3,918.3 973.2,916.2 970.1,913.2 967.0,909.0 963.9,905.0 960.8,898.6 957.7,892.5 954.6,889.4 951.5,889.2 948.4,891.7 945.3,895.9 942.2,898.9 939.1,899.9 936.0,901.6 932.9,905.3 929.8,908.2 926.7,910.2 923.6,912.5 920.5,914.7 917.4,917.1 914.3,919.8 911.2,921.3 908.1,921.0 905.0,920.7 901.9,921.8 898.8,923.3 895.7,924.3 892.6,924.6 889.5,924.8 886.4,925.7 883.3,926.1 880.2,925.0 877.1,923.6 874.0,922.9 870.9,922.9 867.8,924.1 864.7,926.1 861.6,923.9 858.5,922.9 855.4,924.0 852.3,924.6 849.2,923.6 846.1,922.4 843.0,921.4 839.9,920.6 836.8,922.3 833.7,926.0 830.6,922.9 827.5,921.5 824.4,921.6 821.3,921.5 818.2,921.3 815.1,920.6 812.0,919.7 808.9,919.0 805.8,918.2 802.7,917.9 799.6,918.7 796.5,919.8 793.4,919.0 790.3,917.2 787.2,916.9 784.1,919.7 781.0,917.9 777.9,918.1 774.8,916.7 771.7,915.9 768.6,916.9 765.5,917.4 762.4,916.4 759.3,917.2 756.2,916.8 753.1,914.3 750.0,913.1 746.9,914.0 743.8,914.0 740.7,912.2 737.6,911.8 734.5,913.1 731.4,912.8 728.3,909.7 725.2,908.0 722.1,909.2 719.0,910.1 715.9,908.8 712.8,906.6 709.7,905.4 706.6,905.4 703.5,905.1 700.4,896.9 697.3,891.5 694.2,886.4 691.1,875.6 688.0,859.8 684.9,840.7 681.8,818.8 678.7,790.7 675.6,763.6 672.5,752.4 669.4,768.7 666.3,799.5 663.2,826.5 660.1,849.6 657.0,867.5 653.9,876.8 650.8,885.3 647.7,892.4 644.6,896.2 641.5,899.5 638.4,905.4 635.3,905.7 632.2,906.6 629.1,906.9 626.0,908.9 622.9,910.0 619.8,908.7 616.7,908.4 613.6,910.0 610.5,911.6 607.4,912.3 604.3,911.1 601.2,910.5 598.1,912.9 595.0,910.0 591.9,911.3 588.8,910.8 585.7,910.4 582.6,910.5 579.5,910.2 576.4,909.6 573.3,909.8 570.2,909.8 567.1,909.9 564.0,911.9 560.9,913.7 557.8,912.3 554.7,911.6 551.6,911.5 548.5,911.6 545.4,913.0 542.3,913.9 539.2,914.0 536.1,915.1 533.0,912.4 529.9,911.4 526.8,913.2 523.7,916.5 520.6,915.3 517.5,916.1 514.4,917.4 511.3,916.6 508.2,915.9 505.1,917.3 502.0,915.6 498.9,915.6 495.8,917.6 492.7,920.2 489.6,919.0 486.5,919.1 483.4,919.0 480.3,918.4 477.2,918.7 474.1,919.0 471.0,918.7 467.9,919.0 464.8,920.8 461.7,922.2 458.6,921.4 455.5,919.9 452.4,920.4 449.3,923.2 446.2,922.2 443.1,921.0 440.0,920.0 436.9,918.9 433.8,919.2 430.7,921.7 427.6,921.2 424.5,920.0 421.4,920.4 418.3,920.8 415.2,920.4 412.1,919.9 409.0,920.9 405.9,921.5 402.8,920.2 399.7,919.5 396.6,920.4 393.5,921.3 390.4,922.7 387.3,923.2 384.2,921.9 381.1,921.1 378.0,920.9 374.9,920.9 371.8,922.0 368.7,924.3 365.6,924.5 362.5,923.7 359.4,922.2 356.3,921.7 353.2,923.3 350.1,921.8 347.0,921.4 343.9,923.2 340.8,924.5 337.7,924.1 333.0,923.8"/>
<polyline fill="none" stroke="#ff0000" stroke-width="5.4" stroke-linejoin="round" points="333,915.0 334,915.0 335,915.0 336,914.9 337,914.9 338,914.9 339,914.9 340,914.9 341,914.8 342,914.8 343,914.8 344,914.8 345,914.8 346,914.7 347,914.7 348,914.7 349,914.7 350,914.6 351,914.6 352,914.6 353,914.6 354,914.6 355,914.5 356,914.5 357,914.5 358,914.5 359,914.5 360,914.4 361,914.4 362,914.4 363,914.4 364,914.3 365,914.3 366,914.3 367,914.3 368,914.3 369,914.2 370,914.2 371,914.2 372,914.2 373,914.1 374,914.1 375,914.1 376,914.1 377,914.1 378,914.0 379,914.0 380,914.0 381,914.0 382,913.9 383,913.9 384,913.9 385,913.9 386,913.8 387,913.8 388,913.8 389,913.8 390,913.7 391,913.7 392,913.7 393,913.7 394,913.7 395,913.6 396,913.6 397,913.6 398,913.6 399,913.5 400,913.5 401,913.5 402,913.5 403,913.4 404,913.4 405,913.4 406,913.4 407,913.3 408,913.3 409,913.3 410,913.3 411,913.2 412,913.2 413,913.2 414,913.2 415,913.1 416,913.1 417,913.1 418,913.1 419,913.0 420,913.0 421,913.0 422,912.9 423,912.9 424,912.9 425,912.9 426,912.8 427,912.8 428,912.8 429,912.8 430,912.7 431,912.7 432,912.7 433,912.7 434,912.6 435,912.6 436,912.6 437,912.6 438,912.5 439,912.5 440,912.5 441,912.5 442,912.4 443,912.4 444,912.4 445,912.4 446,912.3 447,912.3 448,912.3 449,912.3 450,912.2 451,912.2 452,912.2 453,912.2 454,912.1 455,912.1 456,912.1 457,912.1 458,912.0 459,912.0 460,912.0 461,911.9 462,911.9 463,911.9 464,911.9 465,911.8 466,911.8 467,911.8 468,911.7 469,911.7 470,911.7 471,911.6 472,911.6 473,911.6 474,911.5 475,911.5 476,911.5 477,911.4 478,911.4 479,911.4 480,911.3 481,911.3 482,911.3 483,911.2 484,911.2 485,911.2 486,911.1 487,911.1 488,911.0 489,911.0 490,911.0 491,910.9 492,910.9 493,910.8 494,910.8 495,910.7 496,910.7 497,910.7 498,910.6 499,910.6 500,910.5 501,910.4 502,910.4 503,910.3 504,910.3 505,910.2 506,910.1 507,910.0 508,910.0 509,909.9 510,909.8 511,909.7 512,909.6 513,909.6 514,909.5 515,909.4 516,909.3 517,909.2 518,909.1 519,909.0 520,908.9 521,908.8 522,908.7 523,908.6 524,908.5 525,908.4 526,908.3 527,908.2 528,908.1 529,908.0 530,907.9 531,907.8 532,907.7 533,907.6 534,907.5 535,907.4 536,907.3 537,907.2 538,907.1 539,907.0 540,906.8 541,906.7 542,906.6 543,906.5 544,906.4 545,906.3 546,906.2 547,906.1 548,906.0 549,905.9 550,905.8 551,905.7 552,905.6 553,905.5 554,905.4 555,905.3 556,905.2 557,905.1 558,905.0 559,904.9 560,904.9 561,904.8 562,904.7 563,904.6 564,904.5 565,904.4 566,904.4 567,904.3 568,904.2 569,904.1 570,904.1 571,904.0 572,903.9 573,903.9 574,903.8 575,903.7 576,903.7 577,903.6 578,903.6 579,903.5 580,903.5 581,903.4 582,903.4 583,903.4 584,903.3 585,903.3 586,903.3 587,903.3 588,903.3 589,903.3 590,903.3 591,903.3 592,903.4 593,903.4 594,903.4 595,903.4 596,903.5 597,903.5 598,903.5 599,903.6 600,903.6 601,903.6 602,903.7 603,903.7 604,903.7 605,903.7 606,903.7 607,903.8 608,903.8 609,903.8 610,903.8 611,903.8 612,903.8 613,903.7 614,903.7 615,903.7 616,903.6 617,903.5 618,903.5 619,903.4 620,903.3 621,903.1 622,903.0 623,902.8 624,902.7 625,902.5 626,902.2 627,902.0 628,901.7 629,901.4 630,901.0 631,900.7 632,900.2 633,899.8 634,899.3 635,898.7 636,898.1 637,897.4 638,896.7 639,895.9 640,895.0 641,894.0 642,892.9 643,891.8 644,890.5 645,889.1 646,887.6 647,885.9 648,884.1 649,882.1 650,879.8 651,877.4 652,874.6 653,871.6 654,868.2 655,864.5 656,860.3 657,855.6 658,850.4 659,844.6 660,838.2 661,831.1 662,823.2 663,814.6 664,805.2 665,795.2 666,784.7 667,774.0 668,763.5 669,753.6 670,745.0 671,738.2 672,733.9 673,732.5 674,734.0 675,738.4 676,745.2 677,753.9 678,763.9 679,774.5 680,785.3 681,795.9 682,806.0 683,815.4 684,824.1 685,832.0 686,839.3 687,845.8 688,851.6 689,856.9 690,861.6 691,865.9 692,869.7 693,873.2 694,876.3 695,879.1 696,881.6 697,883.9 698,886.0 699,887.9 700,889.6 701,891.2 702,892.7 703,894.0 704,895.2 705,896.3 706,897.3 707,898.2 708,899.0 709,899.7 710,900.4 711,900.9 712,901.5 713,901.9 714,902.3 715,902.7 716,903.0 717,903.3 718,903.6 719,903.8 720,904.0 721,904.2 722,904.4 723,904.5 724,904.6 725,904.7 726,904.8 727,904.9 728,905.0 729,905.0 730,905.1 731,905.2 732,905.2 733,905.3 734,905.4 735,905.5 736,905.6 737,905.6 738,905.8 739,905.9 740,906.0 741,906.1 742,906.3 743,906.4 744,906.6 745,906.8 746,906.9 747,907.1 748,907.3 749,907.4 750,907.6 751,907.8 752,907.9 753,908.1 754,908.3 755,908.4 756,908.6 757,908.7 758,908.9 759,909.0 760,909.2 761,909.3 762,909.4 763,909.5 764,909.6 765,909.7 766,909.8 767,909.9 768,909.9 769,910.0 770,910.1 771,910.1 772,910.2 773,910.3 774,910.3 775,910.4 776,910.4 777,910.5 778,910.5 779,910.6 780,910.6 781,910.7 782,910.7 783,910.7 784,910.8 785,910.8 786,910.9 787,910.9 788,910.9 789,911.0 790,911.0 791,911.1 792,911.1 793,911.1 794,911.2 795,911.2 796,911.3 797,911.3 798,911.3 799,911.4 800,911.4 801,911.5 802,911.5 803,911.5 804,911.6 805,911.7 806,911.7 807,911.8 808,911.9 809,912.0 810,912.1 811,912.1 812,912.2 813,912.3 814,912.5 815,912.6 816,912.7 817,912.8 818,912.9 819,913.0 820,913.2 821,913.3 822,913.4 823,913.6 824,913.7 825,913.8 826,914.0 827,914.1 828,914.3 829,914.4 830,914.5 831,914.7 832,914.8 833,915.0 834,915.1 835,915.2 836,915.4 837,915.5 838,915.6 839,915.8 840,915.9 841,916.0 842,916.2 843,916.3 844,916.4 845,916.5 846,916.6 847,916.7 848,916.8 849,916.9 850,917.0 851,917.1 852,917.2 853,917.3 854,917.4 855,917.4 856,917.5 857,917.5 858,917.6 859,917.6 860,917.7 861,917.7 862,917.7 863,917.7 864,917.7 865,917.7 866,917.7 867,917.7 868,917.7 869,917.7 870,917.7 871,917.6 872,917.6 873,917.6 874,917.6 875,917.6 876,917.6 877,917.6 878,917.5 879,917.5 880,917.5 881,917.5 882,917.5 883,917.4 884,917.4 885,917.4 886,917.3 887,917.3 888,917.3 889,917.2 890,917.2 891,917.2 892,917.1 893,917.1 894,917.0 895,916.9 896,916.9 897,916.8 898,916.7 899,916.6 900,916.5 901,916.4 902,916.3 903,916.2 904,916.0 905,915.9 906,915.7 907,915.5 908,915.3 909,915.0 910,914.8 911,914.5 912,914.2 913,913.8 914,913.5 915,913.1 916,912.6 917,912.1 918,911.6 919,911.1 920,910.5 921,909.9 922,909.2 923,908.5 924,907.8 925,907.0 926,906.2 927,905.4 928,904.5 929,903.6 930,902.7 931,901.8 932,900.9 933,899.9 934,899.0 935,898.0 936,897.1 937,896.1 938,895.2 939,894.2 940,893.1 941,892.1 942,891.0 943,889.9 944,888.7 945,887.6 946,886.4 947,885.3 948,884.3 949,883.4 950,882.6 951,882.1 952,881.8 953,881.7 954,882.0 955,882.6 956,883.5 957,884.6 958,886.1 959,887.7 960,889.4 961,891.3 962,893.2 963,895.2 964,897.1 965,899.0 966,900.8 967,902.6 968,904.2 969,905.8 970,907.3 971,908.6 972,909.9 973,911.0 974,912.1 975,913.0 976,913.9 977,914.6 978,915.3 979,915.9 980,916.5 981,917.0 982,917.4 983,917.8 984,918.1 985,918.4 986,918.7 987,919.0 988,919.2 989,919.4 990,919.6 991,919.8 992,919.9 993,920.1 994,920.2 995,920.3 996,920.5 997,920.6 998,920.7 999,920.8 1000,920.9 1001,921.0 1002,921.1 1003,921.2 1004,921.3 1005,921.4 1006,921.5 1007,921.6 1008,921.7 1009,921.7 1010,921.8 1011,921.9 1012,922.0 1013,922.1 1014,922.2 1015,922.2 1016,922.3 1017,922.4 1018,922.5 1019,922.6 1020,922.6 1021,922.7 1022,922.8 1023,922.9 1024,922.9 1025,923.0 1026,923.1 1027,923.1 1028,923.2 1029,923.2 1030,923.3 1031,923.4 1032,923.4 1033,923.5 1034,923.5 1035,923.6 1036,923.6 1037,923.7 1038,923.7 1039,923.7 1040,923.8 1041,923.8 1042,923.8 1043,923.9 1044,923.9 1045,923.9 1046,923.9 1047,924.0 1048,924.0 1049,924.0 1050,924.0 1051,924.0 1052,924.0 1053,924.0 1054,924.0 1055,924.0 1056,924.0 1057,924.0 1058,924.0 1059,924.0 1060,924.0 1061,924.0 1062,923.9 1063,923.9 1064,923.9 1065,923.9 1066,923.9 1067,923.9 1068,923.8 1069,923.8 1070,923.8 1071,923.8 1072,923.8 1073,923.7 1074,923.7 1075,923.7 1076,923.7 1077,923.6 1078,923.6 1079,923.6 1080,923.5 1081,923.5 1082,923.5 1083,923.4 1084,923.4 1085,923.4 1086,923.3 1087,923.3 1088,923.3 1089,923.2 1090,923.2 1091,923.1 1092,923.1 1093,923.1 1094,923.0 1095,923.0 1096,922.9 1097,922.9 1098,922.8 1099,922.8 1100,922.7 1101,922.7 1102,922.6 1103,922.6 1104,922.5 1105,922.5 1106,922.4 1107,922.4 1108,922.3 1109,922.2 1110,922.2 1111,922.1 1112,922.1 1113,922.0 1114,921.9 1115,921.9 1116,921.8 1117,921.7 1118,921.6 1119,921.5 1120,921.4 1121,921.3 1122,921.2 1123,921.1 1124,921.0 1125,920.9 1126,920.8 1127,920.7 1128,920.5 1129,920.4 1130,920.2 1131,920.1 1132,919.9 1133,919.7 1134,919.5 1135,919.3 1136,919.1 1137,918.9 1138,918.6 1139,918.3 1140,917.9 1141,917.5 1142,917.1 1143,916.6 1144,916.0 1145,915.3 1146,914.6 1147,913.8 1148,912.8 1149,911.8 1150,910.6 1151,909.2 1152,907.7 1153,906.1 1154,904.3 1155,902.3 1156,900.2 1157,898.0 1158,895.6 1159,893.1 1160,890.5 1161,887.8 1162,885.1 1163,882.4 1164,879.7 1165,877.2 1166,874.9 1167,872.9 1168,871.2 1169,870.0 1170,869.2 1171,869.0 1172,869.3 1173,870.2 1174,871.5 1175,873.2 1176,875.3 1177,877.7 1178,880.3 1179,883.0 1180,885.8 1181,888.6 1182,891.4 1183,894.0 1184,896.6 1185,899.1 1186,901.4 1187,903.6 1188,905.6 1189,907.5 1190,909.2 1191,910.7 1192,912.1 1193,913.4 1194,914.5 1195,915.5 1196,916.3 1197,917.1 1198,917.8 1199,918.4 1200,918.9 1201,919.4 1202,919.8 1203,920.2 1204,920.5 1205,920.8 1206,921.0 1207,921.3 1208,921.5 1209,921.6 1210,921.8 1211,922.0 1212,922.1 1213,922.2 1214,922.3 1215,922.4 1216,922.5 1217,922.6 1218,922.7 1219,922.7 1220,922.8 1221,922.9 1222,922.9 1223,922.9 1224,923.0 1225,923.0 1226,923.0 1227,923.0 1228,923.0 1229,923.0 1230,923.0 1231,923.0 1232,923.0 1233,923.0 1234,923.0 1235,922.9 1236,922.9 1237,922.9 1238,922.8 1239,922.8 1240,922.8 1241,922.7 1242,922.7 1243,922.6 1244,922.6 1245,922.5 1246,922.4 1247,922.4 1248,922.3 1249,922.2 1250,922.2 1251,922.1 1252,922.0 1253,921.9 1254,921.9 1255,921.8 1256,921.7 1257,921.6 1258,921.5 1259,921.4 1260,921.3 1261,921.2 1262,921.1 1263,920.9 1264,920.8 1265,920.6 1266,920.5 1267,920.3 1268,920.1 1269,919.8 1270,919.6 1271,919.3 1272,918.9 1273,918.6 1274,918.2 1275,917.7 1276,917.2 1277,916.6 1278,916.0 1279,915.3 1280,914.5 1281,913.7 1282,912.7 1283,911.7 1284,910.7 1285,909.5 1286,908.3 1287,907.0 1288,905.6 1289,904.1 1290,902.6 1291,901.0 1292,899.3 1293,897.7 1294,896.0 1295,894.3 1296,892.7 1297,891.0 1298,889.5 1299,888.1 1300,886.8 1301,885.6 1302,884.6 1303,883.8 1304,883.2 1305,882.7 1306,882.4 1307,882.2 1308,882.2 1309,882.2 1310,882.4 1311,882.5 1312,882.7 1313,882.8 1314,883.0 1315,883.1 1316,883.3 1317,883.4 1318,883.6 1319,883.7 1320,883.9 1321,884.2 1322,884.6 1323,885.0 1324,885.6 1325,886.4 1326,887.3 1327,888.3 1328,889.5 1329,890.8 1330,892.2 1331,893.6 1332,895.2 1333,896.7 1334,898.3 1335,899.9 1336,901.4 1337,902.9 1338,904.4 1339,905.8 1340,907.2 1341,908.4 1342,909.7 1343,910.8 1344,911.9 1345,912.8 1346,913.8 1347,914.6 1348,915.4 1349,916.1 1350,916.7 1351,917.3 1352,917.8 1353,918.3 1354,918.8 1355,919.1 1356,919.5 1357,919.8 1358,920.1 1359,920.3 1360,920.6 1361,920.8 1362,920.9 1363,921.1 1364,921.3 1365,921.4 1366,921.5 1367,921.6 1368,921.7 1369,921.8 1370,921.9 1371,922.0 1372,922.1 1373,922.1 1374,922.2 1375,922.2 1376,922.3 1377,922.3 1378,922.4 1379,922.4 1380,922.5 1381,922.5 1382,922.6 1383,922.6 1384,922.6 1385,922.7 1386,922.7 1387,922.7 1388,922.7 1389,922.8 1390,922.8 1391,922.8 1392,922.8 1393,922.8 1394,922.8 1395,922.9 1396,922.9 1397,922.9 1398,922.9 1399,922.9 1400,922.9 1401,922.9 1402,922.9 1403,922.9 1404,922.9 1405,922.9 1406,922.9 1407,922.9 1408,922.9 1409,922.9 1410,922.8 1411,922.8 1412,922.8 1413,922.8 1414,922.7 1415,922.7 1416,922.7 1417,922.7 1418,922.6 1419,922.6 1420,922.6 1421,922.5 1422,922.5 1423,922.4 1424,922.4 1425,922.4 1426,922.3 1427,922.3 1428,922.2 1429,922.2 1430,922.1 1431,922.1 1432,922.0 1433,922.0 1434,921.9 1435,921.9 1436,921.8 1437,921.7 1438,921.7 1439,921.6 1440,921.6 1441,921.5 1442,921.4 1443,921.4 1444,921.3 1445,921.2 1446,921.1 1447,921.1 1448,921.0 1449,920.9 1450,920.8 1451,920.7 1452,920.6 1453,920.5 1454,920.3 1455,920.2 1456,920.0 1457,919.9 1458,919.7 1459,919.5 1460,919.2 1461,919.0 1462,918.7 1463,918.3 1464,918.0 1465,917.6 1466,917.1 1467,916.6 1468,916.1 1469,915.5 1470,914.8 1471,914.1 1472,913.4 1473,912.6 1474,911.7 1475,910.8 1476,909.8 1477,908.8 1478,907.7 1479,906.6 1480,905.4 1481,904.3 1482,903.1 1483,902.0 1484,900.9 1485,899.8 1486,898.8 1487,897.9 1488,897.1 1489,896.4 1490,895.9 1491,895.6 1492,895.5 1493,895.6 1494,895.8 1495,896.3 1496,896.9 1497,897.6 1498,898.5 1499,899.5 1500,900.5 1501,901.6 1502,902.7 1503,903.8 1504,904.9 1505,906.0 1506,907.1 1507,908.1 1508,909.1 1509,910.0 1510,910.9 1511,911.7 1512,912.5 1513,913.2 1514,913.9 1515,914.5 1516,915.1 1517,915.6 1518,916.0 1519,916.4 1520,916.8 1521,917.1 1522,917.4 1523,917.7 1524,917.9 1525,918.2 1526,918.4 1527,918.6 1528,918.8 1529,919.0 1530,919.2 1531,919.4 1532,919.6 1533,919.7 1534,919.9 1535,920.1 1536,920.3 1537,920.5 1538,920.7 1539,920.8 1540,921.0 1541,921.2 1542,921.4 1543,921.6 1544,921.8 1545,922.0 1546,922.2 1547,922.4 1548,922.5 1549,922.7 1550,922.9 1551,923.1 1552,923.3 1553,923.4 1554,923.6 1555,923.8 1556,923.9 1557,924.1 1558,924.2 1559,924.4 1560,924.5 1561,924.7 1562,924.8 1563,924.9 1564,925.0 1565,925.1 1566,925.2 1567,925.3 1568,925.3 1569,925.4 1570,925.5 1571,925.5 1572,925.6 1573,925.7 1574,925.7 1575,925.7 1576,925.8 1577,925.8 1578,925.8 1579,925.9 1580,925.9 1581,925.9 1582,925.9 1583,925.9 1584,925.9 1585,925.9 1586,925.9 1587,925.9 1588,925.9 1589,925.9 1590,925.9 1591,925.8 1592,925.8 1593,925.7 1594,925.7 1595,925.6 1596,925.5 1597,925.4 1598,925.3 1599,925.1 1600,925.0 1601,924.9 1602,924.9 1603,924.9 1604,925.0 1605,925.2 1606,925.3 1607,925.4 1608,925.4 1609,925.4 1610,925.2 1611,925.0 1612,924.6 1613,924.0 1614,923.3 1615,922.7 1616,922.0 1617,921.3 1618,920.6 1619,919.9 1620,919.3 1621,918.6 1622,918.0 1623,917.4 1624,916.9 1625,916.4 1626,916.0 1627,915.6 1628,915.4 1629,915.1 1630,915.0 1631,914.9 1632,914.9 1633,914.9 1634,915.0 1635,915.1 1636,915.2 1637,915.3 1638,915.4 1639,915.6 1640,915.7 1641,915.8 1642,915.9 1643,915.9 1644,916.0 1645,916.0 1646,916.0 1647,915.9 1648,915.9 1649,915.8 1650,915.7 1651,915.5 1652,915.4 1653,915.3 1654,915.2 1655,915.1 1656,915.0 1657,915.0 1658,915.0 1659,915.0 1660,915.1 1661,915.3 1662,915.5 1663,915.7 1664,916.0 1665,916.3 1666,916.7 1667,917.1 1668,917.5 1669,918.0 1670,918.4 1671,918.9 1672,919.4 1673,919.8 1674,920.3 1675,920.8 1676,921.2 1677,921.7 1678,922.1 1679,922.5 1680,922.9 1681,923.3 1682,923.7 1683,924.0 1684,924.3 1685,924.6 1686,924.9 1687,925.2 1688,925.5 1689,925.7 1690,925.9 1691,926.1 1692,926.3 1693,926.5 1694,926.6 1695,926.7 1696,926.9 1697,927.0 1698,927.1 1699,927.2 1700,927.2 1701,927.3 1702,927.4 1703,927.4 1704,927.4 1705,927.5 1706,927.5 1707,927.5 1708,927.5 1709,927.5 1710,927.4 1711,927.4 1712,927.3 1713,927.3 1714,927.2 1715,927.1 1716,927.0 1717,926.9 1718,926.7 1719,926.6 1720,926.5 1721,926.4 1722,926.2 1723,926.1 1724,925.9 1725,925.8 1726,925.6 1727,925.5 1728,925.3 1729,925.1 1730,925.0 1731,924.8 1732,924.6 1733,924.4 1734,924.3 1735,924.1 1736,923.9 1737,923.7 1738,923.5 1739,923.3 1740,923.0 1741,922.8 1742,922.5 1743,922.3 1744,921.9 1745,921.6 1746,921.2 1747,920.8 1748,920.3 1749,919.9 1750,919.3 1751,918.8 1752,918.2 1753,917.5 1754,916.9 1755,916.2 1756,915.5 1757,914.8 1758,914.1 1759,913.4 1760,912.7 1761,912.1 1762,911.5 1763,911.0 1764,910.6 1765,910.3 1766,910.1 1767,910.0 1768,910.0 1769,910.2 1770,910.5 1771,910.9 1772,911.3 1773,911.9 1774,912.5 1775,913.1 1776,913.7 1777,914.4 1778,915.1 1779,915.7 1780,916.4 1781,917.0 1782,917.6 1783,918.1 1784,918.6 1785,919.1 1786,919.6 1787,920.0 1788,920.4 1789,920.7 1790,921.0 1791,921.3 1792,921.6 1793,921.8 1794,922.0 1795,922.2 1796,922.3 1797,922.5 1798,922.6 1799,922.7 1800,922.8 1801,922.9 1802,923.0 1803,923.1 1804,923.2 1805,923.3 1806,923.5 1807,923.6 1808,923.7 1809,923.9 1810,924.0 1811,924.2 1812,924.4 1813,924.5 1814,924.7 1815,924.9 1816,925.1 1817,925.3 1818,925.5 1819,925.7 1820,925.9 1821,926.1 1822,926.3 1823,926.5 1824,926.7 1825,926.9 1826,927.1 1827,927.3 1828,927.5 1829,927.7 1830,927.9 1831,928.0 1832,928.2 1833,928.4 1834,928.6 1835,928.7 1836,928.9 1837,929.0 1838,929.1 1839,929.3 1840,929.4 1841,929.5 1842,929.6 1843,929.6 1844,929.7 1845,929.8 1846,929.8 1847,929.8 1848,929.9 1849,929.9 1850,929.9 1851,929.9 1852,930.0 1853,930.0 1854,930.0 1855,930.0 1856,930.0 1857,930.1 1858,930.1 1859,930.1 1860,930.1 1861,930.1 1862,930.1 1863,930.1 1864,930.1 1865,930.1 1866,930.2 1867,930.2 1868,930.2 1869,930.2 1870,930.2 1871,930.2 1872,930.2 1873,930.2 1874,930.2 1875,930.2 1876,930.2 1877,930.2 1878,930.2 1879,930.1 1880,930.1 1881,930.1 1882,930.1 1883,930.1 1884,930.1 1885,930.1 1886,930.0 1887,930.0 1888,930.0 1889,929.9 1890,929.9 1891,929.9 1892,929.8 1893,929.7 1894,929.7 1895,929.6 1896,929.5 1897,929.4 1898,929.3 1899,929.2 1900,929.1 1901,928.9 1902,928.8 1903,928.6 1904,928.4 1905,928.2 1906,927.9 1907,927.6 1908,927.3 1909,927.0 1910,926.7 1911,926.3 1912,925.9 1913,925.5 1914,925.1 1915,924.6 1916,924.1 1917,923.6 1918,923.0 1919,922.5 1920,921.9 1921,921.3 1922,920.7 1923,920.1 1924,919.5 1925,919.0 1926,918.4 1927,917.9 1928,917.4 1929,917.0 1930,916.7 1931,916.4 1932,916.2 1933,916.0 1934,916.0 1935,916.1 1936,916.2 1937,916.4 1938,916.7 1939,917.1 1940,917.5 1941,918.0 1942,918.6 1943,919.1 1944,919.7 1945,920.3 1946,920.9 1947,921.5 1948,922.1 1949,922.7 1950,923.3 1951,923.9 1952,924.4 1953,924.9 1954,925.4 1955,925.9 1956,926.3 1957,926.7 1958,927.1 1959,927.5 1960,927.8 1961,928.1 1962,928.4 1963,928.7 1964,928.9 1965,929.1 1966,929.3 1967,929.5 1968,929.7 1969,929.8 1970,929.9 1971,930.1 1972,930.2 1973,930.3 1974,930.4 1975,930.5 1976,930.5 1977,930.6 1978,930.7 1979,930.7 1980,930.8 1981,930.8 1982,930.9 1983,930.9 1984,931.0 1985,931.0 1986,931.0 1987,931.1 1988,931.1 1989,931.1 1990,931.2 1991,931.2 1992,931.2 1993,931.2 1994,931.3 1995,931.3 1996,931.3 1997,931.3 1998,931.3 1999,931.4 2000,931.4 2001,931.4 2002,931.4 2003,931.4 2004,931.5 2005,931.5 2006,931.5 2007,931.5 2008,931.5 2009,931.5 2010,931.5 2011,931.6 2012,931.6 2013,931.6 2014,931.6 2015,931.6 2016,931.6 2017,931.6 2018,931.6 2019,931.7 2020,931.7 2021,931.7 2022,931.7 2023,931.7 2024,931.7 2025,931.7 2026,931.7 2027,931.7 2028,931.8 2029,931.8 2030,931.8 2031,931.8 2032,931.8 2033,931.8 2034,931.8 2035,931.8 2036,931.8 2037,931.8 2038,931.8 2039,931.8 2040,931.9 2041,931.9 2042,931.9 2043,931.9 2044,931.9 2045,931.9 2046,931.9 2047,931.9 2048,931.9 2049,931.9 2050,931.9 2051,931.9 2052,931.9 2053,931.9 2054,931.9 2055,932.0 2056,932.0 2057,932.0 2058,932.0 2059,932.0 2060,932.0 2061,932.0 2062,932.0 2063,932.0 2064,932.0 2065,932.0 2066,932.0 2067,932.0 2068,932.0 2069,932.0 2070,932.0 2071,932.0 2072,932.0 2073,932.0 2074,932.0 2075,932.0 2076,932.1 2077,932.1 2078,932.1 2079,932.1 2080,932.1 2081,932.1 2082,932.1 2083,932.1 2084,932.1 2085,932.1 2086,932.1 2087,932.1 2088,932.1 2089,932.1 2090,932.1"/>
<polygon fill="#0000ff" points="333.0,1384.9 337.7,1384.7 340.8,1383.7 343.9,1383.8 347.0,1383.9 350.1,1382.8 353.2,1382.9 356.3,1385.4 359.4,1387.8 362.5,1387.9 365.6,1386.2 368.7,1385.3 371.8,1384.8 374.9,1384.3 378.0,1385.5 381.1,1385.4 384.2,1385.5 387.3,1386.3 390.4,1387.1 393.5,1386.4 396.6,1384.5 399.7,1384.1 402.8,1384.7 405.9,1383.3 409.0,1381.9 412.1,1385.5 415.2,1386.0 418.3,1384.1 421.4,1382.9 424.5,1384.7 427.6,1386.6 430.7,1385.8 433.8,1381.7 436.9,1383.6 440.0,1384.0 443.1,1384.4 446.2,1385.9 449.3,1385.2 452.4,1383.5 455.5,1382.6 458.6,1381.2 461.7,1382.7 464.8,1383.4 467.9,1383.4 471.0,1381.4 474.1,1378.7 477.2,1380.2 480.3,1380.6 483.4,1379.6 486.5,1379.2 489.6,1380.0 492.7,1378.8 495.8,1374.7 498.9,1376.3 502.0,1377.5 505.1,1377.0 508.2,1375.8 511.3,1375.3 514.4,1375.3 517.5,1373.8 520.6,1372.0 523.7,1372.5 526.8,1373.4 529.9,1372.5 533.0,1371.5 536.1,1370.7 539.2,1369.9 542.3,1370.2 545.4,1370.0 548.5,1368.8 551.6,1367.1 554.7,1364.2 557.8,1366.5 560.9,1366.4 564.0,1365.6 567.1,1365.6 570.2,1364.8 573.3,1364.8 576.4,1364.5 579.5,1361.9 582.6,1360.2 585.7,1361.7 588.8,1362.2 591.9,1363.2 595.0,1363.6 598.1,1362.8 601.2,1361.4 604.3,1360.7 607.4,1361.6 610.5,1360.7 613.6,1359.8 616.7,1360.5 619.8,1359.7 622.9,1358.3 626.0,1358.0 629.1,1358.8 632.2,1358.1 635.3,1356.7 638.4,1356.5 641.5,1356.1 644.6,1353.3 647.7,1348.2 650.8,1342.0 653.9,1333.4 657.0,1313.8 660.1,1271.7 663.2,1192.9 666.3,1068.9 669.4,918.7 672.5,900.8 675.6,970.6 678.7,1118.4 681.8,1224.5 684.9,1284.8 688.0,1316.1 691.1,1333.5 694.2,1344.6 697.3,1351.3 700.4,1356.1 703.5,1359.9 706.6,1363.3 709.7,1367.1 712.8,1369.7 715.9,1372.2 719.0,1375.7 722.1,1377.7 725.2,1379.0 728.3,1381.3 731.4,1382.3 734.5,1381.8 737.6,1381.2 740.7,1380.9 743.8,1382.6 746.9,1384.6 750.0,1384.3 753.1,1383.7 756.2,1384.6 759.3,1385.3 762.4,1384.3 765.5,1382.3 768.6,1383.9 771.7,1384.1 774.8,1383.9 777.9,1385.0 781.0,1386.7 784.1,1388.0 787.2,1388.6 790.3,1388.8 793.4,1388.2 796.5,1388.0 799.6,1389.7 802.7,1391.5 805.8,1392.1 808.9,1391.7 812.0,1391.1 815.1,1391.5 818.2,1392.7 821.3,1393.7 824.4,1393.8 827.5,1393.8 830.6,1394.5 833.7,1394.5 836.8,1394.0 839.9,1394.4 843.0,1394.7 846.1,1394.4 849.2,1394.8 852.3,1396.0 855.4,1395.9 858.5,1394.2 861.6,1393.0 864.7,1395.1 867.8,1395.4 870.9,1395.3 874.0,1396.2 877.1,1396.7 880.2,1396.5 883.3,1396.0 886.4,1396.0 889.5,1396.1 892.6,1396.5 895.7,1396.4 898.8,1395.2 901.9,1394.6 905.0,1394.7 908.1,1394.6 911.2,1394.6 914.3,1394.5 917.4,1391.2 920.5,1385.3 923.6,1381.9 926.7,1378.3 929.8,1372.6 932.9,1366.3 936.0,1358.8 939.1,1341.9 942.2,1312.6 945.3,1301.7 948.4,1306.2 951.5,1337.6 954.6,1354.6 957.7,1362.4 960.8,1372.2 963.9,1384.1 967.0,1391.1 970.1,1394.1 973.2,1395.9 976.3,1396.8 979.4,1397.1 982.5,1397.0 985.6,1397.1 988.7,1397.3 991.8,1398.7 994.9,1400.0 998.0,1399.4 1001.1,1399.4 1004.2,1400.2 1007.3,1399.8 1010.4,1399.7 1013.5,1400.1 1016.6,1400.3 1019.7,1400.9 1022.8,1401.7 1025.9,1401.8 1029.0,1401.3 1032.1,1401.1 1035.2,1401.3 1038.3,1402.0 1041.4,1402.3 1044.5,1402.1 1047.6,1402.9 1050.7,1403.6 1053.8,1402.8 1056.9,1402.0 1060.0,1402.5 1063.1,1402.5 1066.2,1403.2 1069.3,1404.3 1072.4,1404.0 1075.5,1403.4 1078.6,1403.6 1081.7,1404.0 1084.8,1404.1 1087.9,1403.7 1091.0,1403.4 1094.1,1403.3 1097.2,1403.5 1100.3,1404.1 1103.4,1404.4 1106.5,1404.3 1109.6,1403.9 1112.7,1402.8 1115.8,1402.7 1118.9,1403.2 1122.0,1402.5 1125.1,1402.1 1128.2,1402.1 1131.3,1402.2 1134.4,1402.8 1137.5,1402.2 1140.6,1401.3 1143.7,1400.7 1146.8,1399.5 1149.9,1397.3 1153.0,1394.3 1156.1,1390.2 1159.2,1379.3 1162.3,1356.6 1165.4,1322.5 1168.5,1282.9 1171.6,1263.2 1174.7,1263.4 1177.8,1298.9 1180.9,1336.5 1184.0,1366.2 1187.1,1383.3 1190.2,1392.3 1193.3,1396.7 1196.4,1398.8 1199.5,1400.3 1202.6,1400.6 1205.7,1400.7 1208.8,1402.5 1211.9,1403.6 1215.0,1403.7 1218.1,1403.6 1221.2,1402.9 1224.3,1403.4 1227.4,1404.5 1230.5,1404.7 1233.6,1404.7 1236.7,1405.3 1239.8,1405.2 1242.9,1405.1 1246.0,1405.8 1249.1,1405.2 1252.2,1403.7 1255.3,1403.3 1258.4,1403.3 1261.5,1403.4 1264.6,1403.7 1267.7,1403.1 1270.8,1402.1 1273.9,1401.6 1277.0,1401.4 1280.1,1400.6 1283.2,1397.0 1286.3,1389.0 1289.4,1376.4 1292.5,1358.1 1295.6,1336.1 1298.7,1323.4 1301.8,1316.7 1304.9,1329.5 1308.0,1345.5 1311.1,1358.8 1314.2,1362.1 1317.3,1352.4 1320.4,1336.0 1323.5,1320.4 1326.6,1314.4 1329.7,1325.3 1332.8,1346.6 1335.9,1366.4 1339.0,1381.8 1342.1,1391.7 1345.2,1396.9 1348.3,1399.1 1351.4,1399.9 1354.5,1401.3 1357.6,1402.4 1360.7,1402.4 1363.8,1402.4 1366.9,1402.4 1370.0,1401.7 1373.1,1401.8 1376.2,1403.4 1379.3,1404.8 1382.4,1405.4 1385.5,1405.0 1388.6,1404.7 1391.7,1405.5 1394.8,1406.4 1397.9,1406.6 1401.0,1406.7 1404.1,1405.9 1407.2,1405.5 1410.3,1406.2 1413.4,1406.3 1416.5,1405.8 1419.6,1405.4 1422.7,1405.1 1425.8,1405.5 1428.9,1405.7 1432.0,1405.2 1435.1,1404.3 1438.2,1402.6 1441.3,1401.9 1444.4,1402.8 1447.5,1402.9 1450.6,1402.4 1453.7,1401.8 1456.8,1400.7 1459.9,1399.6 1463.0,1399.0 1466.1,1398.4 1469.2,1398.3 1472.3,1397.6 1475.4,1394.6 1478.5,1388.2 1481.6,1378.7 1484.7,1366.2 1487.8,1352.5 1490.9,1342.5 1494.0,1343.3 1497.1,1355.2 1500.2,1369.3 1503.3,1384.2 1506.4,1393.2 1509.5,1396.4 1512.6,1398.7 1515.7,1400.5 1518.8,1400.9 1521.9,1400.9 1525.0,1401.8 1528.1,1402.9 1531.2,1402.7 1534.3,1402.7 1537.4,1403.5 1540.5,1404.0 1543.6,1404.1 1546.7,1404.3 1549.8,1404.5 1552.9,1404.1 1556.0,1403.6 1559.1,1404.0 1562.2,1404.6 1565.3,1405.7 1568.4,1406.9 1571.5,1407.3 1574.6,1407.8 1577.7,1408.1 1580.8,1408.1 1583.9,1407.9 1587.0,1407.0 1590.1,1406.8 1593.2,1406.9 1596.3,1407.1 1599.4,1407.7 1602.5,1407.7 1605.6,1406.2 1608.7,1404.1 1611.8,1401.1 1614.9,1395.1 1618.0,1386.4 1621.1,1378.1 1624.2,1375.5 1627.3,1376.7 1630.4,1381.0 1633.5,1387.1 1636.6,1392.7 1639.7,1396.8 1642.8,1398.4 1645.9,1395.9 1649.0,1390.3 1652.1,1383.5 1655.2,1376.7 1658.3,1373.4 1661.4,1375.7 1664.5,1382.2 1667.6,1389.8 1670.7,1394.6 1673.8,1397.6 1676.9,1400.3 1680.0,1402.2 1683.1,1403.1 1686.2,1403.8 1689.3,1403.9 1692.4,1403.4 1695.5,1403.9 1698.6,1403.5 1701.7,1402.6 1704.8,1404.3 1707.9,1405.1 1711.0,1404.9 1714.1,1405.3 1717.2,1405.3 1720.3,1405.2 1723.4,1405.2 1726.5,1405.2 1729.6,1405.1 1732.7,1405.1 1735.8,1405.0 1738.9,1404.6 1742.0,1403.4 1745.1,1401.9 1748.2,1400.8 1751.3,1398.1 1754.4,1392.0 1757.5,1381.6 1760.6,1367.8 1763.7,1362.0 1766.8,1364.5 1769.9,1372.2 1773.0,1381.1 1776.1,1387.3 1779.2,1389.1 1782.3,1389.3 1785.4,1390.1 1788.5,1390.7 1791.6,1392.4 1794.7,1395.8 1797.8,1398.8 1800.9,1400.1 1804.0,1401.1 1807.1,1402.9 1810.2,1404.7 1813.3,1405.8 1816.4,1405.5 1819.5,1405.2 1822.6,1406.1 1825.7,1407.0 1828.8,1407.3 1831.9,1407.3 1835.0,1407.2 1838.1,1406.9 1841.2,1407.8 1844.3,1408.4 1847.4,1406.8 1850.5,1405.3 1853.6,1406.2 1856.7,1407.4 1859.8,1407.4 1862.9,1407.0 1866.0,1406.7 1869.1,1407.2 1872.2,1407.9 1875.3,1407.4 1878.4,1406.9 1881.5,1406.5 1884.6,1405.8 1887.7,1405.7 1890.8,1406.1 1893.9,1406.3 1897.0,1406.4 1900.1,1406.5 1903.2,1406.0 1906.3,1405.9 1909.4,1405.8 1912.5,1404.8 1915.6,1403.3 1918.7,1400.9 1921.8,1396.9 1924.9,1390.9 1928.0,1383.5 1931.1,1377.8 1934.2,1377.0 1937.3,1380.7 1940.4,1387.0 1943.5,1393.6 1946.6,1398.8 1949.7,1403.1 1952.8,1405.5 1955.9,1405.9 1959.0,1405.7 1962.1,1406.3 1965.2,1407.2 1968.3,1407.1 1971.4,1406.9 1974.5,1407.4 1977.6,1407.2 1980.7,1407.8 1983.8,1409.0 1986.9,1409.3 1990.0,1409.1 1993.1,1408.0 1996.2,1406.7 1999.3,1407.3 2002.4,1408.4 2005.5,1408.3 2008.6,1407.7 2011.7,1408.5 2014.8,1408.9 2017.9,1408.1 2021.0,1407.9 2024.1,1408.2 2027.2,1408.2 2030.3,1407.7 2033.4,1407.6 2036.5,1408.2 2039.6,1408.7 2042.7,1409.2 2045.8,1409.2 2048.9,1408.8 2052.0,1408.9 2055.1,1409.2 2058.2,1409.4 2061.3,1410.0 2064.4,1409.9 2067.5,1409.5 2070.6,1408.9 2073.7,1408.3 2076.8,1408.6 2079.9,1408.9 2083.0,1409.3 2086.1,1410.0 2090.5,1409.9 2090.5,1421.5 2086.1,1419.6 2083.0,1418.8 2079.9,1418.9 2076.8,1418.8 2073.7,1418.1 2070.6,1417.8 2067.5,1419.1 2064.4,1419.8 2061.3,1419.1 2058.2,1418.7 2055.1,1418.3 2052.0,1418.6 2048.9,1419.4 2045.8,1419.0 2042.7,1418.0 2039.6,1418.2 2036.5,1419.3 2033.4,1419.0 2030.3,1418.0 2027.2,1417.7 2024.1,1418.0 2021.0,1418.8 2017.9,1419.3 2014.8,1418.9 2011.7,1418.2 2008.6,1417.6 2005.5,1417.6 2002.4,1417.5 1999.3,1417.8 1996.2,1418.6 1993.1,1417.7 1990.0,1417.2 1986.9,1417.6 1983.8,1417.6 1980.7,1416.5 1977.6,1416.0 1974.5,1416.2 1971.4,1416.1 1968.3,1416.2 1965.2,1416.5 1962.1,1416.1 1959.0,1415.7 1955.9,1415.6 1952.8,1414.4 1949.7,1411.8 1946.6,1409.0 1943.5,1404.9 1940.4,1399.9 1937.3,1394.5 1934.2,1389.3 1931.1,1389.1 1928.0,1394.7 1924.9,1402.0 1921.8,1407.9 1918.7,1411.2 1915.6,1413.2 1912.5,1414.1 1909.4,1414.1 1906.3,1414.2 1903.2,1414.8 1900.1,1415.7 1897.0,1415.4 1893.9,1414.9 1890.8,1415.4 1887.7,1415.5 1884.6,1415.8 1881.5,1416.2 1878.4,1416.3 1875.3,1416.8 1872.2,1417.5 1869.1,1417.1 1866.0,1416.8 1862.9,1417.2 1859.8,1417.5 1856.7,1417.2 1853.6,1416.6 1850.5,1416.6 1847.4,1417.1 1844.3,1417.4 1841.2,1417.9 1838.1,1418.6 1835.0,1418.6 1831.9,1417.5 1828.8,1416.4 1825.7,1416.2 1822.6,1416.8 1819.5,1417.4 1816.4,1416.7 1813.3,1415.2 1810.2,1414.0 1807.1,1413.3 1804.0,1413.3 1800.9,1411.6 1797.8,1408.5 1794.7,1405.9 1791.6,1403.0 1788.5,1399.9 1785.4,1398.9 1782.3,1399.6 1779.2,1400.1 1776.1,1399.4 1773.0,1395.4 1769.9,1385.6 1766.8,1377.0 1763.7,1376.5 1760.6,1385.8 1757.5,1397.5 1754.4,1406.7 1751.3,1412.0 1748.2,1412.9 1745.1,1412.8 1742.0,1413.4 1738.9,1414.1 1735.8,1414.3 1732.7,1414.4 1729.6,1414.9 1726.5,1414.6 1723.4,1414.3 1720.3,1414.5 1717.2,1414.5 1714.1,1414.6 1711.0,1413.9 1707.9,1413.2 1704.8,1413.6 1701.7,1413.8 1698.6,1414.1 1695.5,1414.0 1692.4,1413.2 1689.3,1413.2 1686.2,1413.1 1683.1,1412.3 1680.0,1411.8 1676.9,1411.1 1673.8,1408.8 1670.7,1405.8 1667.6,1402.1 1664.5,1395.7 1661.4,1387.8 1658.3,1385.0 1655.2,1389.5 1652.1,1396.2 1649.0,1401.7 1645.9,1405.6 1642.8,1407.5 1639.7,1407.6 1636.6,1405.5 1633.5,1400.5 1630.4,1393.2 1627.3,1386.9 1624.2,1386.0 1621.1,1391.9 1618.0,1400.3 1614.9,1406.5 1611.8,1410.5 1608.7,1413.9 1605.6,1416.0 1602.5,1416.4 1599.4,1417.1 1596.3,1417.5 1593.2,1417.8 1590.1,1417.9 1587.0,1417.7 1583.9,1418.0 1580.8,1418.3 1577.7,1417.8 1574.6,1416.9 1571.5,1416.2 1568.4,1415.6 1565.3,1414.7 1562.2,1414.0 1559.1,1414.4 1556.0,1414.9 1552.9,1414.3 1549.8,1413.3 1546.7,1413.5 1543.6,1414.2 1540.5,1414.4 1537.4,1414.2 1534.3,1413.6 1531.2,1413.4 1528.1,1412.8 1525.0,1411.2 1521.9,1409.6 1518.8,1409.4 1515.7,1409.4 1512.6,1408.0 1509.5,1406.9 1506.4,1405.8 1503.3,1397.5 1500.2,1387.1 1497.1,1374.3 1494.0,1361.2 1490.9,1357.5 1487.8,1367.6 1484.7,1382.2 1481.6,1392.9 1478.5,1400.0 1475.4,1404.1 1472.3,1406.7 1469.2,1409.2 1466.1,1411.0 1463.0,1410.3 1459.9,1410.3 1456.8,1410.6 1453.7,1411.0 1450.6,1412.1 1447.5,1413.4 1444.4,1415.1 1441.3,1416.3 1438.2,1415.9 1435.1,1415.2 1432.0,1415.7 1428.9,1417.3 1425.8,1415.1 1422.7,1413.6 1419.6,1414.6 1416.5,1415.6 1413.4,1415.3 1410.3,1415.0 1407.2,1415.4 1404.1,1416.1 1401.0,1416.7 1397.9,1416.9 1394.8,1416.3 1391.7,1415.9 1388.6,1416.0 1385.5,1415.5 1382.4,1414.9 1379.3,1414.7 1376.2,1414.0 1373.1,1412.9 1370.0,1413.2 1366.9,1414.1 1363.8,1414.1 1360.7,1414.0 1357.6,1413.2 1354.5,1411.6 1351.4,1409.9 1348.3,1408.4 1345.2,1407.2 1342.1,1404.3 1339.0,1397.3 1335.9,1386.3 1332.8,1370.6 1329.7,1349.9 1326.6,1335.0 1323.5,1339.7 1320.4,1356.3 1317.3,1371.7 1314.2,1376.1 1311.1,1374.5 1308.0,1363.4 1304.9,1348.6 1301.8,1336.9 1298.7,1341.1 1295.6,1360.4 1292.5,1380.2 1289.4,1396.5 1286.3,1403.0 1283.2,1407.3 1280.1,1410.9 1277.0,1412.3 1273.9,1413.1 1270.8,1414.3 1267.7,1414.5 1264.6,1414.2 1261.5,1414.3 1258.4,1414.5 1255.3,1414.2 1252.2,1413.7 1249.1,1414.4 1246.0,1416.2 1242.9,1417.0 1239.8,1416.7 1236.7,1415.8 1233.6,1414.5 1230.5,1413.7 1227.4,1413.3 1224.3,1413.7 1221.2,1414.4 1218.1,1414.1 1215.0,1413.8 1211.9,1413.8 1208.8,1413.8 1205.7,1413.1 1202.6,1412.1 1199.5,1411.7 1196.4,1409.3 1193.3,1407.8 1190.2,1405.2 1187.1,1399.5 1184.0,1390.9 1180.9,1372.5 1177.8,1339.9 1174.7,1302.5 1171.6,1293.6 1168.5,1319.5 1165.4,1357.4 1162.3,1383.4 1159.2,1398.2 1156.1,1402.0 1153.0,1404.9 1149.9,1407.7 1146.8,1410.0 1143.7,1411.0 1140.6,1411.7 1137.5,1412.4 1134.4,1412.5 1131.3,1412.4 1128.2,1412.4 1125.1,1412.9 1122.0,1413.6 1118.9,1413.7 1115.8,1413.7 1112.7,1414.2 1109.6,1413.7 1106.5,1413.0 1103.4,1414.1 1100.3,1414.2 1097.2,1413.0 1094.1,1412.8 1091.0,1413.1 1087.9,1413.7 1084.8,1414.8 1081.7,1414.4 1078.6,1413.3 1075.5,1412.8 1072.4,1412.7 1069.3,1413.4 1066.2,1414.0 1063.1,1414.7 1060.0,1415.4 1056.9,1414.7 1053.8,1412.8 1050.7,1412.1 1047.6,1412.4 1044.5,1412.3 1041.4,1412.0 1038.3,1411.3 1035.2,1411.2 1032.1,1412.1 1029.0,1412.4 1025.9,1411.4 1022.8,1410.6 1019.7,1410.8 1016.6,1411.4 1013.5,1412.3 1010.4,1413.1 1007.3,1412.7 1004.2,1411.6 1001.1,1411.1 998.0,1410.5 994.9,1410.0 991.8,1410.0 988.7,1409.5 985.6,1409.3 982.5,1409.4 979.4,1408.4 976.3,1407.1 973.2,1406.2 970.1,1405.3 967.0,1404.1 963.9,1398.3 960.8,1390.9 957.7,1376.7 954.6,1368.0 951.5,1362.6 948.4,1340.4 945.3,1328.8 942.2,1345.5 939.1,1362.9 936.0,1374.5 932.9,1381.1 929.8,1384.9 926.7,1389.3 923.6,1395.0 920.5,1399.8 917.4,1402.8 914.3,1404.1 911.2,1405.0 908.1,1405.8 905.0,1406.6 901.9,1406.9 898.8,1405.3 895.7,1404.7 892.6,1405.4 889.5,1406.0 886.4,1406.0 883.3,1406.0 880.2,1406.1 877.1,1405.5 874.0,1405.0 870.9,1405.7 867.8,1406.5 864.7,1406.2 861.6,1406.0 858.5,1406.5 855.4,1407.0 852.3,1406.1 849.2,1404.8 846.1,1405.2 843.0,1406.1 839.9,1405.9 836.8,1405.2 833.7,1405.5 830.6,1406.2 827.5,1405.9 824.4,1404.8 821.3,1403.1 818.2,1402.5 815.1,1403.5 812.0,1403.5 808.9,1403.0 805.8,1404.0 802.7,1403.4 799.6,1400.8 796.5,1399.6 793.4,1399.8 790.3,1399.3 787.2,1398.8 784.1,1398.6 781.0,1398.2 777.9,1397.8 774.8,1396.9 771.7,1395.7 768.6,1395.2 765.5,1395.3 762.4,1395.3 759.3,1395.1 756.2,1395.3 753.1,1395.1 750.0,1395.2 746.9,1396.0 743.8,1396.0 740.7,1395.8 737.6,1395.3 734.5,1394.4 731.4,1394.0 728.3,1393.4 725.2,1391.8 722.1,1390.1 719.0,1389.5 715.9,1389.8 712.8,1385.1 709.7,1379.3 706.6,1376.9 703.5,1374.7 700.4,1367.7 697.3,1361.5 694.2,1356.6 691.1,1352.8 688.0,1341.8 684.9,1329.5 681.8,1290.2 678.7,1228.4 675.6,1119.3 672.5,1020.5 669.4,1062.2 666.3,1194.4 663.2,1270.7 660.1,1315.5 657.0,1336.7 653.9,1351.3 650.8,1358.0 647.7,1362.5 644.6,1366.6 641.5,1368.9 638.4,1369.1 635.3,1369.4 632.2,1370.7 629.1,1371.8 626.0,1372.4 622.9,1372.9 619.8,1373.7 616.7,1375.6 613.6,1377.2 610.5,1376.8 607.4,1376.9 604.3,1377.3 601.2,1377.1 598.1,1376.9 595.0,1376.2 591.9,1375.4 588.8,1375.8 585.7,1377.2 582.6,1377.4 579.5,1377.4 576.4,1378.9 573.3,1379.6 570.2,1379.5 567.1,1379.0 564.0,1379.1 560.9,1381.2 557.8,1380.9 554.7,1379.5 551.6,1380.7 548.5,1382.7 545.4,1382.0 542.3,1383.1 539.2,1384.7 536.1,1384.4 533.0,1383.3 529.9,1384.8 526.8,1386.6 523.7,1386.6 520.6,1386.8 517.5,1387.3 514.4,1388.1 511.3,1389.4 508.2,1390.2 505.1,1390.6 502.0,1390.8 498.9,1390.8 495.8,1390.9 492.7,1390.4 489.6,1389.7 486.5,1390.8 483.4,1393.7 480.3,1395.0 477.2,1395.1 474.1,1396.8 471.0,1396.0 467.9,1397.8 464.8,1397.0 461.7,1395.8 458.6,1395.8 455.5,1397.5 452.4,1398.6 449.3,1398.4 446.2,1397.7 443.1,1397.5 440.0,1397.7 436.9,1397.6 433.8,1399.4 430.7,1403.3 427.6,1400.9 424.5,1400.3 421.4,1400.9 418.3,1402.4 415.2,1404.0 412.1,1403.1 409.0,1401.7 405.9,1401.3 402.8,1400.8 399.7,1401.5 396.6,1402.7 393.5,1402.0 390.4,1401.1 387.3,1401.9 384.2,1401.6 381.1,1402.4 378.0,1402.2 374.9,1399.7 371.8,1400.0 368.7,1400.4 365.6,1400.4 362.5,1402.6 359.4,1405.3 356.3,1402.2 353.2,1399.6 350.1,1399.8 347.0,1398.4 343.9,1398.6 340.8,1400.2 337.7,1402.2 333.0,1401.4"/>
<polyline fill="none" stroke="#0000ff" stroke-width="5.4" stroke-linejoin="round" points="333,1393.6 334,1393.6 335,1393.6 336,1393.6 337,1393.6 338,1393.6 339,1393.6 340,1393.6 341,1393.6 342,1393.6 343,1393.6 344,1393.6 345,1393.6 346,1393.6 347,1393.5 348,1393.5 349,1393.5 350,1393.5 351,1393.5 352,1393.5 353,1393.5 354,1393.5 355,1393.5 356,1393.5 357,1393.5 358,1393.5 359,1393.4 360,1393.4 361,1393.4 362,1393.4 363,1393.4 364,1393.4 365,1393.4 366,1393.4 367,1393.3 368,1393.3 369,1393.3 370,1393.3 371,1393.3 372,1393.3 373,1393.2 374,1393.2 375,1393.2 376,1393.2 377,1393.2 378,1393.2 379,1393.1 380,1393.1 381,1393.1 382,1393.1 383,1393.1 384,1393.0 385,1393.0 386,1393.0 387,1393.0 388,1393.0 389,1392.9 390,1392.9 391,1392.9 392,1392.9 393,1392.9 394,1392.8 395,1392.8 396,1392.8 397,1392.8 398,1392.7 399,1392.7 400,1392.7 401,1392.7 402,1392.6 403,1392.6 404,1392.6 405,1392.5 406,1392.5 407,1392.5 408,1392.5 409,1392.4 410,1392.4 411,1392.4 412,1392.4 413,1392.3 414,1392.3 415,1392.3 416,1392.2 417,1392.2 418,1392.2 419,1392.1 420,1392.1 421,1392.1 422,1392.0 423,1392.0 424,1392.0 425,1391.9 426,1391.9 427,1391.9 428,1391.8 429,1391.8 430,1391.8 431,1391.7 432,1391.7 433,1391.7 434,1391.6 435,1391.6 436,1391.6 437,1391.5 438,1391.5 439,1391.5 440,1391.4 441,1391.4 442,1391.3 443,1391.3 444,1391.3 445,1391.2 446,1391.2 447,1391.2 448,1391.1 449,1391.1 450,1391.0 451,1391.0 452,1391.0 453,1390.9 454,1390.9 455,1390.8 456,1390.7 457,1390.7 458,1390.6 459,1390.5 460,1390.4 461,1390.3 462,1390.2 463,1390.1 464,1390.0 465,1389.9 466,1389.8 467,1389.7 468,1389.5 469,1389.4 470,1389.3 471,1389.1 472,1389.0 473,1388.8 474,1388.7 475,1388.5 476,1388.4 477,1388.2 478,1388.1 479,1387.9 480,1387.7 481,1387.6 482,1387.4 483,1387.2 484,1387.0 485,1386.9 486,1386.7 487,1386.5 488,1386.3 489,1386.1 490,1385.9 491,1385.7 492,1385.5 493,1385.3 494,1385.1 495,1384.9 496,1384.7 497,1384.5 498,1384.3 499,1384.1 500,1383.9 501,1383.7 502,1383.5 503,1383.3 504,1383.1 505,1382.9 506,1382.7 507,1382.5 508,1382.3 509,1382.1 510,1381.9 511,1381.7 512,1381.5 513,1381.3 514,1381.1 515,1380.9 516,1380.7 517,1380.5 518,1380.3 519,1380.1 520,1379.9 521,1379.7 522,1379.5 523,1379.3 524,1379.1 525,1378.9 526,1378.7 527,1378.5 528,1378.4 529,1378.2 530,1378.0 531,1377.8 532,1377.7 533,1377.5 534,1377.3 535,1377.2 536,1377.0 537,1376.9 538,1376.7 539,1376.6 540,1376.4 541,1376.3 542,1376.1 543,1376.0 544,1375.9 545,1375.8 546,1375.6 547,1375.5 548,1375.4 549,1375.3 550,1375.2 551,1375.1 552,1375.0 553,1374.8 554,1374.7 555,1374.6 556,1374.5 557,1374.4 558,1374.3 559,1374.1 560,1374.0 561,1373.9 562,1373.8 563,1373.7 564,1373.5 565,1373.4 566,1373.3 567,1373.2 568,1373.0 569,1372.9 570,1372.8 571,1372.7 572,1372.6 573,1372.4 574,1372.3 575,1372.2 576,1372.1 577,1371.9 578,1371.8 579,1371.7 580,1371.6 581,1371.4 582,1371.3 583,1371.2 584,1371.1 585,1370.9 586,1370.8 587,1370.7 588,1370.5 589,1370.4 590,1370.3 591,1370.2 592,1370.0 593,1369.9 594,1369.8 595,1369.6 596,1369.5 597,1369.4 598,1369.3 599,1369.1 600,1369.0 601,1368.9 602,1368.7 603,1368.6 604,1368.4 605,1368.3 606,1368.2 607,1368.0 608,1367.9 609,1367.7 610,1367.6 611,1367.4 612,1367.3 613,1367.1 614,1366.9 615,1366.7 616,1366.6 617,1366.4 618,1366.2 619,1366.0 620,1365.8 621,1365.6 622,1365.5 623,1365.3 624,1365.2 625,1365.2 626,1365.1 627,1365.1 628,1365.0 629,1365.0 630,1365.0 631,1364.9 632,1364.9 633,1364.8 634,1364.7 635,1364.6 636,1364.4 637,1364.2 638,1364.0 639,1363.6 640,1363.2 641,1362.8 642,1362.2 643,1361.5 644,1360.7 645,1359.7 646,1358.6 647,1357.3 648,1355.9 649,1354.2 650,1352.3 651,1350.1 652,1347.6 653,1344.6 654,1341.1 655,1337.0 656,1332.1 657,1326.1 658,1318.8 659,1309.8 660,1298.5 661,1284.4 662,1266.7 663,1244.5 664,1216.9 665,1183.1 666,1142.5 667,1095.2 668,1042.5 669,988.5 670,940.1 671,907.4 672,899.0 673,917.5 674,957.4 675,1008.8 676,1062.6 677,1113.1 678,1157.4 679,1195.0 680,1225.9 681,1250.9 682,1271.0 683,1286.9 684,1299.6 685,1309.7 686,1317.9 687,1324.5 688,1330.0 689,1334.6 690,1338.6 691,1342.0 692,1345.1 693,1347.8 694,1350.3 695,1352.6 696,1354.7 697,1356.7 698,1358.6 699,1360.3 700,1362.0 701,1363.6 702,1365.2 703,1366.6 704,1368.1 705,1369.4 706,1370.7 707,1371.9 708,1373.1 709,1374.3 710,1375.3 711,1376.4 712,1377.3 713,1378.3 714,1379.1 715,1380.0 716,1380.8 717,1381.5 718,1382.2 719,1382.8 720,1383.4 721,1384.0 722,1384.5 723,1385.0 724,1385.4 725,1385.9 726,1386.2 727,1386.6 728,1386.9 729,1387.1 730,1387.4 731,1387.6 732,1387.8 733,1388.0 734,1388.2 735,1388.3 736,1388.5 737,1388.6 738,1388.7 739,1388.8 740,1388.8 741,1388.9 742,1389.0 743,1389.0 744,1389.1 745,1389.1 746,1389.1 747,1389.2 748,1389.2 749,1389.2 750,1389.2 751,1389.2 752,1389.3 753,1389.3 754,1389.3 755,1389.3 756,1389.4 757,1389.4 758,1389.4 759,1389.5 760,1389.5 761,1389.5 762,1389.6 763,1389.7 764,1389.7 765,1389.8 766,1389.9 767,1390.0 768,1390.1 769,1390.2 770,1390.3 771,1390.4 772,1390.5 773,1390.7 774,1390.8 775,1390.9 776,1391.1 777,1391.2 778,1391.4 779,1391.5 780,1391.7 781,1391.9 782,1392.0 783,1392.2 784,1392.4 785,1392.6 786,1392.8 787,1393.0 788,1393.1 789,1393.3 790,1393.5 791,1393.7 792,1393.9 793,1394.1 794,1394.3 795,1394.5 796,1394.7 797,1394.9 798,1395.1 799,1395.3 800,1395.5 801,1395.7 802,1395.8 803,1396.0 804,1396.2 805,1396.4 806,1396.6 807,1396.8 808,1396.9 809,1397.1 810,1397.2 811,1397.4 812,1397.6 813,1397.7 814,1397.8 815,1398.0 816,1398.1 817,1398.2 818,1398.4 819,1398.5 820,1398.6 821,1398.7 822,1398.8 823,1398.8 824,1398.9 825,1399.0 826,1399.0 827,1399.1 828,1399.2 829,1399.2 830,1399.3 831,1399.3 832,1399.4 833,1399.4 834,1399.5 835,1399.5 836,1399.6 837,1399.6 838,1399.7 839,1399.7 840,1399.8 841,1399.8 842,1399.9 843,1399.9 844,1400.0 845,1400.0 846,1400.0 847,1400.1 848,1400.1 849,1400.1 850,1400.2 851,1400.2 852,1400.2 853,1400.3 854,1400.3 855,1400.3 856,1400.4 857,1400.4 858,1400.4 859,1400.5 860,1400.5 861,1400.5 862,1400.5 863,1400.6 864,1400.6 865,1400.6 866,1400.6 867,1400.7 868,1400.7 869,1400.7 870,1400.7 871,1400.8 872,1400.8 873,1400.8 874,1400.8 875,1400.8 876,1400.9 877,1400.9 878,1400.9 879,1400.9 880,1400.9 881,1400.9 882,1400.9 883,1401.0 884,1401.0 885,1401.0 886,1401.0 887,1401.0 888,1401.0 889,1401.0 890,1401.0 891,1401.0 892,1401.0 893,1401.0 894,1401.0 895,1401.0 896,1401.0 897,1400.9 898,1400.9 899,1400.9 900,1400.8 901,1400.8 902,1400.8 903,1400.7 904,1400.6 905,1400.5 906,1400.5 907,1400.3 908,1400.2 909,1400.0 910,1399.8 911,1399.6 912,1399.3 913,1399.0 914,1398.6 915,1398.0 916,1397.4 917,1396.7 918,1395.9 919,1394.9 920,1393.8 921,1392.5 922,1391.0 923,1389.4 924,1387.7 925,1385.9 926,1384.0 927,1382.1 928,1380.2 929,1378.4 930,1376.8 931,1375.4 932,1374.3 933,1373.3 934,1372.4 935,1371.2 936,1369.5 937,1366.9 938,1363.0 939,1357.4 940,1350.1 941,1340.9 942,1330.4 943,1319.4 944,1309.8 945,1303.9 946,1303.6 947,1309.1 948,1318.6 949,1329.6 950,1340.0 951,1348.7 952,1355.2 953,1359.4 954,1361.7 955,1362.9 956,1363.8 957,1365.3 958,1368.1 959,1371.9 960,1376.4 961,1380.9 962,1385.2 963,1388.9 964,1392.0 965,1394.4 966,1396.3 967,1397.8 968,1398.9 969,1399.7 970,1400.4 971,1400.9 972,1401.3 973,1401.7 974,1402.0 975,1402.3 976,1402.5 977,1402.8 978,1403.0 979,1403.2 980,1403.4 981,1403.5 982,1403.7 983,1403.8 984,1403.9 985,1404.1 986,1404.2 987,1404.3 988,1404.4 989,1404.5 990,1404.6 991,1404.7 992,1404.8 993,1404.9 994,1404.9 995,1405.0 996,1405.1 997,1405.2 998,1405.2 999,1405.3 1000,1405.4 1001,1405.4 1002,1405.5 1003,1405.6 1004,1405.6 1005,1405.7 1006,1405.7 1007,1405.8 1008,1405.8 1009,1405.9 1010,1405.9 1011,1406.0 1012,1406.1 1013,1406.1 1014,1406.1 1015,1406.2 1016,1406.2 1017,1406.3 1018,1406.3 1019,1406.4 1020,1406.4 1021,1406.5 1022,1406.5 1023,1406.6 1024,1406.6 1025,1406.7 1026,1406.7 1027,1406.7 1028,1406.8 1029,1406.8 1030,1406.9 1031,1406.9 1032,1407.0 1033,1407.0 1034,1407.0 1035,1407.1 1036,1407.1 1037,1407.2 1038,1407.2 1039,1407.2 1040,1407.3 1041,1407.3 1042,1407.3 1043,1407.4 1044,1407.4 1045,1407.5 1046,1407.5 1047,1407.5 1048,1407.6 1049,1407.6 1050,1407.6 1051,1407.7 1052,1407.7 1053,1407.7 1054,1407.8 1055,1407.8 1056,1407.8 1057,1407.8 1058,1407.9 1059,1407.9 1060,1407.9 1061,1407.9 1062,1408.0 1063,1408.0 1064,1408.0 1065,1408.0 1066,1408.1 1067,1408.1 1068,1408.1 1069,1408.1 1070,1408.1 1071,1408.2 1072,1408.2 1073,1408.2 1074,1408.2 1075,1408.2 1076,1408.2 1077,1408.3 1078,1408.3 1079,1408.3 1080,1408.3 1081,1408.3 1082,1408.3 1083,1408.3 1084,1408.3 1085,1408.3 1086,1408.3 1087,1408.4 1088,1408.4 1089,1408.4 1090,1408.4 1091,1408.4 1092,1408.4 1093,1408.4 1094,1408.4 1095,1408.4 1096,1408.4 1097,1408.4 1098,1408.4 1099,1408.4 1100,1408.4 1101,1408.4 1102,1408.4 1103,1408.3 1104,1408.3 1105,1408.3 1106,1408.3 1107,1408.3 1108,1408.3 1109,1408.3 1110,1408.3 1111,1408.3 1112,1408.2 1113,1408.2 1114,1408.2 1115,1408.2 1116,1408.1 1117,1408.1 1118,1408.1 1119,1408.1 1120,1408.0 1121,1408.0 1122,1408.0 1123,1407.9 1124,1407.9 1125,1407.8 1126,1407.8 1127,1407.7 1128,1407.6 1129,1407.6 1130,1407.5 1131,1407.4 1132,1407.3 1133,1407.2 1134,1407.1 1135,1407.0 1136,1406.9 1137,1406.8 1138,1406.6 1139,1406.5 1140,1406.3 1141,1406.1 1142,1405.9 1143,1405.7 1144,1405.4 1145,1405.1 1146,1404.8 1147,1404.4 1148,1404.0 1149,1403.6 1150,1403.1 1151,1402.5 1152,1401.8 1153,1401.0 1154,1400.1 1155,1398.9 1156,1397.5 1157,1395.7 1158,1393.5 1159,1390.6 1160,1386.9 1161,1382.2 1162,1376.3 1163,1369.0 1164,1360.1 1165,1349.6 1166,1337.5 1167,1323.9 1168,1309.5 1169,1295.1 1170,1281.8 1171,1271.5 1172,1265.7 1173,1265.8 1174,1271.5 1175,1281.9 1176,1295.2 1177,1309.7 1178,1324.1 1179,1337.6 1180,1349.8 1181,1360.3 1182,1369.2 1183,1376.6 1184,1382.5 1185,1387.2 1186,1390.9 1187,1393.8 1188,1396.1 1189,1397.9 1190,1399.3 1191,1400.5 1192,1401.5 1193,1402.3 1194,1403.0 1195,1403.6 1196,1404.1 1197,1404.6 1198,1405.0 1199,1405.4 1200,1405.8 1201,1406.1 1202,1406.3 1203,1406.6 1204,1406.8 1205,1407.1 1206,1407.3 1207,1407.4 1208,1407.6 1209,1407.8 1210,1407.9 1211,1408.0 1212,1408.2 1213,1408.3 1214,1408.4 1215,1408.5 1216,1408.6 1217,1408.7 1218,1408.8 1219,1408.8 1220,1408.9 1221,1409.0 1222,1409.1 1223,1409.1 1224,1409.2 1225,1409.2 1226,1409.3 1227,1409.3 1228,1409.4 1229,1409.4 1230,1409.5 1231,1409.5 1232,1409.5 1233,1409.6 1234,1409.6 1235,1409.6 1236,1409.7 1237,1409.7 1238,1409.7 1239,1409.7 1240,1409.8 1241,1409.8 1242,1409.8 1243,1409.9 1244,1409.9 1245,1409.9 1246,1409.9 1247,1409.9 1248,1410.0 1249,1410.0 1250,1410.0 1251,1410.0 1252,1410.0 1253,1410.0 1254,1410.0 1255,1410.0 1256,1410.0 1257,1409.9 1258,1409.9 1259,1409.9 1260,1409.8 1261,1409.8 1262,1409.7 1263,1409.6 1264,1409.6 1265,1409.5 1266,1409.4 1267,1409.2 1268,1409.1 1269,1408.9 1270,1408.8 1271,1408.6 1272,1408.3 1273,1408.1 1274,1407.8 1275,1407.5 1276,1407.1 1277,1406.8 1278,1406.3 1279,1405.8 1280,1405.2 1281,1404.5 1282,1403.6 1283,1402.6 1284,1401.4 1285,1399.9 1286,1398.1 1287,1395.8 1288,1393.0 1289,1389.6 1290,1385.6 1291,1380.8 1292,1375.3 1293,1369.0 1294,1362.1 1295,1354.5 1296,1346.6 1297,1338.8 1298,1331.5 1299,1325.4 1300,1321.2 1301,1319.5 1302,1320.5 1303,1323.9 1304,1329.3 1305,1335.7 1306,1342.7 1307,1349.6 1308,1356.0 1309,1361.6 1310,1366.3 1311,1369.9 1312,1372.3 1313,1373.5 1314,1373.5 1315,1372.2 1316,1369.7 1317,1366.1 1318,1361.4 1319,1355.7 1320,1349.2 1321,1342.3 1322,1335.3 1323,1328.7 1324,1323.3 1325,1319.8 1326,1318.8 1327,1320.4 1328,1324.6 1329,1330.6 1330,1337.9 1331,1345.7 1332,1353.5 1333,1361.0 1334,1368.0 1335,1374.2 1336,1379.7 1337,1384.4 1338,1388.4 1339,1391.7 1340,1394.5 1341,1396.7 1342,1398.5 1343,1400.0 1344,1401.2 1345,1402.2 1346,1403.0 1347,1403.7 1348,1404.3 1349,1404.8 1350,1405.2 1351,1405.6 1352,1406.0 1353,1406.3 1354,1406.6 1355,1406.8 1356,1407.1 1357,1407.3 1358,1407.5 1359,1407.7 1360,1407.9 1361,1408.0 1362,1408.2 1363,1408.3 1364,1408.4 1365,1408.6 1366,1408.7 1367,1408.8 1368,1408.9 1369,1409.0 1370,1409.1 1371,1409.2 1372,1409.2 1373,1409.3 1374,1409.4 1375,1409.5 1376,1409.5 1377,1409.6 1378,1409.6 1379,1409.7 1380,1409.8 1381,1409.8 1382,1409.9 1383,1409.9 1384,1410.0 1385,1410.0 1386,1410.0 1387,1410.1 1388,1410.1 1389,1410.2 1390,1410.2 1391,1410.2 1392,1410.3 1393,1410.3 1394,1410.3 1395,1410.4 1396,1410.4 1397,1410.4 1398,1410.4 1399,1410.5 1400,1410.5 1401,1410.5 1402,1410.5 1403,1410.5 1404,1410.6 1405,1410.6 1406,1410.6 1407,1410.6 1408,1410.6 1409,1410.6 1410,1410.6 1411,1410.7 1412,1410.7 1413,1410.7 1414,1410.7 1415,1410.7 1416,1410.7 1417,1410.7 1418,1410.7 1419,1410.7 1420,1410.7 1421,1410.7 1422,1410.7 1423,1410.6 1424,1410.6 1425,1410.5 1426,1410.5 1427,1410.4 1428,1410.3 1429,1410.2 1430,1410.1 1431,1410.0 1432,1409.9 1433,1409.8 1434,1409.7 1435,1409.5 1436,1409.4 1437,1409.3 1438,1409.1 1439,1409.0 1440,1408.8 1441,1408.7 1442,1408.5 1443,1408.4 1444,1408.2 1445,1408.1 1446,1407.9 1447,1407.7 1448,1407.6 1449,1407.4 1450,1407.3 1451,1407.1 1452,1407.0 1453,1406.8 1454,1406.7 1455,1406.5 1456,1406.4 1457,1406.2 1458,1406.1 1459,1405.9 1460,1405.8 1461,1405.6 1462,1405.5 1463,1405.3 1464,1405.2 1465,1405.0 1466,1404.8 1467,1404.6 1468,1404.3 1469,1404.0 1470,1403.6 1471,1403.2 1472,1402.7 1473,1402.2 1474,1401.4 1475,1400.6 1476,1399.5 1477,1398.1 1478,1396.4 1479,1394.4 1480,1391.9 1481,1388.9 1482,1385.4 1483,1381.3 1484,1376.7 1485,1371.6 1486,1366.1 1487,1360.5 1488,1355.0 1489,1350.1 1490,1346.3 1491,1344.0 1492,1343.6 1493,1345.2 1494,1348.5 1495,1353.1 1496,1358.4 1497,1364.0 1498,1369.6 1499,1374.8 1500,1379.7 1501,1384.0 1502,1387.8 1503,1391.0 1504,1393.7 1505,1395.9 1506,1397.8 1507,1399.3 1508,1400.5 1509,1401.5 1510,1402.3 1511,1402.9 1512,1403.5 1513,1403.9 1514,1404.3 1515,1404.7 1516,1405.0 1517,1405.2 1518,1405.5 1519,1405.7 1520,1405.9 1521,1406.1 1522,1406.2 1523,1406.4 1524,1406.5 1525,1406.6 1526,1406.8 1527,1406.9 1528,1407.0 1529,1407.1 1530,1407.2 1531,1407.3 1532,1407.5 1533,1407.6 1534,1407.7 1535,1407.8 1536,1407.9 1537,1408.0 1538,1408.1 1539,1408.2 1540,1408.3 1541,1408.4 1542,1408.5 1543,1408.6 1544,1408.7 1545,1408.9 1546,1409.0 1547,1409.1 1548,1409.2 1549,1409.3 1550,1409.4 1551,1409.5 1552,1409.6 1553,1409.7 1554,1409.8 1555,1409.9 1556,1410.0 1557,1410.0 1558,1410.1 1559,1410.2 1560,1410.3 1561,1410.4 1562,1410.5 1563,1410.6 1564,1410.6 1565,1410.7 1566,1410.8 1567,1410.8 1568,1410.9 1569,1411.0 1570,1411.1 1571,1411.2 1572,1411.2 1573,1411.3 1574,1411.4 1575,1411.5 1576,1411.6 1577,1411.7 1578,1411.7 1579,1411.8 1580,1411.9 1581,1412.0 1582,1412.0 1583,1412.1 1584,1412.2 1585,1412.2 1586,1412.3 1587,1412.4 1588,1412.4 1589,1412.4 1590,1412.5 1591,1412.5 1592,1412.5 1593,1412.5 1594,1412.5 1595,1412.5 1596,1412.5 1597,1412.4 1598,1412.4 1599,1412.3 1600,1412.2 1601,1412.0 1602,1411.9 1603,1411.7 1604,1411.4 1605,1411.1 1606,1410.7 1607,1410.2 1608,1409.6 1609,1408.9 1610,1408.0 1611,1407.0 1612,1405.8 1613,1404.3 1614,1402.6 1615,1400.7 1616,1398.6 1617,1396.2 1618,1393.6 1619,1390.9 1620,1388.2 1621,1385.5 1622,1383.0 1623,1380.9 1624,1379.3 1625,1378.6 1626,1378.6 1627,1379.5 1628,1381.0 1629,1383.1 1630,1385.4 1631,1387.9 1632,1390.4 1633,1392.8 1634,1395.0 1635,1397.0 1636,1398.7 1637,1400.2 1638,1401.3 1639,1402.2 1640,1402.8 1641,1403.2 1642,1403.3 1643,1403.1 1644,1402.7 1645,1402.0 1646,1401.0 1647,1399.7 1648,1398.2 1649,1396.5 1650,1394.4 1651,1392.2 1652,1389.8 1653,1387.4 1654,1384.9 1655,1382.5 1656,1380.5 1657,1379.0 1658,1378.1 1659,1378.1 1660,1378.8 1661,1380.1 1662,1382.1 1663,1384.3 1664,1386.8 1665,1389.3 1666,1391.7 1667,1394.1 1668,1396.2 1669,1398.1 1670,1399.8 1671,1401.3 1672,1402.5 1673,1403.6 1674,1404.5 1675,1405.3 1676,1405.9 1677,1406.4 1678,1406.8 1679,1407.1 1680,1407.4 1681,1407.6 1682,1407.8 1683,1407.9 1684,1408.0 1685,1408.2 1686,1408.2 1687,1408.3 1688,1408.4 1689,1408.5 1690,1408.5 1691,1408.6 1692,1408.6 1693,1408.7 1694,1408.7 1695,1408.7 1696,1408.8 1697,1408.8 1698,1408.8 1699,1408.9 1700,1408.9 1701,1408.9 1702,1409.0 1703,1409.0 1704,1409.1 1705,1409.1 1706,1409.2 1707,1409.2 1708,1409.3 1709,1409.3 1710,1409.4 1711,1409.4 1712,1409.5 1713,1409.5 1714,1409.6 1715,1409.6 1716,1409.7 1717,1409.7 1718,1409.8 1719,1409.8 1720,1409.9 1721,1409.9 1722,1410.0 1723,1410.0 1724,1410.0 1725,1410.0 1726,1410.1 1727,1410.1 1728,1410.1 1729,1410.1 1730,1410.1 1731,1410.0 1732,1410.0 1733,1410.0 1734,1409.9 1735,1409.8 1736,1409.8 1737,1409.7 1738,1409.6 1739,1409.5 1740,1409.4 1741,1409.3 1742,1409.1 1743,1408.9 1744,1408.7 1745,1408.5 1746,1408.2 1747,1407.8 1748,1407.4 1749,1406.8 1750,1406.1 1751,1405.2 1752,1404.0 1753,1402.6 1754,1400.7 1755,1398.4 1756,1395.6 1757,1392.3 1758,1388.5 1759,1384.2 1760,1379.6 1761,1375.0 1762,1370.8 1763,1367.4 1764,1365.4 1765,1365.1 1766,1366.5 1767,1369.3 1768,1372.9 1769,1376.9 1770,1380.8 1771,1384.3 1772,1387.4 1773,1390.0 1774,1391.9 1775,1393.4 1776,1394.4 1777,1395.0 1778,1395.2 1779,1395.3 1780,1395.1 1781,1394.9 1782,1394.7 1783,1394.5 1784,1394.3 1785,1394.3 1786,1394.4 1787,1394.7 1788,1395.2 1789,1395.8 1790,1396.5 1791,1397.3 1792,1398.2 1793,1399.2 1794,1400.1 1795,1401.1 1796,1402.0 1797,1403.0 1798,1403.8 1799,1404.7 1800,1405.4 1801,1406.2 1802,1406.8 1803,1407.4 1804,1408.0 1805,1408.5 1806,1408.9 1807,1409.3 1808,1409.6 1809,1409.9 1810,1410.2 1811,1410.4 1812,1410.6 1813,1410.8 1814,1410.9 1815,1411.0 1816,1411.1 1817,1411.2 1818,1411.3 1819,1411.4 1820,1411.5 1821,1411.5 1822,1411.5 1823,1411.6 1824,1411.6 1825,1411.7 1826,1411.7 1827,1411.7 1828,1411.7 1829,1411.7 1830,1411.8 1831,1411.8 1832,1411.8 1833,1411.8 1834,1411.8 1835,1411.8 1836,1411.8 1837,1411.8 1838,1411.8 1839,1411.8 1840,1411.8 1841,1411.8 1842,1411.8 1843,1411.8 1844,1411.8 1845,1411.8 1846,1411.7 1847,1411.7 1848,1411.7 1849,1411.7 1850,1411.7 1851,1411.7 1852,1411.7 1853,1411.7 1854,1411.7 1855,1411.6 1856,1411.6 1857,1411.6 1858,1411.6 1859,1411.6 1860,1411.6 1861,1411.6 1862,1411.5 1863,1411.5 1864,1411.5 1865,1411.5 1866,1411.5 1867,1411.5 1868,1411.5 1869,1411.4 1870,1411.4 1871,1411.4 1872,1411.4 1873,1411.4 1874,1411.4 1875,1411.4 1876,1411.4 1877,1411.3 1878,1411.3 1879,1411.3 1880,1411.3 1881,1411.3 1882,1411.3 1883,1411.3 1884,1411.2 1885,1411.2 1886,1411.2 1887,1411.2 1888,1411.2 1889,1411.2 1890,1411.1 1891,1411.1 1892,1411.1 1893,1411.1 1894,1411.0 1895,1411.0 1896,1411.0 1897,1410.9 1898,1410.9 1899,1410.8 1900,1410.8 1901,1410.7 1902,1410.7 1903,1410.6 1904,1410.5 1905,1410.4 1906,1410.3 1907,1410.2 1908,1410.1 1909,1409.9 1910,1409.8 1911,1409.6 1912,1409.3 1913,1409.0 1914,1408.7 1915,1408.2 1916,1407.7 1917,1407.1 1918,1406.3 1919,1405.4 1920,1404.3 1921,1403.1 1922,1401.6 1923,1399.9 1924,1398.0 1925,1395.9 1926,1393.6 1927,1391.2 1928,1388.8 1929,1386.4 1930,1384.2 1931,1382.4 1932,1381.1 1933,1380.5 1934,1380.7 1935,1381.6 1936,1383.2 1937,1385.2 1938,1387.5 1939,1390.0 1940,1392.4 1941,1394.8 1942,1397.1 1943,1399.1 1944,1401.0 1945,1402.6 1946,1404.0 1947,1405.3 1948,1406.3 1949,1407.2 1950,1407.9 1951,1408.5 1952,1409.1 1953,1409.5 1954,1409.8 1955,1410.1 1956,1410.4 1957,1410.6 1958,1410.8 1959,1411.0 1960,1411.1 1961,1411.3 1962,1411.4 1963,1411.5 1964,1411.6 1965,1411.7 1966,1411.8 1967,1411.9 1968,1411.9 1969,1412.0 1970,1412.1 1971,1412.1 1972,1412.2 1973,1412.2 1974,1412.3 1975,1412.3 1976,1412.4 1977,1412.4 1978,1412.5 1979,1412.5 1980,1412.5 1981,1412.6 1982,1412.6 1983,1412.6 1984,1412.7 1985,1412.7 1986,1412.7 1987,1412.7 1988,1412.8 1989,1412.8 1990,1412.8 1991,1412.8 1992,1412.9 1993,1412.9 1994,1412.9 1995,1412.9 1996,1412.9 1997,1413.0 1998,1413.0 1999,1413.0 2000,1413.0 2001,1413.0 2002,1413.0 2003,1413.1 2004,1413.1 2005,1413.1 2006,1413.1 2007,1413.1 2008,1413.1 2009,1413.2 2010,1413.2 2011,1413.2 2012,1413.2 2013,1413.2 2014,1413.2 2015,1413.2 2016,1413.2 2017,1413.3 2018,1413.3 2019,1413.3 2020,1413.3 2021,1413.3 2022,1413.3 2023,1413.3 2024,1413.3 2025,1413.3 2026,1413.4 2027,1413.4 2028,1413.4 2029,1413.4 2030,1413.4 2031,1413.4 2032,1413.4 2033,1413.4 2034,1413.4 2035,1413.4 2036,1413.5 2037,1413.5 2038,1413.5 2039,1413.5 2040,1413.5 2041,1413.5 2042,1413.5 2043,1413.5 2044,1413.5 2045,1413.5 2046,1413.5 2047,1413.5 2048,1413.6 2049,1413.6 2050,1413.6 2051,1413.6 2052,1413.6 2053,1413.6 2054,1413.6 2055,1413.6 2056,1413.6 2057,1413.6 2058,1413.6 2059,1413.6 2060,1413.6 2061,1413.6 2062,1413.7 2063,1413.7 2064,1413.7 2065,1413.7 2066,1413.7 2067,1413.7 2068,1413.7 2069,1413.7 2070,1413.7 2071,1413.7 2072,1413.7 2073,1413.7 2074,1413.7 2075,1413.7 2076,1413.7 2077,1413.7 2078,1413.7 2079,1413.7 2080,1413.8 2081,1413.8 2082,1413.8 2083,1413.8 2084,1413.8 2085,1413.8 2086,1413.8 2087,1413.8 2088,1413.8 2089,1413.8 2090,1413.8"/>
<path d="M332.5 1458.5H2091.0" stroke="#333" stroke-width="3.6" fill="none"/>
<path d="M2090.5 1460.3V75.0" stroke="#222" stroke-width="3.6" fill="none"/>
<path d="M332.5 1460.3V75.0H2092.3" stroke="#151515" stroke-width="4.7" fill="none" stroke-linejoin="miter"/>
<path d="M442.4 1458.5V1445.5M552.3 1458.5V1432.0M662.2 1458.5V1445.5M772.1 1458.5V1432.0M882.0 1458.5V1445.5M991.9 1458.5V1432.0M1101.8 1458.5V1445.5M1211.8 1458.5V1432.0M1321.7 1458.5V1445.5M1431.6 1458.5V1432.0M1541.5 1458.5V1445.5M1651.4 1458.5V1432.0M1761.3 1458.5V1445.5M1871.2 1458.5V1432.0M1981.1 1458.5V1445.5M332.5 1227.9H345.5M332.5 997.3H359.0M332.5 766.8H345.5M332.5 536.2H359.0M332.5 305.6H345.5" stroke="#111" stroke-width="3.5" fill="none"/>
<text transform="translate(302.4,1475.3) scale(0.957,1)" font-family="'Liberation Sans', Arial, sans-serif" font-size="60" text-anchor="end">0</text>
<text transform="translate(302.4,1014.1) scale(0.957,1)" font-family="'Liberation Sans', Arial, sans-serif" font-size="60" text-anchor="end">1000</text>
<text transform="translate(302.4,553.0) scale(0.957,1)" font-family="'Liberation Sans', Arial, sans-serif" font-size="60" text-anchor="end">2000</text>
<text transform="translate(302.4,91.8) scale(0.957,1)" font-family="'Liberation Sans', Arial, sans-serif" font-size="60" text-anchor="end">3000</text>
<text transform="translate(332.5,1532.7) scale(0.945,1)" font-family="'Liberation Sans', Arial, sans-serif" font-size="61" text-anchor="middle">10</text>
<text transform="translate(552.3,1532.7) scale(0.945,1)" font-family="'Liberation Sans', Arial, sans-serif" font-size="61" text-anchor="middle">20</text>
<text transform="translate(772.1,1532.7) scale(0.945,1)" font-family="'Liberation Sans', Arial, sans-serif" font-size="61" text-anchor="middle">30</text>
<text transform="translate(991.9,1532.7) scale(0.945,1)" font-family="'Liberation Sans', Arial, sans-serif" font-size="61" text-anchor="middle">40</text>
<text transform="translate(1211.8,1532.7) scale(0.945,1)" font-family="'Liberation Sans', Arial, sans-serif" font-size="61" text-anchor="middle">50</text>
<text transform="translate(1431.6,1532.7) scale(0.945,1)" font-family="'Liberation Sans', Arial, sans-serif" font-size="61" text-anchor="middle">60</text>
<text transform="translate(1651.4,1532.7) scale(0.945,1)" font-family="'Liberation Sans', Arial, sans-serif" font-size="61" text-anchor="middle">70</text>
<text transform="translate(1871.2,1532.7) scale(0.945,1)" font-family="'Liberation Sans', Arial, sans-serif" font-size="61" text-anchor="middle">80</text>
<text transform="translate(2091.0,1532.7) scale(0.945,1)" font-family="'Liberation Sans', Arial, sans-serif" font-size="61" text-anchor="middle">90</text>
<text transform="translate(1210.7,1641.3) scale(1.028,1)" font-family="'Liberation Sans', Arial, sans-serif" font-size="62.5" text-anchor="middle">2θ (degree)</text>
<text transform="translate(118.3,764.3) rotate(-90)" font-family="'Liberation Sans', Arial, sans-serif" font-size="64" text-anchor="middle">Intensity (a.u.)</text>
<text transform="translate(637.5,1187.0) rotate(-90) scale(1.04,1)" font-family="'Liberation Sans', Arial, sans-serif" font-size="70">A (101)</text>
<text transform="translate(967.6,1280.4) rotate(-90) scale(1.04,1)" font-family="'Liberation Sans', Arial, sans-serif" font-size="70">A (004)</text>
<text transform="translate(1194.3,1249.6) rotate(-90) scale(1.04,1)" font-family="'Liberation Sans', Arial, sans-serif" font-size="70">A (200)</text>
<text transform="translate(1297.6,1297.0) rotate(-90) scale(1.04,1)" font-family="'Liberation Sans', Arial, sans-serif" font-size="70">A (105)</text>
<text transform="translate(1379.7,1299.5) rotate(-90) scale(1.04,1)" font-family="'Liberation Sans', Arial, sans-serif" font-size="70">A (211)</text>
<text transform="translate(1518.3,1303.8) rotate(-90) scale(1.04,1)" font-family="'Liberation Sans', Arial, sans-serif" font-size="70">A (204)</text>
<text transform="translate(1629.3,1333.6) rotate(-90) scale(1.04,1)" font-family="'Liberation Sans', Arial, sans-serif" font-size="70">A (116)</text>
<text transform="translate(1699.6,1333.6) rotate(-90) scale(1.04,1)" font-family="'Liberation Sans', Arial, sans-serif" font-size="70">A (220)</text>
<text transform="translate(1794.7,1330.6) rotate(-90) scale(1.04,1)" font-family="'Liberation Sans', Arial, sans-serif" font-size="70">A (215)</text>
<text transform="translate(1960.1,1333.6) rotate(-90) scale(1.04,1)" font-family="'Liberation Sans', Arial, sans-serif" font-size="70">A (224)</text>
<rect x="1366" y="143.6" width="164" height="5.2" fill="#3f3b3f"/>
<text transform="translate(1558,164.7) scale(1.045,1)" font-family="'Liberation Sans', Arial, sans-serif" font-size="64">NTi-300-0.5 h</text>
<rect x="1366" y="230.8" width="164" height="5.2" fill="#ff9a30"/>
<text transform="translate(1558,254.2) scale(1.045,1)" font-family="'Liberation Sans', Arial, sans-serif" font-size="64">NTi-300-1 h</text>
<rect x="1366" y="317.9" width="164" height="5.2" fill="#00c060"/>
<text transform="translate(1558,343.7) scale(1.045,1)" font-family="'Liberation Sans', Arial, sans-serif" font-size="64">NTi-300-4 h</text>
<rect x="1366" y="405.1" width="164" height="5.2" fill="#ff5f5f"/>
<text transform="translate(1558,433.2) scale(1.045,1)" font-family="'Liberation Sans', Arial, sans-serif" font-size="64">NTi-400-0.5 h</text>
<rect x="1366" y="492.2" width="164" height="5.2" fill="#5a5aff"/>
<text transform="translate(1558,522.7) scale(1.045,1)" font-family="'Liberation Sans', Arial, sans-serif" font-size="64">NTi-500-0.5 h</text>
<path d="M2004.2 146.5V488" stroke="#858585" stroke-width="3"/>
<path d="M1996.2 485H2012.4L2004.3 502.4Z" fill="#111"/>
</svg>
</body></html>
